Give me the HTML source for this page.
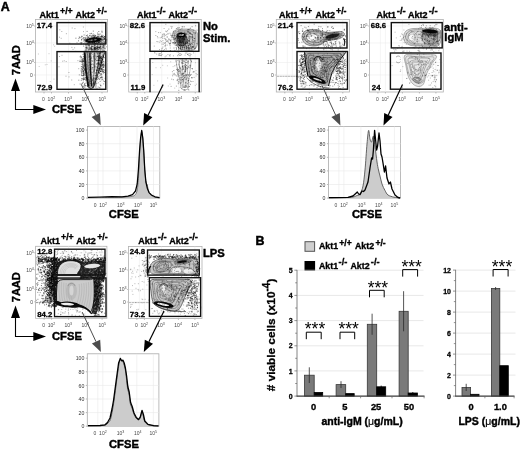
<!DOCTYPE html>
<html><head><meta charset="utf-8"><title>Figure</title>
<style>
html,body{margin:0;padding:0;background:#fff;}
svg{display:block;font-family:'Liberation Sans', Arial, sans-serif;}
</style></head>
<body>
<svg width="520" height="450" viewBox="0 0 520 450" font-family='"Liberation Sans", Arial, sans-serif'>
<rect width="520" height="450" fill="#fff"/>
<text x="0.8" y="10.5" font-size="12.4" font-weight="bold" fill="#000" stroke="#000" stroke-width="0.47" text-anchor="start" >A</text>
<text x="255.4" y="244.6" font-size="12.4" font-weight="bold" fill="#000" stroke="#000" stroke-width="0.47" text-anchor="start" >B</text>
<path d="M15.5 90V109.5H34" fill="none" stroke="#000" stroke-width="1.1"/>
<path d="M15.5 78.6L20 91H11Z" fill="#000"/>
<path d="M46 109.5L33.3 105V114Z" fill="#000"/>
<text x="52" y="112.6" font-size="11.2" font-weight="bold" fill="#000" stroke="#000" stroke-width="0.43" text-anchor="start" >CFSE</text>
<text transform="translate(19.8 75.2) rotate(-90)" font-size="11" font-weight="bold" stroke="#000" stroke-width="0.35">7AAD</text>
<path d="M15.5 317V336.5H34" fill="none" stroke="#000" stroke-width="1.1"/>
<path d="M15.5 305.6L20 318H11Z" fill="#000"/>
<path d="M46 336.5L33.3 332V341Z" fill="#000"/>
<text x="52" y="339.6" font-size="11.2" font-weight="bold" fill="#000" stroke="#000" stroke-width="0.43" text-anchor="start" >CFSE</text>
<text transform="translate(19.8 302.2) rotate(-90)" font-size="11" font-weight="bold" stroke="#000" stroke-width="0.35">7AAD</text>
<rect x="35.5" y="19.5" width="72.1" height="72.5" fill="#fff" stroke="#b0b0b0" stroke-width="0.8"/>
<line x1="46.5" y1="19.5" x2="46.5" y2="92" stroke="#ececec" stroke-width="0.6"/>
<line x1="51.5" y1="19.5" x2="51.5" y2="92" stroke="#ececec" stroke-width="0.6"/>
<line x1="68.5" y1="19.5" x2="68.5" y2="92" stroke="#ececec" stroke-width="0.6"/>
<line x1="85.5" y1="19.5" x2="85.5" y2="92" stroke="#ececec" stroke-width="0.6"/>
<line x1="102.0" y1="19.5" x2="102.0" y2="92" stroke="#ececec" stroke-width="0.6"/>
<line x1="35.5" y1="26.0" x2="107.6" y2="26.0" stroke="#ececec" stroke-width="0.6"/>
<line x1="35.5" y1="43.0" x2="107.6" y2="43.0" stroke="#ececec" stroke-width="0.6"/>
<line x1="35.5" y1="62.5" x2="107.6" y2="62.5" stroke="#ececec" stroke-width="0.6"/>
<line x1="35.5" y1="75.0" x2="107.6" y2="75.0" stroke="#ececec" stroke-width="0.6"/>
<text x="43.5" y="100.5" font-size="5" font-weight="normal" fill="#484848" text-anchor="middle">0</text>
<text x="51.4" y="100.5" font-size="5" font-weight="normal" fill="#484848" text-anchor="middle">10<tspan dy="-1.9" font-size="3.6">2</tspan></text>
<text x="68.1" y="100.5" font-size="5" font-weight="normal" fill="#484848" text-anchor="middle">10<tspan dy="-1.9" font-size="3.6">3</tspan></text>
<text x="85.2" y="100.5" font-size="5" font-weight="normal" fill="#484848" text-anchor="middle">10<tspan dy="-1.9" font-size="3.6">4</tspan></text>
<text x="102.2" y="100.5" font-size="5" font-weight="normal" fill="#484848" text-anchor="middle">10<tspan dy="-1.9" font-size="3.6">5</tspan></text>
<text x="33.7" y="27.7" font-size="5" font-weight="normal" fill="#484848" text-anchor="end">10<tspan dy="-1.9" font-size="3.6">5</tspan></text>
<text x="33.7" y="44.7" font-size="5" font-weight="normal" fill="#484848" text-anchor="end">10<tspan dy="-1.9" font-size="3.6">4</tspan></text>
<text x="33.7" y="64.3" font-size="5" font-weight="normal" fill="#484848" text-anchor="end">10<tspan dy="-1.9" font-size="3.6">3</tspan></text>
<text x="32.9" y="77.1" font-size="5" font-weight="normal" fill="#484848" text-anchor="end">0</text>
<line x1="34.0" y1="26.0" x2="35.5" y2="26.0" stroke="#888" stroke-width="0.5"/>
<line x1="34.0" y1="43.0" x2="35.5" y2="43.0" stroke="#888" stroke-width="0.5"/>
<line x1="34.0" y1="62.5" x2="35.5" y2="62.5" stroke="#888" stroke-width="0.5"/>
<line x1="34.0" y1="75.0" x2="35.5" y2="75.0" stroke="#888" stroke-width="0.5"/>
<line x1="44.0" y1="92" x2="44.0" y2="93.5" stroke="#888" stroke-width="0.5"/>
<line x1="51.5" y1="92" x2="51.5" y2="93.5" stroke="#888" stroke-width="0.5"/>
<line x1="68.5" y1="92" x2="68.5" y2="93.5" stroke="#888" stroke-width="0.5"/>
<line x1="85.5" y1="92" x2="85.5" y2="93.5" stroke="#888" stroke-width="0.5"/>
<line x1="102.0" y1="92" x2="102.0" y2="93.5" stroke="#888" stroke-width="0.5"/>
<path d="M66.4 33.7h.01M74.9 28.6h.01M71.9 47.4h.01M59.5 56.5h.01M59.0 51.8h.01M59.8 29.8h.01M69.0 76.9h.01M61.2 38.3h.01M74.3 84.7h.01M73.0 49.4h.01M83.4 27.0h.01M80.3 42.5h.01M61.8 31.5h.01M66.0 76.2h.01M62.7 61.2h.01M74.6 47.8h.01M72.2 28.0h.01M59.5 37.2h.01M75.7 51.4h.01M66.2 61.5h.01M69.8 43.2h.01M78.7 68.7h.01M64.3 60.8h.01M71.7 80.0h.01M77.0 42.4h.01M83.5 31.6h.01M68.9 72.5h.01M62.0 55.3h.01M59.0 66.8h.01M77.9 60.7h.01" stroke="#444" stroke-width="0.6" stroke-linecap="square" fill="none" opacity="0.7"/>
<path d="M54.6 46.3h.01M51.2 60.9h.01M49.0 53.7h.01M54.0 79.1h.01M47.0 64.5h.01M39.2 66.5h.01M50.3 81.6h.01M53.6 44.8h.01M45.3 64.8h.01M38.4 54.0h.01" stroke="#666" stroke-width="0.6" stroke-linecap="square" fill="none" opacity="0.6"/>
<ellipse cx="94" cy="40" rx="11" ry="4.2" transform="rotate(-6 94 40)" fill="#888" opacity="0.5"/>
<ellipse cx="93.2" cy="40" rx="8.2" ry="2.5" transform="rotate(-7 93.2 40)" fill="#0a0a0a" opacity="0.95"/>
<ellipse cx="92.4" cy="40.2" rx="4.6" ry="0.65" transform="rotate(-7 92.4 40.2)" fill="#d8d8d8" opacity="0.85"/>
<path d="M100 36.5 C103 36.5 105 38 105.3 41 C105 43 103 44 101 44" fill="none" stroke="#333" stroke-width="0.5"/>
<path d="M96.2 41.2h.01M105.3 41.8h.01M98.0 41.6h.01M83.8 43.9h.01M101.0 41.5h.01M81.1 37.8h.01M100.2 34.0h.01M93.2 43.1h.01M85.6 45.0h.01M98.3 39.3h.01M96.7 41.9h.01M95.3 43.5h.01M90.0 38.5h.01M101.6 39.9h.01M88.5 42.8h.01M104.5 38.4h.01M85.1 39.4h.01M93.5 38.8h.01M104.1 36.5h.01M103.1 35.7h.01M89.1 41.8h.01M102.2 42.5h.01M96.8 40.3h.01M95.5 41.6h.01M93.3 40.7h.01M98.4 39.8h.01M99.7 41.6h.01M91.6 38.6h.01M94.4 42.8h.01M92.2 41.0h.01M86.9 40.6h.01M97.2 40.6h.01M91.6 41.9h.01M96.4 38.1h.01M90.7 39.5h.01M93.0 39.6h.01M75.9 38.2h.01M101.4 36.1h.01M94.0 42.9h.01M100.3 44.6h.01M82.9 38.7h.01M92.2 41.8h.01M101.9 31.2h.01M101.9 35.2h.01M99.1 35.0h.01M95.7 43.6h.01M93.5 40.4h.01M99.9 40.3h.01M93.9 44.7h.01M101.6 38.9h.01M100.7 38.9h.01M95.4 42.1h.01M96.0 41.8h.01M84.1 35.0h.01M98.7 36.7h.01M87.5 35.1h.01M103.1 42.2h.01M104.5 36.8h.01M94.5 36.2h.01M99.7 44.9h.01M88.4 44.8h.01M101.2 39.2h.01M81.1 44.3h.01M93.8 37.9h.01M97.2 41.1h.01M104.7 36.5h.01M102.2 44.6h.01M104.4 39.2h.01M89.4 43.1h.01M95.3 40.2h.01M104.2 39.0h.01M78.9 38.6h.01M81.9 42.4h.01M96.7 37.8h.01M94.4 42.5h.01M95.0 44.0h.01M94.1 43.1h.01M104.6 45.0h.01M89.9 42.6h.01M81.7 36.3h.01M81.2 43.2h.01M86.1 39.8h.01M93.2 39.7h.01M90.5 40.5h.01M106.7 39.9h.01M98.1 43.0h.01M93.2 35.8h.01M90.7 43.2h.01M83.3 37.9h.01M101.4 42.3h.01M94.6 42.4h.01M95.6 36.0h.01M83.9 37.8h.01M100.8 38.0h.01M88.4 37.3h.01M84.1 39.4h.01M86.5 41.0h.01M78.5 40.8h.01M90.1 33.6h.01M99.4 38.9h.01M79.3 37.0h.01M96.5 38.3h.01M99.8 42.2h.01M99.0 40.8h.01M103.6 41.9h.01M97.6 33.1h.01M100.6 44.0h.01M92.5 38.3h.01M97.7 47.6h.01M88.2 42.0h.01M98.3 42.7h.01M88.3 39.5h.01M96.5 42.4h.01M94.3 39.2h.01M87.6 38.7h.01M100.6 40.1h.01M88.7 37.1h.01M98.8 31.5h.01M98.7 41.3h.01M106.0 41.2h.01M94.0 41.5h.01M81.3 43.1h.01M96.7 37.6h.01M103.5 45.6h.01M85.0 37.7h.01M96.5 40.4h.01M91.8 36.7h.01M86.4 35.5h.01M106.1 43.0h.01M88.6 40.6h.01M79.8 37.4h.01M94.1 41.5h.01M89.6 39.4h.01M97.6 41.0h.01M98.8 40.5h.01M92.3 42.3h.01M94.8 37.2h.01M90.2 39.8h.01M93.8 40.3h.01M94.5 40.4h.01M93.6 35.8h.01M97.4 43.2h.01M97.5 39.2h.01M97.5 36.7h.01M81.6 40.0h.01M88.2 42.2h.01M87.1 31.4h.01M87.4 44.8h.01M91.9 35.4h.01M89.3 41.5h.01M97.9 40.4h.01M104.6 42.1h.01M94.4 41.7h.01M105.8 42.9h.01M101.5 36.3h.01M93.5 42.1h.01M92.5 43.2h.01M98.6 42.7h.01M93.1 47.9h.01M102.9 39.1h.01M95.1 48.1h.01M92.2 42.6h.01M101.2 39.8h.01M86.6 40.4h.01M96.9 43.4h.01M99.8 39.9h.01M100.3 41.5h.01M95.9 40.0h.01M92.8 42.0h.01M87.3 37.8h.01M94.5 35.1h.01M91.5 33.4h.01M89.9 41.6h.01M98.4 39.6h.01M92.9 35.3h.01M101.9 37.0h.01M93.2 34.0h.01M99.8 42.8h.01M81.6 39.6h.01M98.8 34.2h.01M82.1 36.4h.01M90.2 35.3h.01M94.7 40.6h.01M98.8 42.0h.01M104.7 43.5h.01M85.6 38.2h.01M87.3 36.4h.01M93.9 39.8h.01M97.8 34.7h.01M86.1 39.7h.01M93.1 38.8h.01M94.1 37.4h.01M99.3 40.9h.01M93.9 37.6h.01M93.3 31.1h.01M87.8 39.9h.01M84.3 40.4h.01M95.5 35.4h.01M92.8 38.8h.01M97.6 41.8h.01M94.3 37.1h.01M93.5 39.6h.01M99.5 40.7h.01M89.6 35.5h.01M92.0 37.4h.01M86.9 39.4h.01M91.2 40.1h.01M98.1 38.5h.01M102.0 40.2h.01M102.1 32.2h.01M89.4 40.6h.01M98.6 47.3h.01M96.7 43.9h.01M99.7 42.8h.01M98.0 39.3h.01M98.0 36.3h.01M102.5 36.5h.01M96.2 46.6h.01M93.0 39.9h.01M102.4 39.9h.01M89.0 40.6h.01M98.5 42.1h.01M89.2 45.4h.01M105.8 39.9h.01M96.3 38.4h.01M104.1 37.5h.01M99.1 38.3h.01M89.8 42.1h.01M103.6 39.8h.01M89.9 42.4h.01" stroke="#000" stroke-width="0.62" stroke-linecap="square" fill="none" opacity="0.8"/>
<path d="M85 44.5 L104.5 44.5 L104.5 51.5 L84.5 51.5Z" fill="#aaa" opacity="0.4"/>
<path d="M87 43.5 C86.6 46 86.4 49 86.2 52" fill="none" stroke="#333" stroke-width="0.45" opacity="0.8"/>
<path d="M89.5 43.5 C89.1 46 88.9 49 88.7 52" fill="none" stroke="#333" stroke-width="0.45" opacity="0.8"/>
<path d="M92 43.5 C91.6 46 91.4 49 91.2 52" fill="none" stroke="#333" stroke-width="0.45" opacity="0.8"/>
<path d="M95 43.5 C94.6 46 94.4 49 94.2 52" fill="none" stroke="#333" stroke-width="0.45" opacity="0.8"/>
<path d="M98 43.5 C97.6 46 97.4 49 97.2 52" fill="none" stroke="#333" stroke-width="0.45" opacity="0.8"/>
<path d="M101 43.5 C100.6 46 100.4 49 100.2 52" fill="none" stroke="#333" stroke-width="0.45" opacity="0.8"/>
<path d="M103.5 43.5 C103.1 46 102.9 49 102.7 52" fill="none" stroke="#333" stroke-width="0.45" opacity="0.8"/>
<path d="M94.7 48.7h.01M104.1 50.5h.01M91.9 53.0h.01M95.0 49.7h.01M91.1 47.9h.01M84.5 51.9h.01M103.2 45.3h.01M86.0 44.4h.01M102.1 47.0h.01M94.6 47.3h.01M94.3 45.6h.01M95.1 44.8h.01M94.6 48.7h.01M97.8 47.5h.01M89.6 48.4h.01M92.1 51.4h.01M99.6 47.7h.01M92.2 46.5h.01M89.4 47.2h.01M96.8 49.1h.01M98.4 52.6h.01M90.8 48.0h.01M91.9 48.4h.01M95.9 48.9h.01M93.6 48.8h.01M95.3 49.7h.01M83.6 46.1h.01M95.0 45.7h.01M88.7 49.4h.01M91.1 49.4h.01M99.5 48.7h.01M98.0 47.8h.01M86.5 47.9h.01M97.7 46.8h.01M94.4 49.6h.01M89.7 49.4h.01M106.2 46.8h.01M95.9 47.7h.01M104.2 48.7h.01M100.4 46.5h.01M94.9 48.0h.01M84.3 51.2h.01M100.4 44.2h.01M99.5 47.7h.01M97.7 48.8h.01M86.0 47.5h.01M104.0 46.7h.01M88.9 45.0h.01M87.7 48.7h.01M105.2 48.9h.01M96.5 52.9h.01M91.9 46.5h.01M98.2 49.2h.01M88.9 45.4h.01M96.7 48.5h.01M87.2 47.6h.01M91.7 49.0h.01M94.3 47.8h.01M92.9 50.3h.01M103.3 47.2h.01M100.1 46.3h.01M95.4 49.6h.01M104.1 47.2h.01M94.6 48.4h.01M86.0 48.0h.01M90.9 48.8h.01M88.2 43.7h.01M95.2 48.6h.01M91.7 50.0h.01M93.4 46.7h.01M97.9 44.5h.01M90.9 48.0h.01M100.1 47.6h.01M96.9 46.6h.01M96.8 51.7h.01M90.9 53.2h.01M91.1 48.0h.01M96.0 50.3h.01M87.6 43.4h.01M98.6 49.7h.01M98.7 53.8h.01M96.2 48.6h.01M100.6 48.8h.01M105.0 45.3h.01M92.7 40.4h.01M99.9 47.2h.01M100.5 52.7h.01M95.0 47.4h.01M92.0 46.2h.01M91.2 49.4h.01M95.2 48.1h.01M94.0 50.0h.01M98.0 47.7h.01M99.0 47.7h.01M88.1 51.2h.01M97.8 45.9h.01M101.5 48.8h.01M85.6 51.5h.01M97.0 50.0h.01M96.2 47.7h.01M85.7 50.1h.01M95.2 47.4h.01M97.1 48.2h.01M99.1 47.2h.01M94.8 43.3h.01M92.5 49.5h.01M103.0 47.2h.01M94.3 51.5h.01M93.0 49.6h.01M105.1 48.1h.01" stroke="#000" stroke-width="0.6" stroke-linecap="square" fill="none" opacity="0.75"/>
<path d="M83.6 52 L105 52 L97.5 76 L93.5 88.4 L88.5 88.4 L85.2 70Z" fill="#8c8c8c" opacity="0.6"/>
<path d="M84.6 52.3 C85 64 86.3 76 88.3 86.5" fill="none" stroke="#0d0d0d" stroke-width="1.9"/>
<path d="M87.3 52.5 C87.6 64 88.6 76 90 87.5" fill="none" stroke="#444" stroke-width="0.6"/>
<path d="M89.9 52.5 C90 64 90.6 76 91.6 86.5" fill="none" stroke="#111" stroke-width="1.3"/>
<path d="M92.4 53 C92.5 62 92.8 72 93 80" fill="none" stroke="#f4f4f4" stroke-width="1.1"/>
<path d="M94.6 52.5 C94.6 62 94.2 74 93.4 85" fill="none" stroke="#333" stroke-width="0.7"/>
<path d="M97.3 53.5 C96.8 60 95.8 70 94.8 78" fill="none" stroke="#f4f4f4" stroke-width="1.3"/>
<path d="M100 52.5 C99 60 97 70 95.4 80" fill="none" stroke="#222" stroke-width="0.7"/>
<path d="M102.4 53 C101 59 99 66 97.4 72" fill="none" stroke="#eee" stroke-width="0.9"/>
<path d="M104.6 52.5 C102.5 60 99 70 96.6 78 C95.5 82 94.4 86 92.6 88 C91 88.8 89.4 88.4 88.4 86.6" fill="none" stroke="#1a1a1a" stroke-width="0.9"/>
<path d="M103.7 56.9h.01M101.0 63.2h.01M100.8 75.3h.01M99.0 69.0h.01M97.8 69.0h.01M102.0 61.2h.01M98.7 58.4h.01M99.5 72.6h.01M100.7 60.0h.01M101.9 79.8h.01M100.5 67.7h.01M103.7 66.7h.01M97.2 88.9h.01M100.4 68.2h.01M103.0 70.7h.01M99.8 53.5h.01M100.8 74.3h.01M97.7 53.7h.01M99.8 59.6h.01M101.7 57.0h.01M98.2 60.1h.01M100.4 57.4h.01M100.5 71.5h.01M103.6 81.0h.01M98.5 59.8h.01M98.6 63.7h.01M101.7 63.7h.01M102.6 66.1h.01M101.7 68.4h.01M103.9 61.8h.01M102.8 59.9h.01M102.4 55.9h.01M100.2 81.3h.01M101.7 62.4h.01M97.5 56.1h.01M101.0 73.4h.01M101.6 69.2h.01M100.4 77.5h.01M99.5 58.5h.01M102.8 64.6h.01M99.8 58.2h.01M99.8 70.2h.01M101.6 65.8h.01M97.9 71.7h.01M99.8 60.6h.01M102.6 77.2h.01M98.7 68.4h.01M98.2 87.1h.01M99.2 75.9h.01M98.8 72.1h.01M99.4 69.0h.01M100.3 57.3h.01M96.2 72.5h.01M96.0 75.5h.01M99.0 65.4h.01M103.8 65.2h.01M103.6 71.4h.01M98.4 72.6h.01M101.8 70.5h.01M102.8 71.3h.01M100.9 68.9h.01M99.6 64.4h.01M102.8 59.6h.01M103.5 56.1h.01M101.2 58.7h.01M100.9 57.1h.01M96.3 74.9h.01M101.3 58.4h.01M101.0 73.9h.01M98.0 62.9h.01M101.9 69.3h.01M103.7 67.3h.01M100.5 61.2h.01M101.2 59.7h.01M97.8 56.6h.01M98.9 57.9h.01M97.5 70.4h.01M97.1 70.6h.01M97.9 67.5h.01M104.1 66.0h.01M98.6 64.5h.01M98.9 65.6h.01M99.3 64.8h.01M102.4 71.7h.01M102.9 69.9h.01M99.8 63.8h.01M99.8 60.9h.01M99.6 63.8h.01M98.0 63.8h.01M101.8 62.4h.01M101.8 61.0h.01M102.7 67.7h.01M100.6 58.1h.01M102.2 59.1h.01M101.1 58.9h.01M101.0 71.5h.01M98.2 63.7h.01M102.1 65.5h.01M103.7 83.9h.01M102.7 79.3h.01M102.9 72.1h.01M98.9 56.9h.01M102.8 54.9h.01M98.7 56.7h.01M101.1 56.5h.01M103.9 63.2h.01M97.7 77.1h.01M99.0 66.2h.01M100.5 60.9h.01M101.3 57.1h.01M97.2 56.4h.01M100.4 64.6h.01M101.9 65.2h.01M98.4 56.9h.01M101.8 69.3h.01M100.2 62.3h.01M102.9 64.2h.01M102.4 69.8h.01M101.1 77.1h.01M99.0 60.4h.01M98.4 56.0h.01M104.5 81.6h.01M100.6 69.7h.01M103.6 72.1h.01M98.8 68.5h.01M104.2 65.0h.01M98.3 60.5h.01M98.8 55.4h.01M104.4 57.7h.01M100.6 85.6h.01M103.6 67.4h.01M98.9 68.1h.01M104.7 70.2h.01M103.8 65.0h.01M101.8 62.0h.01M101.6 77.0h.01M96.8 63.4h.01M101.1 58.3h.01M99.7 71.9h.01M105.7 70.3h.01M105.5 64.8h.01M100.4 52.8h.01M100.4 53.0h.01M100.7 68.7h.01M100.6 66.8h.01M98.3 78.3h.01M100.0 56.4h.01M97.9 60.5h.01M101.3 52.2h.01M100.1 78.3h.01M102.3 62.5h.01M100.8 62.8h.01M100.4 71.3h.01M100.4 55.1h.01M102.2 57.9h.01M100.9 85.8h.01M97.8 52.8h.01M96.6 70.2h.01M98.5 60.3h.01M101.4 77.6h.01M105.5 74.3h.01M100.9 65.8h.01M105.2 78.3h.01M99.7 68.6h.01M101.2 64.5h.01M103.7 69.4h.01M97.4 78.0h.01M105.3 72.1h.01M101.9 68.2h.01M101.0 65.7h.01M99.1 57.9h.01M101.5 66.7h.01M100.6 57.2h.01M99.4 73.5h.01M102.5 65.0h.01M99.7 79.5h.01M99.0 70.5h.01M103.5 61.3h.01M102.6 52.8h.01M103.1 66.0h.01M96.4 70.7h.01M98.2 76.8h.01M98.7 62.4h.01M101.2 60.7h.01M101.2 58.5h.01M102.2 64.1h.01M103.5 64.3h.01M101.7 74.7h.01M97.7 79.5h.01M100.1 87.9h.01M100.1 70.8h.01M99.5 52.8h.01M103.4 73.1h.01M104.5 72.6h.01M98.8 57.2h.01M98.4 69.8h.01M101.4 61.3h.01M100.9 62.5h.01M101.1 71.5h.01M103.0 57.1h.01" stroke="#000" stroke-width="0.6" stroke-linecap="square" fill="none" opacity="0.78"/>
<path d="M86.0 83.1h.01M92.5 79.3h.01M85.4 62.0h.01M89.9 74.7h.01M96.3 85.1h.01M94.1 77.3h.01M95.1 75.5h.01M94.2 60.2h.01M93.2 75.5h.01M93.3 71.8h.01M92.1 76.7h.01M89.7 65.0h.01M90.8 72.9h.01M98.4 63.0h.01M100.2 84.3h.01M95.2 73.0h.01M99.1 63.8h.01M91.6 53.2h.01M93.9 82.1h.01M94.1 71.1h.01M91.2 68.0h.01M86.3 78.6h.01M90.4 52.7h.01M89.0 56.1h.01M95.4 78.7h.01M86.6 77.1h.01M95.6 59.0h.01M86.1 57.1h.01M89.5 70.1h.01M89.2 55.7h.01M89.8 81.6h.01M95.4 73.2h.01M89.9 59.4h.01M88.1 72.1h.01M89.0 57.5h.01M94.4 82.0h.01M92.7 54.3h.01M96.9 69.6h.01M95.7 83.7h.01M96.5 60.7h.01M96.2 75.3h.01M85.9 61.1h.01M86.3 64.7h.01M94.3 53.2h.01M93.5 83.7h.01M86.7 78.7h.01M91.2 69.2h.01M91.4 78.0h.01M96.2 67.0h.01M86.6 74.9h.01M90.1 73.5h.01M93.1 85.5h.01M96.6 60.6h.01M93.4 87.2h.01M89.9 71.2h.01M96.8 81.1h.01M87.0 69.0h.01M88.6 79.7h.01M88.7 68.0h.01M90.0 64.1h.01M93.9 56.3h.01M93.9 58.4h.01M89.8 72.4h.01M89.7 69.4h.01M98.4 66.3h.01M91.4 74.8h.01M90.5 79.0h.01M86.9 73.4h.01M90.0 56.4h.01M99.1 55.8h.01M99.0 73.9h.01M97.8 54.3h.01M96.8 83.5h.01M91.5 64.5h.01M101.8 68.1h.01M90.3 58.4h.01M93.8 70.0h.01M92.7 86.7h.01M90.7 71.7h.01M97.8 54.0h.01M96.2 88.0h.01M86.6 52.8h.01M94.0 83.4h.01M85.5 62.2h.01M89.1 62.8h.01M92.2 72.5h.01M90.6 66.2h.01M89.8 67.4h.01M87.3 66.8h.01M99.7 67.0h.01M87.0 69.1h.01M89.1 74.8h.01M93.5 64.8h.01M88.3 53.1h.01M97.4 68.9h.01M87.4 65.1h.01M92.8 64.1h.01M87.8 86.3h.01M89.0 76.1h.01M85.2 62.7h.01M93.0 78.4h.01M87.5 73.1h.01M93.5 57.1h.01M93.9 55.2h.01M88.8 65.8h.01M90.3 75.2h.01M90.4 81.2h.01M98.2 70.8h.01M95.8 56.1h.01M95.2 69.1h.01M94.6 66.3h.01M96.8 58.2h.01M96.6 57.1h.01M87.8 54.7h.01M90.8 58.5h.01M89.8 54.5h.01M92.1 60.5h.01M92.5 69.0h.01M89.9 56.4h.01M89.1 62.5h.01M90.7 77.9h.01M90.2 77.6h.01M96.9 71.2h.01M94.0 67.5h.01M95.8 59.6h.01M95.9 67.1h.01M96.5 64.4h.01M90.4 68.9h.01M90.3 59.5h.01M92.4 67.7h.01M98.1 66.5h.01M99.5 87.6h.01M98.9 78.7h.01M92.5 67.6h.01M91.4 57.2h.01M91.7 58.3h.01M98.6 72.4h.01M91.8 61.0h.01M87.7 52.4h.01M91.9 64.2h.01M97.8 67.6h.01M92.7 61.5h.01M89.6 84.0h.01M96.0 86.6h.01M90.6 66.4h.01M88.5 77.6h.01M86.4 72.8h.01M96.4 82.9h.01M88.2 79.1h.01M89.1 56.9h.01M86.7 79.9h.01M98.6 58.9h.01M89.0 61.9h.01M102.0 78.1h.01M89.3 80.2h.01M99.5 62.8h.01M89.2 59.9h.01M87.7 78.8h.01M93.2 56.8h.01M95.1 66.1h.01" stroke="#000" stroke-width="0.55" stroke-linecap="square" fill="none" opacity="0.6"/>
<path d="M81.4 74.8h.01M82.2 64.2h.01M83.1 71.8h.01M80.5 61.5h.01M84.4 85.4h.01M84.7 64.7h.01M81.4 57.7h.01M82.3 69.6h.01M83.4 86.3h.01M84.0 56.2h.01M83.7 60.1h.01M80.1 56.8h.01M85.1 59.2h.01M81.1 70.2h.01M83.9 74.7h.01M84.7 83.5h.01M82.0 78.8h.01M81.7 75.6h.01M83.8 70.7h.01M85.2 67.8h.01M85.5 77.6h.01M83.7 61.8h.01M82.1 62.2h.01M83.1 67.7h.01M84.9 58.5h.01M82.2 64.5h.01M83.8 56.6h.01M83.5 71.1h.01M83.8 74.6h.01M84.0 69.8h.01M80.1 60.2h.01M79.3 74.9h.01M84.1 65.9h.01M82.0 61.6h.01M83.4 82.2h.01M82.6 58.4h.01M82.5 70.1h.01M83.6 71.0h.01M83.4 78.2h.01M83.8 65.1h.01M84.4 70.1h.01M82.8 59.7h.01M81.0 57.9h.01M84.8 74.0h.01M83.5 73.7h.01M82.4 68.8h.01M83.6 74.1h.01M83.4 66.4h.01M83.3 60.9h.01M84.8 77.2h.01M84.9 55.1h.01M81.9 71.0h.01M84.4 56.8h.01M82.8 63.6h.01M83.6 71.7h.01M83.0 54.4h.01M85.7 85.6h.01M83.3 79.3h.01M84.3 75.3h.01M84.4 59.6h.01M84.5 79.1h.01M82.9 61.4h.01M82.0 69.3h.01M83.4 75.4h.01M84.7 73.2h.01M84.0 65.7h.01M83.3 58.9h.01M83.8 67.7h.01M84.1 58.6h.01M83.6 68.5h.01M84.6 56.3h.01M84.3 78.8h.01M84.6 63.9h.01M82.6 65.4h.01M84.8 85.1h.01M83.2 60.9h.01M84.2 70.2h.01M81.9 59.9h.01M83.3 75.4h.01M81.4 56.8h.01M84.4 54.5h.01M83.7 71.9h.01M83.3 56.8h.01M83.4 64.3h.01M84.1 58.8h.01M83.2 68.1h.01M85.2 61.3h.01M84.5 61.8h.01M84.8 87.1h.01M82.8 72.9h.01M81.8 78.7h.01M85.7 68.4h.01M81.5 72.4h.01M85.6 80.0h.01M82.3 83.6h.01M81.3 80.4h.01M85.5 64.3h.01M81.3 66.9h.01M83.1 67.5h.01M84.8 66.4h.01M83.8 72.7h.01M83.5 88.3h.01M84.3 68.9h.01M83.1 61.1h.01M85.9 69.7h.01M81.6 61.8h.01M83.3 63.1h.01M85.5 55.2h.01M84.4 69.6h.01M81.4 68.5h.01M83.3 73.5h.01M82.7 71.3h.01M80.5 56.1h.01M84.9 79.5h.01M83.5 61.4h.01M82.1 75.4h.01M84.7 56.6h.01M80.1 84.0h.01M83.8 58.1h.01M83.6 77.9h.01M78.8 80.2h.01M85.6 72.4h.01M83.5 79.5h.01M82.3 60.2h.01M82.8 67.2h.01M81.6 73.3h.01M84.5 68.8h.01M85.9 62.0h.01M83.9 66.1h.01M82.6 61.3h.01M82.9 60.1h.01M79.6 61.4h.01M82.5 62.2h.01M81.6 66.5h.01M84.9 65.2h.01M82.6 82.9h.01M85.3 78.1h.01M85.6 64.4h.01M83.3 80.2h.01M82.5 66.7h.01M84.2 72.1h.01M83.0 78.8h.01M83.2 76.0h.01M85.4 75.3h.01M84.8 55.2h.01M81.1 61.2h.01M84.4 84.5h.01M81.3 71.4h.01M82.0 59.9h.01M83.0 75.6h.01" stroke="#111" stroke-width="0.6" stroke-linecap="square" fill="none" opacity="0.75"/>
<path d="M92.9 87.5h.01M88.1 86.7h.01M95.7 84.2h.01M93.9 82.3h.01M87.6 82.8h.01M90.1 89.0h.01M92.8 84.9h.01M95.0 81.7h.01M95.7 85.1h.01M85.9 85.8h.01M94.2 85.4h.01M98.3 82.8h.01M94.0 86.2h.01M88.4 87.6h.01M86.2 80.1h.01M94.1 80.7h.01M91.5 79.1h.01M92.3 80.6h.01M93.4 79.4h.01M93.8 83.2h.01M92.3 83.8h.01M92.5 80.0h.01M81.7 84.1h.01M88.3 82.6h.01M93.7 78.0h.01M88.9 82.2h.01M87.8 85.0h.01M91.4 81.5h.01M88.1 86.4h.01M89.4 85.8h.01M93.8 78.3h.01M87.7 84.0h.01M93.4 86.3h.01M95.2 87.1h.01M90.5 83.4h.01M95.1 82.7h.01M96.2 79.2h.01M94.6 83.5h.01M84.1 86.9h.01M93.2 84.1h.01" stroke="#111" stroke-width="0.6" stroke-linecap="square" fill="none" opacity="0.7"/>
<rect x="57" y="22.6" width="48.8" height="21.4" fill="none" stroke="#111" stroke-width="1.4"/>
<rect x="57" y="51.6" width="48.8" height="37.699999999999996" fill="none" stroke="#111" stroke-width="1.4"/>
<text x="36.8" y="28.2" font-size="7.8" font-weight="bold" fill="#000" stroke="#000" stroke-width="0.3" text-anchor="start" >17.4</text>
<rect x="36.2" y="83.6" width="16.8" height="7" fill="#fff"/>
<text x="37.1" y="89.8" font-size="7.8" font-weight="bold" fill="#000" stroke="#000" stroke-width="0.3" text-anchor="start" >72.9</text>
<text x="39.5" y="17.6" font-size="9" font-weight="bold" fill="#000" stroke="#000" stroke-width="0.34" text-anchor="start" >Akt1</text>
<text x="60" y="14.000000000000002" font-size="8.8" font-weight="bold" fill="#000" stroke="#000" stroke-width="0.33" text-anchor="start" >+/+</text>
<text x="96.3" y="14.000000000000002" font-size="8.8" font-weight="bold" fill="#000" stroke="#000" stroke-width="0.33" text-anchor="start" >+/-</text>
<text x="75.5" y="17.6" font-size="9" font-weight="bold" fill="#000" stroke="#000" stroke-width="0.34" text-anchor="start" >Akt2</text>
<rect x="128.75" y="19.5" width="72.5" height="72.5" fill="#fff" stroke="#b0b0b0" stroke-width="0.8"/>
<line x1="139.75" y1="19.5" x2="139.75" y2="92" stroke="#ececec" stroke-width="0.6"/>
<line x1="144.75" y1="19.5" x2="144.75" y2="92" stroke="#ececec" stroke-width="0.6"/>
<line x1="161.75" y1="19.5" x2="161.75" y2="92" stroke="#ececec" stroke-width="0.6"/>
<line x1="178.75" y1="19.5" x2="178.75" y2="92" stroke="#ececec" stroke-width="0.6"/>
<line x1="195.25" y1="19.5" x2="195.25" y2="92" stroke="#ececec" stroke-width="0.6"/>
<line x1="128.75" y1="26.0" x2="201.25" y2="26.0" stroke="#ececec" stroke-width="0.6"/>
<line x1="128.75" y1="43.0" x2="201.25" y2="43.0" stroke="#ececec" stroke-width="0.6"/>
<line x1="128.75" y1="62.5" x2="201.25" y2="62.5" stroke="#ececec" stroke-width="0.6"/>
<line x1="128.75" y1="75.0" x2="201.25" y2="75.0" stroke="#ececec" stroke-width="0.6"/>
<text x="136.75" y="100.5" font-size="5" font-weight="normal" fill="#484848" text-anchor="middle">0</text>
<text x="144.65" y="100.5" font-size="5" font-weight="normal" fill="#484848" text-anchor="middle">10<tspan dy="-1.9" font-size="3.6">2</tspan></text>
<text x="161.35" y="100.5" font-size="5" font-weight="normal" fill="#484848" text-anchor="middle">10<tspan dy="-1.9" font-size="3.6">3</tspan></text>
<text x="178.45" y="100.5" font-size="5" font-weight="normal" fill="#484848" text-anchor="middle">10<tspan dy="-1.9" font-size="3.6">4</tspan></text>
<text x="195.45" y="100.5" font-size="5" font-weight="normal" fill="#484848" text-anchor="middle">10<tspan dy="-1.9" font-size="3.6">5</tspan></text>
<text x="126.95" y="27.7" font-size="5" font-weight="normal" fill="#484848" text-anchor="end">10<tspan dy="-1.9" font-size="3.6">5</tspan></text>
<text x="126.95" y="44.7" font-size="5" font-weight="normal" fill="#484848" text-anchor="end">10<tspan dy="-1.9" font-size="3.6">4</tspan></text>
<text x="126.95" y="64.3" font-size="5" font-weight="normal" fill="#484848" text-anchor="end">10<tspan dy="-1.9" font-size="3.6">3</tspan></text>
<text x="126.15" y="77.1" font-size="5" font-weight="normal" fill="#484848" text-anchor="end">0</text>
<line x1="127.25" y1="26.0" x2="128.75" y2="26.0" stroke="#888" stroke-width="0.5"/>
<line x1="127.25" y1="43.0" x2="128.75" y2="43.0" stroke="#888" stroke-width="0.5"/>
<line x1="127.25" y1="62.5" x2="128.75" y2="62.5" stroke="#888" stroke-width="0.5"/>
<line x1="127.25" y1="75.0" x2="128.75" y2="75.0" stroke="#888" stroke-width="0.5"/>
<line x1="137.25" y1="92" x2="137.25" y2="93.5" stroke="#888" stroke-width="0.5"/>
<line x1="144.75" y1="92" x2="144.75" y2="93.5" stroke="#888" stroke-width="0.5"/>
<line x1="161.75" y1="92" x2="161.75" y2="93.5" stroke="#888" stroke-width="0.5"/>
<line x1="178.75" y1="92" x2="178.75" y2="93.5" stroke="#888" stroke-width="0.5"/>
<line x1="195.25" y1="92" x2="195.25" y2="93.5" stroke="#888" stroke-width="0.5"/>
<path d="M172.5 34.0C172.8 31.9 174.2 30.6 176.5 29.8C178.8 29.0 183.1 29.0 186.0 29.0C188.9 29.0 192.1 29.2 194.0 30.0C195.9 30.8 197.0 31.8 197.6 34.0C198.2 36.2 198.3 40.4 197.8 43.0C197.3 45.6 196.3 48.2 194.5 49.5C192.7 50.8 189.5 50.8 187.0 50.6C184.5 50.4 181.5 49.9 179.5 48.5C177.5 47.1 176.2 44.9 175.0 42.5C173.8 40.1 172.2 36.1 172.5 34.0Z" fill="#8a8a8a" opacity="0.4"/>
<path d="M172.5 34.0C172.8 31.9 174.2 30.6 176.5 29.8C178.8 29.0 183.1 29.0 186.0 29.0C188.9 29.0 192.1 29.2 194.0 30.0C195.9 30.8 197.0 31.8 197.6 34.0C198.2 36.2 198.3 40.4 197.8 43.0C197.3 45.6 196.3 48.2 194.5 49.5C192.7 50.8 189.5 50.8 187.0 50.6C184.5 50.4 181.5 49.9 179.5 48.5C177.5 47.1 176.2 44.9 175.0 42.5C173.8 40.1 172.2 36.1 172.5 34.0Z" fill="none" stroke="#444" stroke-width="0.4"/>
<path d="M174.5 35.0C174.7 33.2 176.3 31.9 178.1 31.2C180.0 30.4 183.0 30.7 185.4 30.7C187.8 30.7 190.9 30.5 192.5 31.2C194.1 31.9 194.6 33.2 195.0 34.9C195.4 36.7 195.2 39.7 194.8 41.8C194.5 43.9 194.3 46.7 192.9 47.7C191.5 48.7 188.4 48.0 186.3 47.9C184.2 47.7 182.1 47.7 180.5 46.7C178.9 45.7 177.8 44.0 176.8 42.1C175.8 40.1 174.2 36.8 174.5 35.0Z" fill="none" stroke="#444" stroke-width="0.4"/>
<path d="M176.7 35.2C176.9 33.8 177.1 32.9 178.5 32.4C179.9 31.8 183.1 32.1 184.9 32.1C186.8 32.1 188.5 31.8 189.7 32.4C191.0 32.9 192.0 33.8 192.5 35.4C192.9 36.9 192.7 40.0 192.3 41.5C192.0 43.1 191.6 43.9 190.5 44.7C189.4 45.5 187.1 46.2 185.5 46.2C183.8 46.2 181.9 45.7 180.6 44.7C179.2 43.8 178.0 42.1 177.4 40.5C176.7 38.9 176.5 36.5 176.7 35.2Z" fill="none" stroke="#333" stroke-width="0.4"/>
<path d="M178.5 36.0C178.7 34.9 179.2 34.0 180.2 33.7C181.2 33.3 183.1 33.6 184.4 33.6C185.7 33.7 186.9 33.7 187.8 34.2C188.7 34.7 189.4 35.4 189.7 36.4C190.1 37.3 190.2 38.9 189.9 39.9C189.6 41.0 188.7 42.1 187.9 42.7C187.1 43.2 186.3 43.2 185.1 43.1C183.9 43.1 181.9 42.7 181.0 42.2C180.0 41.7 179.8 41.2 179.3 40.1C178.9 39.1 178.4 37.1 178.5 36.0Z" fill="none" stroke="#333" stroke-width="0.4"/>
<ellipse cx="182" cy="39.5" rx="5.6" ry="7" fill="#222" opacity="0.5"/>
<ellipse cx="181.6" cy="36.5" rx="4.6" ry="3.6" fill="#111" opacity="0.55"/>
<path d="M177.5 37.5 C177.7 41 178.3 45 178.7 50" fill="none" stroke="#1a1a1a" stroke-width="0.5" opacity="0.85"/>
<path d="M179.3 37.5 C179.5 41 180.25000000000003 45 180.8 50" fill="none" stroke="#1a1a1a" stroke-width="0.5" opacity="0.85"/>
<path d="M181 37.5 C181.2 41 182.10000000000002 45 182.79999999999998 50" fill="none" stroke="#1a1a1a" stroke-width="0.5" opacity="0.85"/>
<path d="M182.8 37.5 C183.0 41 184.05 45 184.9 50" fill="none" stroke="#1a1a1a" stroke-width="0.5" opacity="0.85"/>
<path d="M184.6 37.5 C184.79999999999998 41 186.0 45 186.99999999999997 50" fill="none" stroke="#1a1a1a" stroke-width="0.5" opacity="0.85"/>
<path d="M186.6 37.5 C186.79999999999998 41 188.15 45 189.29999999999998 50" fill="none" stroke="#1a1a1a" stroke-width="0.5" opacity="0.85"/>
<path d="M189 37.5 C189.2 41 190.70000000000002 45 192.0 50" fill="none" stroke="#1a1a1a" stroke-width="0.5" opacity="0.85"/>
<ellipse cx="181.3" cy="34.9" rx="3.5" ry="1.55" fill="#fff" stroke="#000" stroke-width="1.3"/>
<path d="M173.4 31.3h.01M184.0 39.4h.01M183.8 33.3h.01M181.6 33.1h.01M185.7 43.5h.01M195.3 47.2h.01M177.4 36.0h.01M176.4 41.0h.01M196.9 43.6h.01M167.6 30.8h.01M174.0 42.3h.01M183.0 40.9h.01M195.5 33.6h.01M177.1 51.8h.01M185.4 33.9h.01M168.8 29.1h.01M165.9 39.4h.01M183.3 45.5h.01M182.0 34.5h.01M177.8 51.4h.01M170.6 40.1h.01M183.2 43.0h.01M180.2 42.2h.01M188.7 38.0h.01M179.8 37.8h.01M176.2 37.6h.01M180.9 40.4h.01M192.4 47.5h.01M179.9 42.9h.01M185.1 44.0h.01M183.2 40.7h.01M179.7 33.9h.01M189.1 47.4h.01M187.6 41.8h.01M184.9 36.1h.01M170.5 43.3h.01M184.4 35.4h.01M176.2 47.3h.01M170.4 50.5h.01M187.5 54.4h.01M178.0 38.9h.01M179.5 40.0h.01M181.5 34.1h.01M190.5 33.9h.01M179.4 42.6h.01M179.2 36.2h.01M185.5 36.6h.01M174.3 38.3h.01M181.5 50.1h.01M175.3 45.3h.01M177.5 36.7h.01M180.7 40.8h.01M189.0 50.4h.01M178.5 47.6h.01M190.0 44.3h.01M177.7 44.9h.01M182.2 41.3h.01M181.1 43.3h.01M190.8 46.4h.01M181.6 45.5h.01M193.2 32.9h.01M193.3 30.3h.01M186.8 42.9h.01M193.4 40.8h.01M179.6 33.8h.01M174.2 44.0h.01M181.3 34.3h.01M186.7 34.0h.01M179.9 36.0h.01M194.6 48.5h.01M181.9 28.8h.01M184.9 39.5h.01M185.4 42.7h.01M180.8 45.0h.01M188.9 40.4h.01M180.2 35.9h.01M187.8 31.9h.01M181.9 34.1h.01M173.2 42.9h.01M182.8 39.2h.01M189.1 29.3h.01M182.5 40.9h.01M188.8 31.9h.01M188.0 40.4h.01M192.5 46.4h.01M186.8 53.0h.01M183.0 36.2h.01M180.6 32.9h.01M182.8 26.8h.01M182.4 41.8h.01M189.9 36.7h.01M192.7 34.8h.01M182.1 26.8h.01M177.7 33.9h.01M193.2 42.4h.01M175.5 42.4h.01M186.3 37.5h.01M183.2 37.1h.01M179.3 27.7h.01M182.4 47.2h.01M192.8 37.2h.01M177.9 37.7h.01M189.1 41.2h.01M179.0 41.3h.01M181.6 42.3h.01M180.2 29.7h.01M183.4 43.8h.01M175.4 38.3h.01M189.0 36.6h.01M178.6 51.9h.01M188.7 45.5h.01M176.5 49.3h.01M171.7 35.7h.01M188.0 47.4h.01M176.7 34.8h.01M184.3 26.8h.01M187.4 42.5h.01M180.0 42.4h.01M188.3 41.0h.01M186.6 48.6h.01M179.8 40.0h.01M179.4 45.5h.01M180.2 42.0h.01M183.9 39.4h.01M194.6 38.5h.01M192.6 44.2h.01M191.9 38.0h.01M189.3 43.8h.01M178.8 40.7h.01M182.1 38.8h.01M191.8 34.5h.01M171.6 28.1h.01M179.9 35.0h.01M183.1 42.6h.01M194.9 40.9h.01M186.1 34.4h.01M186.9 47.5h.01M192.1 26.7h.01M189.0 48.9h.01M188.6 29.6h.01M180.9 42.7h.01M185.8 33.9h.01M177.0 45.0h.01M174.0 48.0h.01M183.1 40.9h.01M174.0 35.3h.01M187.6 29.8h.01M197.0 30.2h.01M174.8 39.3h.01M186.2 43.6h.01M180.5 37.7h.01M181.4 35.4h.01M165.6 45.0h.01M184.7 40.0h.01M178.8 40.6h.01M182.9 38.5h.01M190.4 28.2h.01M184.7 32.3h.01M180.9 48.4h.01M175.7 38.4h.01M179.0 44.9h.01M176.4 28.5h.01M186.5 36.8h.01M180.9 45.7h.01M177.0 36.7h.01M184.0 41.6h.01M179.5 45.5h.01M195.6 25.8h.01M192.5 36.9h.01M183.9 36.9h.01M178.7 31.0h.01M180.3 47.1h.01M190.7 36.8h.01M179.5 34.6h.01M174.9 50.3h.01M187.5 39.7h.01M179.7 32.6h.01M191.8 43.9h.01M176.6 45.2h.01M175.6 43.0h.01M176.5 36.4h.01M186.3 41.7h.01M189.8 33.8h.01M193.6 47.4h.01M182.9 41.9h.01M177.8 38.0h.01M174.1 39.6h.01M184.3 47.4h.01M189.4 44.1h.01M180.6 37.6h.01M180.7 40.4h.01M170.0 43.8h.01M172.5 35.8h.01M183.1 35.8h.01M194.2 38.4h.01M193.6 46.3h.01M179.7 41.5h.01M191.7 36.9h.01M183.6 35.5h.01M183.4 36.8h.01M183.6 45.3h.01M192.4 39.8h.01M184.4 44.3h.01M181.1 32.4h.01M190.5 33.2h.01M189.3 33.0h.01M195.3 32.5h.01M188.7 48.4h.01M176.5 48.3h.01M177.5 28.0h.01M187.9 43.4h.01M182.6 37.1h.01M180.5 37.2h.01M171.0 35.5h.01M195.1 48.7h.01M180.6 34.6h.01M185.7 45.6h.01M187.9 31.7h.01M184.1 39.9h.01M192.7 46.5h.01M186.5 46.6h.01M180.3 48.6h.01M180.1 41.5h.01M189.2 33.3h.01M178.3 28.0h.01M184.1 38.7h.01M180.8 42.1h.01M168.8 38.9h.01M183.6 37.3h.01M188.3 49.9h.01" stroke="#000" stroke-width="0.6" stroke-linecap="square" fill="none" opacity="0.72"/>
<path d="M164.0 33.7h.01M162.9 40.6h.01M170.9 34.2h.01M173.7 33.1h.01M172.6 42.9h.01M170.1 54.5h.01M165.2 38.9h.01M170.2 45.8h.01M158.0 41.8h.01M162.0 44.2h.01M176.2 40.3h.01M166.3 41.2h.01M170.8 41.1h.01M164.3 35.1h.01M165.8 48.2h.01M166.3 49.1h.01M168.8 39.9h.01M155.8 35.5h.01M175.4 31.3h.01M160.3 32.6h.01M163.3 44.3h.01M171.0 26.4h.01M176.8 36.0h.01M163.0 51.2h.01M166.5 31.7h.01M162.7 35.1h.01M160.2 37.8h.01M172.9 42.4h.01M160.3 40.8h.01M167.2 45.1h.01M164.8 43.1h.01M181.2 40.6h.01M159.7 42.2h.01M161.6 37.5h.01M168.3 42.3h.01M165.1 45.7h.01M165.7 31.2h.01M172.9 37.6h.01M175.2 35.6h.01M170.8 42.1h.01M159.5 49.5h.01M154.3 46.1h.01M174.3 43.3h.01M171.5 36.7h.01M166.9 41.5h.01M169.8 44.8h.01M165.6 35.3h.01M163.2 42.8h.01M155.8 31.6h.01M164.2 36.3h.01M164.7 38.3h.01M172.2 26.7h.01M164.9 43.2h.01M170.3 48.0h.01M174.1 32.9h.01M171.3 37.7h.01M161.6 50.3h.01M162.8 34.3h.01M164.3 34.3h.01M173.8 42.6h.01M176.4 42.8h.01M162.9 47.0h.01M162.6 36.9h.01M165.9 40.3h.01M175.0 35.9h.01M169.4 39.8h.01M158.5 32.6h.01M165.5 42.7h.01M169.2 43.2h.01M167.3 37.0h.01M169.9 33.2h.01M157.9 37.8h.01M157.4 36.5h.01M162.0 36.3h.01M166.7 34.6h.01M164.1 28.5h.01M168.0 34.1h.01M161.6 41.6h.01M167.6 40.7h.01M156.9 41.5h.01M168.0 33.4h.01M172.0 39.7h.01M167.1 37.0h.01M170.7 40.7h.01M174.7 43.1h.01M162.8 38.5h.01M173.2 37.5h.01M169.6 43.5h.01M165.8 24.3h.01M167.9 41.4h.01" stroke="#222" stroke-width="0.6" stroke-linecap="square" fill="none" opacity="0.6"/>
<path d="M186.2 48.7h.01M195.2 51.5h.01M180.0 49.8h.01M187.2 51.1h.01M166.2 55.9h.01M156.7 54.1h.01M154.9 53.1h.01M169.7 55.5h.01M154.6 52.2h.01M170.0 56.1h.01M193.6 52.9h.01M161.9 48.8h.01M163.5 50.8h.01M162.2 48.2h.01M185.4 53.1h.01M165.1 56.9h.01M161.5 52.3h.01M158.9 55.5h.01M190.2 48.9h.01M185.1 55.1h.01M164.4 49.6h.01M173.4 55.8h.01M159.1 53.5h.01M178.3 51.0h.01M177.5 55.7h.01M161.2 55.7h.01M167.9 54.6h.01M190.0 48.0h.01M190.0 56.9h.01M165.1 46.3h.01" stroke="#333" stroke-width="0.6" stroke-linecap="square" fill="none" opacity="0.65"/>
<ellipse cx="160.5" cy="54.6" rx="1.6" ry="0.9" fill="none" stroke="#444" stroke-width="0.4"/>
<ellipse cx="180" cy="54.6" rx="1.6" ry="0.9" fill="none" stroke="#444" stroke-width="0.4"/>
<ellipse cx="189.5" cy="54.6" rx="1.6" ry="0.9" fill="none" stroke="#444" stroke-width="0.4"/>
<path d="M176 59.5 C176.5 68 180.0 78 181.0 88" fill="none" stroke="#3a3a3a" stroke-width="0.45" opacity="0.8"/>
<path d="M179 59.5 C179.5 68 181.5 78 182.5 88" fill="none" stroke="#3a3a3a" stroke-width="0.45" opacity="0.8"/>
<path d="M182 59.5 C182.5 68 183.0 78 184.0 88" fill="none" stroke="#3a3a3a" stroke-width="0.45" opacity="0.8"/>
<path d="M185 59.5 C185.5 68 184.5 78 185.5 88" fill="none" stroke="#3a3a3a" stroke-width="0.45" opacity="0.8"/>
<path d="M188 59.5 C188.5 68 186.0 78 187.0 88" fill="none" stroke="#3a3a3a" stroke-width="0.45" opacity="0.8"/>
<path d="M191 59.5 C191.5 68 187.5 78 188.5 88" fill="none" stroke="#3a3a3a" stroke-width="0.45" opacity="0.8"/>
<path d="M181 88 C182.5 90.4 187 90.4 188.5 88" fill="none" stroke="#3a3a3a" stroke-width="0.45" opacity="0.8"/>
<path d="M196.1 73.4h.01M189.2 86.6h.01M186.7 75.8h.01M183.0 67.6h.01M185.4 71.6h.01M183.4 69.2h.01M180.0 71.8h.01M181.7 74.2h.01M188.6 80.7h.01M187.8 80.8h.01M187.6 87.1h.01M189.4 86.4h.01M181.3 72.0h.01M180.1 82.2h.01M188.4 67.0h.01M190.6 60.1h.01M183.5 78.8h.01M183.8 76.1h.01M190.3 75.5h.01M178.1 79.7h.01M183.5 73.2h.01M177.3 68.2h.01M190.1 59.6h.01M180.1 77.7h.01M171.1 86.4h.01M179.9 79.1h.01M181.4 75.3h.01M184.6 72.0h.01M183.8 87.1h.01M181.1 77.7h.01M184.9 77.2h.01M185.5 70.1h.01M182.3 62.9h.01M179.8 61.0h.01M193.1 72.1h.01M188.0 61.5h.01M184.8 87.4h.01M183.8 61.3h.01M182.7 61.3h.01M176.5 69.5h.01M181.9 63.3h.01M179.3 62.0h.01M185.3 86.9h.01M175.3 74.9h.01M177.8 70.3h.01M184.5 78.0h.01M190.1 66.1h.01M177.3 70.0h.01M185.6 64.5h.01M188.8 90.0h.01M176.4 75.9h.01M185.1 69.6h.01M176.4 86.1h.01M185.2 66.9h.01M186.4 78.9h.01M188.1 78.2h.01M186.2 59.4h.01M181.7 73.4h.01M182.0 60.7h.01M174.2 74.7h.01M184.2 65.7h.01M181.8 62.5h.01M180.0 70.9h.01M180.5 79.3h.01M183.2 73.4h.01M186.2 85.6h.01M187.2 74.4h.01M183.1 63.4h.01M182.2 79.3h.01M185.2 67.8h.01M185.7 83.0h.01M182.9 74.4h.01M179.1 75.7h.01M182.9 63.1h.01M177.3 80.7h.01M185.9 62.5h.01M178.6 81.5h.01M187.2 68.7h.01M192.5 68.9h.01M178.3 83.7h.01M183.0 75.7h.01M184.2 61.3h.01M177.6 69.9h.01M191.5 61.2h.01M191.3 74.4h.01M178.0 74.9h.01M187.0 62.4h.01M172.6 75.8h.01M178.1 76.7h.01M173.8 70.5h.01M182.7 73.8h.01M181.0 59.4h.01M186.9 77.3h.01M193.0 81.5h.01M185.9 74.8h.01M191.8 77.6h.01M182.5 59.7h.01M191.9 77.7h.01M177.7 79.2h.01M194.1 71.8h.01M186.1 67.6h.01M180.6 83.5h.01M183.3 80.5h.01M182.4 79.8h.01M188.4 61.1h.01M178.3 71.2h.01M188.4 75.0h.01M186.6 65.4h.01M184.5 75.4h.01M178.8 69.6h.01M177.8 74.8h.01M179.5 66.7h.01M185.2 65.0h.01M190.1 65.2h.01M188.5 75.0h.01M178.5 69.7h.01M179.5 68.1h.01M181.8 88.7h.01M171.7 79.2h.01M173.4 79.7h.01M189.5 76.2h.01M182.9 69.3h.01M185.4 68.8h.01M181.1 68.1h.01M190.2 65.4h.01M186.0 59.7h.01M182.9 79.3h.01M185.6 66.8h.01M187.3 68.3h.01M186.0 74.9h.01M177.1 80.2h.01M182.7 66.1h.01M192.0 77.9h.01M194.1 77.4h.01M182.9 79.7h.01M179.8 67.2h.01M181.0 69.6h.01M188.1 66.9h.01M185.7 66.7h.01M182.9 73.8h.01M178.3 82.8h.01M185.2 85.6h.01M189.1 78.8h.01M183.2 60.4h.01M182.8 67.1h.01M185.3 67.1h.01M190.2 67.0h.01M182.7 81.8h.01M184.0 59.1h.01M186.2 69.9h.01M173.1 74.1h.01M178.4 64.1h.01M186.6 75.2h.01M186.2 65.5h.01M185.3 70.7h.01M183.0 69.1h.01M181.0 82.4h.01M184.1 90.1h.01M188.2 89.5h.01M183.4 76.0h.01M181.7 70.2h.01M174.8 65.8h.01M179.0 65.1h.01M190.5 74.8h.01M190.5 81.1h.01M188.9 82.7h.01M180.8 80.5h.01M182.3 66.4h.01M178.8 90.4h.01M188.4 63.0h.01M185.4 75.9h.01M186.0 68.2h.01M177.2 72.3h.01M188.6 80.3h.01M187.5 83.7h.01M178.7 71.6h.01M185.8 82.6h.01M184.8 77.5h.01M172.4 71.7h.01M197.1 74.5h.01M174.3 73.4h.01M176.4 64.8h.01M185.2 90.2h.01M186.5 79.1h.01M189.4 74.1h.01M179.5 71.0h.01M185.8 69.1h.01M180.5 68.2h.01M176.0 61.1h.01M183.5 68.2h.01M184.2 86.9h.01M185.6 71.7h.01M177.8 60.6h.01M186.0 62.8h.01M186.3 60.6h.01M184.7 71.2h.01M189.3 67.8h.01M182.0 74.6h.01M184.3 89.9h.01M182.6 66.3h.01M182.3 77.0h.01M185.2 79.3h.01M193.7 71.7h.01M177.6 73.6h.01M186.4 86.6h.01M191.3 81.6h.01M182.1 77.3h.01M192.0 68.5h.01M183.9 66.1h.01M191.5 61.8h.01" stroke="#111" stroke-width="0.58" stroke-linecap="square" fill="none" opacity="0.65"/>
<path d="M190.3 84.7h.01M179.2 72.9h.01M190.0 84.1h.01M192.1 68.6h.01M196.2 76.0h.01M195.5 62.7h.01M196.5 84.2h.01M163.6 85.8h.01M162.7 65.3h.01M173.1 66.6h.01M174.7 88.1h.01M183.5 81.7h.01M170.0 84.1h.01M188.5 80.9h.01M195.3 85.4h.01M170.7 61.8h.01M182.0 85.8h.01M167.6 78.0h.01M190.5 84.4h.01M152.2 74.6h.01M152.8 62.5h.01M189.4 72.4h.01M179.8 73.6h.01M167.4 65.8h.01M168.3 86.0h.01M180.5 68.3h.01M156.0 67.7h.01M184.3 73.1h.01M182.4 84.8h.01M157.6 80.9h.01M153.9 85.3h.01M160.5 67.7h.01M196.1 70.6h.01M162.3 87.5h.01M180.1 87.6h.01" stroke="#555" stroke-width="0.55" stroke-linecap="square" fill="none" opacity="0.6"/>
<rect x="150" y="22.6" width="48.900000000000006" height="28.699999999999996" fill="none" stroke="#111" stroke-width="1.4"/>
<path d="M150 92.3V58.6H199.2V92.3" fill="none" stroke="#111" stroke-width="1.4"/>
<text x="129.8" y="28.2" font-size="7.8" font-weight="bold" fill="#000" stroke="#000" stroke-width="0.3" text-anchor="start" >82.6</text>
<rect x="129.6" y="83.6" width="16.6" height="7.8" fill="#fff"/>
<text x="130.5" y="90" font-size="7.8" font-weight="bold" fill="#000" stroke="#000" stroke-width="0.3" text-anchor="start" >11.9</text>
<text x="137" y="17.6" font-size="9" font-weight="bold" fill="#000" stroke="#000" stroke-width="0.34" text-anchor="start" >Akt1</text>
<text x="156.6" y="13.500000000000002" font-size="9.5" font-weight="bold" fill="#000" stroke="#000" stroke-width="0.36" text-anchor="start" >-/-</text>
<text x="188.2" y="13.500000000000002" font-size="9.5" font-weight="bold" fill="#000" stroke="#000" stroke-width="0.36" text-anchor="start" >-/-</text>
<text x="168.5" y="17.6" font-size="9" font-weight="bold" fill="#000" stroke="#000" stroke-width="0.34" text-anchor="start" >Akt2</text>
<text x="203" y="30.2" font-size="11.2" font-weight="bold" fill="#000" stroke="#000" stroke-width="0.43" text-anchor="start" >No</text>
<text x="203" y="41.6" font-size="11.2" font-weight="bold" fill="#000" stroke="#000" stroke-width="0.43" text-anchor="start" >Stim.</text>
<line x1="81.3" y1="84.4" x2="95.8" y2="114.9" stroke="#4d4d4d" stroke-width="1.0"/>
<path d="M100.7 125.3L91.6 116.9L99.9 112.9Z" fill="#4d4d4d"/>
<line x1="163.1" y1="84.4" x2="148.2" y2="115.1" stroke="#000" stroke-width="1.2"/>
<path d="M143.2 125.5L144.1 113.1L152.4 117.2Z" fill="#000"/>
<rect x="87.5" y="126.4" width="72.30000000000001" height="71.69999999999999" fill="#fff" stroke="#aaa" stroke-width="0.8"/>
<line x1="98.0" y1="126.4" x2="98.0" y2="198.1" stroke="#e8e8e8" stroke-width="0.6"/>
<line x1="103.0" y1="126.4" x2="103.0" y2="198.1" stroke="#e8e8e8" stroke-width="0.6"/>
<line x1="120.0" y1="126.4" x2="120.0" y2="198.1" stroke="#e8e8e8" stroke-width="0.6"/>
<line x1="137.0" y1="126.4" x2="137.0" y2="198.1" stroke="#e8e8e8" stroke-width="0.6"/>
<line x1="153.5" y1="126.4" x2="153.5" y2="198.1" stroke="#e8e8e8" stroke-width="0.6"/>
<line x1="87.5" y1="184.5" x2="159.8" y2="184.5" stroke="#e8e8e8" stroke-width="0.6"/>
<line x1="87.5" y1="170.9" x2="159.8" y2="170.9" stroke="#e8e8e8" stroke-width="0.6"/>
<line x1="87.5" y1="157.3" x2="159.8" y2="157.3" stroke="#e8e8e8" stroke-width="0.6"/>
<line x1="87.5" y1="143.7" x2="159.8" y2="143.7" stroke="#e8e8e8" stroke-width="0.6"/>
<text x="84.5" y="200.2" font-size="5.2" font-weight="normal" fill="#333" text-anchor="end">0</text>
<line x1="86.0" y1="198.1" x2="87.5" y2="198.1" stroke="#777" stroke-width="0.5"/>
<text x="84.5" y="186.6" font-size="5.2" font-weight="normal" fill="#333" text-anchor="end">20</text>
<line x1="86.0" y1="184.5" x2="87.5" y2="184.5" stroke="#777" stroke-width="0.5"/>
<text x="84.5" y="173.0" font-size="5.2" font-weight="normal" fill="#333" text-anchor="end">40</text>
<line x1="86.0" y1="170.9" x2="87.5" y2="170.9" stroke="#777" stroke-width="0.5"/>
<text x="84.5" y="159.4" font-size="5.2" font-weight="normal" fill="#333" text-anchor="end">60</text>
<line x1="86.0" y1="157.3" x2="87.5" y2="157.3" stroke="#777" stroke-width="0.5"/>
<text x="84.5" y="145.8" font-size="5.2" font-weight="normal" fill="#333" text-anchor="end">80</text>
<line x1="86.0" y1="143.7" x2="87.5" y2="143.7" stroke="#777" stroke-width="0.5"/>
<text x="84.5" y="132.2" font-size="5.2" font-weight="normal" fill="#333" text-anchor="end">100</text>
<line x1="86.0" y1="130.1" x2="87.5" y2="130.1" stroke="#777" stroke-width="0.5"/>
<text x="95.1" y="207.2" font-size="5" font-weight="normal" fill="#484848" text-anchor="middle">0</text>
<text x="103.1" y="207.2" font-size="5" font-weight="normal" fill="#484848" text-anchor="middle">10<tspan dy="-1.9" font-size="3.6">2</tspan></text>
<text x="120.7" y="207.2" font-size="5" font-weight="normal" fill="#484848" text-anchor="middle">10<tspan dy="-1.9" font-size="3.6">3</tspan></text>
<text x="137.9" y="207.2" font-size="5" font-weight="normal" fill="#484848" text-anchor="middle">10<tspan dy="-1.9" font-size="3.6">4</tspan></text>
<text x="153.5" y="207.2" font-size="5" font-weight="normal" fill="#484848" text-anchor="middle">10<tspan dy="-1.9" font-size="3.6">5</tspan></text>
<path d="M88.0 197.6C91.7 197.6 103.8 197.5 110.0 197.4C116.2 197.3 121.5 197.2 125.0 197.0C128.5 196.8 129.3 196.8 131.0 196.5C132.7 196.2 134.0 196.1 135.0 195.0C136.0 193.9 136.6 193.2 137.2 190.0C137.8 186.8 138.2 182.7 138.6 176.0C139.0 169.3 139.3 157.4 139.8 150.0C140.3 142.6 141.2 131.5 141.8 131.5C142.4 131.5 143.1 143.2 143.6 150.0C144.1 156.8 144.5 166.7 144.9 172.0C145.3 177.3 145.6 179.8 146.0 182.0C146.4 184.2 146.9 183.5 147.3 185.0C147.7 186.5 148.0 189.3 148.6 191.0C149.2 192.7 149.9 194.2 151.0 195.2C152.1 196.2 153.6 196.8 155.0 197.2C156.4 197.6 158.8 197.7 159.5 197.8L159.5 198.1L88.0 198.1Z" fill="#c8c8c8" stroke="none"/>
<path d="M88.0 197.6C91.7 197.6 103.8 197.5 110.0 197.4C116.2 197.3 121.5 197.2 125.0 197.0C128.5 196.8 129.3 196.8 131.0 196.5C132.7 196.2 134.0 196.1 135.0 195.0C136.0 193.9 136.6 193.2 137.2 190.0C137.8 186.8 138.2 182.7 138.6 176.0C139.0 169.3 139.3 157.4 139.8 150.0C140.3 142.6 141.2 131.5 141.8 131.5C142.4 131.5 143.1 143.2 143.6 150.0C144.1 156.8 144.5 166.7 144.9 172.0C145.3 177.3 145.6 179.8 146.0 182.0C146.4 184.2 146.9 183.5 147.3 185.0C147.7 186.5 148.0 189.3 148.6 191.0C149.2 192.7 149.9 194.2 151.0 195.2C152.1 196.2 153.6 196.8 155.0 197.2C156.4 197.6 158.8 197.7 159.5 197.8" fill="none" stroke="#666" stroke-width="0.8" stroke-linejoin="round"/>
<path d="M88.0 197.4L100.0 197.0L112.0 196.6L122.0 196.8L128.0 196.2L132.5 194.6L135.5 191.0L137.2 184.0L138.4 170.0L139.6 150.0L140.6 138.0L141.7 130.4L142.8 138.0L143.7 150.0L144.8 170.0L145.9 182.0L147.4 188.5L149.0 192.6L151.5 195.0L155.0 196.8L159.5 197.6" fill="none" stroke="#000" stroke-width="1.25" stroke-linejoin="round"/>
<text x="108.8" y="218" font-size="11.2" font-weight="bold" fill="#000" stroke="#000" stroke-width="0.43" text-anchor="start" >CFSE</text>
<rect x="276.3" y="19.5" width="73.09999999999997" height="72.5" fill="#fff" stroke="#b0b0b0" stroke-width="0.8"/>
<line x1="287.3" y1="19.5" x2="287.3" y2="92" stroke="#ececec" stroke-width="0.6"/>
<line x1="292.3" y1="19.5" x2="292.3" y2="92" stroke="#ececec" stroke-width="0.6"/>
<line x1="309.3" y1="19.5" x2="309.3" y2="92" stroke="#ececec" stroke-width="0.6"/>
<line x1="326.3" y1="19.5" x2="326.3" y2="92" stroke="#ececec" stroke-width="0.6"/>
<line x1="342.8" y1="19.5" x2="342.8" y2="92" stroke="#ececec" stroke-width="0.6"/>
<line x1="276.3" y1="26.0" x2="349.4" y2="26.0" stroke="#ececec" stroke-width="0.6"/>
<line x1="276.3" y1="43.0" x2="349.4" y2="43.0" stroke="#ececec" stroke-width="0.6"/>
<line x1="276.3" y1="62.5" x2="349.4" y2="62.5" stroke="#ececec" stroke-width="0.6"/>
<line x1="276.3" y1="75.0" x2="349.4" y2="75.0" stroke="#ececec" stroke-width="0.6"/>
<text x="284.3" y="100.5" font-size="5" font-weight="normal" fill="#484848" text-anchor="middle">0</text>
<text x="292.2" y="100.5" font-size="5" font-weight="normal" fill="#484848" text-anchor="middle">10<tspan dy="-1.9" font-size="3.6">2</tspan></text>
<text x="308.90000000000003" y="100.5" font-size="5" font-weight="normal" fill="#484848" text-anchor="middle">10<tspan dy="-1.9" font-size="3.6">3</tspan></text>
<text x="326.0" y="100.5" font-size="5" font-weight="normal" fill="#484848" text-anchor="middle">10<tspan dy="-1.9" font-size="3.6">4</tspan></text>
<text x="343.0" y="100.5" font-size="5" font-weight="normal" fill="#484848" text-anchor="middle">10<tspan dy="-1.9" font-size="3.6">5</tspan></text>
<text x="274.5" y="27.7" font-size="5" font-weight="normal" fill="#484848" text-anchor="end">10<tspan dy="-1.9" font-size="3.6">5</tspan></text>
<text x="274.5" y="44.7" font-size="5" font-weight="normal" fill="#484848" text-anchor="end">10<tspan dy="-1.9" font-size="3.6">4</tspan></text>
<text x="274.5" y="64.3" font-size="5" font-weight="normal" fill="#484848" text-anchor="end">10<tspan dy="-1.9" font-size="3.6">3</tspan></text>
<text x="273.7" y="77.1" font-size="5" font-weight="normal" fill="#484848" text-anchor="end">0</text>
<line x1="274.8" y1="26.0" x2="276.3" y2="26.0" stroke="#888" stroke-width="0.5"/>
<line x1="274.8" y1="43.0" x2="276.3" y2="43.0" stroke="#888" stroke-width="0.5"/>
<line x1="274.8" y1="62.5" x2="276.3" y2="62.5" stroke="#888" stroke-width="0.5"/>
<line x1="274.8" y1="75.0" x2="276.3" y2="75.0" stroke="#888" stroke-width="0.5"/>
<line x1="284.8" y1="92" x2="284.8" y2="93.5" stroke="#888" stroke-width="0.5"/>
<line x1="292.3" y1="92" x2="292.3" y2="93.5" stroke="#888" stroke-width="0.5"/>
<line x1="309.3" y1="92" x2="309.3" y2="93.5" stroke="#888" stroke-width="0.5"/>
<line x1="326.3" y1="92" x2="326.3" y2="93.5" stroke="#888" stroke-width="0.5"/>
<line x1="342.8" y1="92" x2="342.8" y2="93.5" stroke="#888" stroke-width="0.5"/>
<path d="M302.0 37.5C301.8 35.6 302.7 33.3 304.0 32.0C305.3 30.7 307.7 29.8 310.0 29.5C312.3 29.2 315.5 29.5 318.0 30.0C320.5 30.5 322.5 32.2 325.0 32.5C327.5 32.8 330.3 32.2 333.0 32.0C335.7 31.8 339.1 31.2 341.0 31.5C342.9 31.8 344.5 32.9 344.5 34.0C344.5 35.1 342.9 37.0 341.0 38.0C339.1 39.0 335.5 39.5 333.0 40.0C330.5 40.5 328.0 40.2 326.0 41.0C324.0 41.8 323.2 43.7 321.0 44.5C318.8 45.3 315.7 46.2 313.0 46.0C310.3 45.8 306.8 44.9 305.0 43.5C303.2 42.1 302.2 39.4 302.0 37.5Z" fill="#808080" opacity="0.45"/>
<path d="M302.0 37.5C301.8 35.6 302.7 33.3 304.0 32.0C305.3 30.7 307.7 29.8 310.0 29.5C312.3 29.2 315.5 29.5 318.0 30.0C320.5 30.5 322.5 32.2 325.0 32.5C327.5 32.8 330.3 32.2 333.0 32.0C335.7 31.8 339.1 31.2 341.0 31.5C342.9 31.8 344.5 32.9 344.5 34.0C344.5 35.1 342.9 37.0 341.0 38.0C339.1 39.0 335.5 39.5 333.0 40.0C330.5 40.5 328.0 40.2 326.0 41.0C324.0 41.8 323.2 43.7 321.0 44.5C318.8 45.3 315.7 46.2 313.0 46.0C310.3 45.8 306.8 44.9 305.0 43.5C303.2 42.1 302.2 39.4 302.0 37.5Z" fill="none" stroke="#222" stroke-width="0.45"/>
<path d="M304.0 37.7C303.9 36.2 304.9 33.8 306.1 32.7C307.3 31.6 309.0 31.3 311.0 31.0C313.0 30.8 316.2 30.7 318.3 31.2C320.3 31.7 321.5 33.6 323.4 34.0C325.3 34.3 327.3 33.6 329.7 33.3C332.0 33.1 335.6 32.3 337.3 32.5C339.0 32.8 339.8 34.0 339.9 34.9C339.9 35.9 339.1 37.6 337.5 38.2C336.0 38.9 332.9 38.7 330.6 38.9C328.4 39.2 325.8 39.1 324.2 39.9C322.5 40.8 322.7 43.1 320.8 43.9C319.0 44.7 315.3 45.1 313.0 44.8C310.7 44.4 308.4 43.1 306.9 41.9C305.4 40.7 304.2 39.3 304.0 37.7Z" fill="none" stroke="#333" stroke-width="0.45"/>
<path d="M306.3 37.8C306.2 36.6 307.0 34.5 308.0 33.5C309.0 32.4 310.7 32.0 312.3 31.8C313.9 31.6 315.7 31.9 317.4 32.3C319.2 32.7 321.0 34.0 322.8 34.3C324.6 34.6 326.3 34.0 328.0 34.0C329.7 34.0 331.6 33.8 332.8 34.1C334.1 34.3 335.7 34.8 335.7 35.4C335.6 35.9 334.0 36.7 332.7 37.4C331.4 38.1 329.2 39.3 327.7 39.7C326.1 40.0 324.7 39.2 323.2 39.7C321.7 40.1 320.3 41.8 318.9 42.3C317.4 42.8 316.2 43.0 314.5 42.8C312.8 42.6 310.2 41.9 308.9 41.1C307.5 40.3 306.5 39.1 306.3 37.8Z" fill="none" stroke="#444" stroke-width="0.45"/>
<ellipse cx="312.3" cy="37.6" rx="5.6" ry="3.8" fill="#fff" stroke="#444" stroke-width="0.4"/>
<ellipse cx="312.3" cy="37.6" rx="3.2" ry="2" fill="none" stroke="#999" stroke-width="0.35"/>
<ellipse cx="332.5" cy="36" rx="6.8" ry="2" transform="rotate(-12 332.5 36)" fill="#0a0a0a" opacity="0.95"/>
<ellipse cx="333" cy="36.2" rx="9.5" ry="3.4" transform="rotate(-12 333 36.2)" fill="#333" opacity="0.4"/>
<path d="M323 41 C323.5 43 324 45 324.5 47.5" fill="none" stroke="#333" stroke-width="0.45" opacity="0.8"/>
<path d="M327 41 C327.5 43 328 45 328.5 47.5" fill="none" stroke="#333" stroke-width="0.45" opacity="0.8"/>
<path d="M331 41 C331.5 43 332 45 332.5 47.5" fill="none" stroke="#333" stroke-width="0.45" opacity="0.8"/>
<path d="M335 41 C335.5 43 336 45 336.5 47.5" fill="none" stroke="#333" stroke-width="0.45" opacity="0.8"/>
<path d="M339 41 C339.5 43 340 45 340.5 47.5" fill="none" stroke="#333" stroke-width="0.45" opacity="0.8"/>
<path d="M343.5 38.5 C345 40 345 43 344 46" fill="none" stroke="#111" stroke-width="1.1"/>
<path d="M320.4 38.7h.01M318.2 42.2h.01M326.3 41.4h.01M330.1 35.7h.01M316.0 42.3h.01M329.8 39.7h.01M311.9 40.4h.01M332.0 36.0h.01M330.1 48.5h.01M298.4 40.2h.01M307.3 29.8h.01M319.0 39.9h.01M322.7 30.8h.01M303.9 34.0h.01M322.2 32.6h.01M303.1 46.3h.01M311.5 36.2h.01M315.1 33.9h.01M322.5 35.4h.01M329.8 30.7h.01M303.3 47.4h.01M321.1 41.1h.01M336.8 39.9h.01M322.5 28.7h.01M301.9 42.2h.01M330.5 40.0h.01M301.1 25.6h.01M308.7 30.7h.01M324.0 31.6h.01M341.9 33.7h.01M314.9 41.6h.01M326.1 32.2h.01M332.3 47.2h.01M306.5 35.7h.01M308.4 26.6h.01M329.9 40.7h.01M334.3 39.3h.01M313.6 30.7h.01M308.0 41.1h.01M318.3 47.5h.01M327.9 26.8h.01M333.3 43.7h.01M322.4 30.5h.01M344.3 30.0h.01M320.9 26.8h.01M306.1 27.9h.01M335.8 43.3h.01M316.9 29.7h.01M321.2 39.0h.01M302.7 30.8h.01M320.7 40.8h.01M322.9 39.4h.01M325.9 32.1h.01M320.4 35.0h.01M328.1 32.9h.01M340.3 37.2h.01M328.7 40.4h.01M335.2 39.2h.01M299.8 33.6h.01M345.6 39.5h.01M329.1 39.5h.01M313.9 33.4h.01M313.8 43.2h.01M326.6 46.6h.01M328.3 47.2h.01M327.8 30.6h.01M344.1 38.8h.01M337.2 38.2h.01M317.8 37.9h.01M307.7 30.6h.01M310.7 34.2h.01M304.7 36.4h.01M325.9 47.9h.01M345.5 36.7h.01M333.3 35.8h.01M327.0 36.8h.01M315.1 37.4h.01M303.1 39.4h.01M318.3 31.1h.01M317.4 40.0h.01M313.3 39.6h.01M329.3 45.4h.01M308.1 36.4h.01M328.5 45.1h.01M325.4 41.1h.01M303.2 33.8h.01M343.3 35.5h.01M318.4 28.4h.01M330.1 38.4h.01M318.8 29.4h.01M320.9 42.1h.01M331.5 43.7h.01M333.1 36.7h.01M329.8 37.9h.01M304.9 46.3h.01M326.8 31.3h.01M326.9 38.6h.01M334.8 44.8h.01M341.7 31.8h.01M298.1 38.5h.01M326.3 38.9h.01M307.7 34.5h.01M324.5 41.1h.01M314.2 24.2h.01M335.8 36.3h.01M320.6 31.6h.01M331.5 27.2h.01M323.4 37.7h.01M325.9 44.1h.01M320.7 37.5h.01M333.0 28.5h.01M318.2 37.4h.01M334.3 32.6h.01M332.4 39.1h.01M302.8 28.9h.01M303.5 37.8h.01M324.7 41.0h.01M332.6 34.0h.01M335.8 41.5h.01M328.1 39.6h.01M305.4 39.0h.01M308.7 30.5h.01M317.5 37.8h.01M321.3 35.2h.01M309.1 38.0h.01M312.4 29.3h.01M323.2 44.9h.01M316.8 31.2h.01M339.9 46.4h.01M318.2 35.8h.01M323.7 42.4h.01M327.7 27.0h.01M307.7 30.3h.01M327.6 37.6h.01M345.2 35.5h.01M326.0 37.4h.01M323.8 49.7h.01M325.7 45.1h.01M338.8 33.7h.01M330.9 34.9h.01M323.4 37.9h.01M322.3 34.4h.01M342.2 35.5h.01M331.1 46.2h.01M330.1 42.6h.01M340.0 43.0h.01M344.3 29.2h.01M299.3 33.5h.01M303.9 36.9h.01M302.7 31.5h.01M325.8 37.9h.01M311.7 35.7h.01M320.7 37.4h.01M321.9 35.8h.01M333.4 28.2h.01M315.6 37.7h.01M316.8 34.0h.01M316.3 38.1h.01M338.2 36.0h.01M318.5 39.0h.01M318.9 26.4h.01M325.5 34.9h.01M314.6 40.5h.01M322.6 33.9h.01M322.2 36.4h.01M327.7 38.2h.01M315.8 30.0h.01M307.8 36.2h.01M307.1 41.2h.01M304.8 27.2h.01" stroke="#000" stroke-width="0.6" stroke-linecap="square" fill="none" opacity="0.75"/>
<path d="M333.2 45.1h.01M341.8 46.1h.01M332.4 26.7h.01M330.7 46.4h.01M318.7 47.1h.01M306.6 48.6h.01M319.2 43.0h.01M310.1 33.2h.01M314.7 33.8h.01M302.5 36.6h.01M345.1 41.7h.01M342.7 44.3h.01M338.2 49.9h.01M334.1 32.6h.01M310.0 35.9h.01M299.0 31.5h.01M340.5 48.1h.01M313.8 44.5h.01M335.2 47.4h.01M336.1 38.8h.01M303.0 45.8h.01M313.1 41.0h.01M315.6 38.9h.01M344.4 29.9h.01M323.5 41.6h.01M323.8 48.5h.01M317.6 47.9h.01M331.1 49.2h.01M302.3 31.1h.01M311.8 47.8h.01M298.7 32.2h.01M332.4 49.8h.01M306.5 36.5h.01M331.0 42.6h.01M333.8 44.1h.01M309.9 32.2h.01M299.3 42.6h.01M308.0 32.2h.01M344.3 41.4h.01M326.4 41.7h.01" stroke="#222" stroke-width="0.6" stroke-linecap="square" fill="none" opacity="0.7"/>
<path d="M304.5 52.3 L345.8 52.3 C340 60 334 66 331 76 L328.5 86 C322 87 313 83 308 76.5 C306 68 305 60 304.5 52.3Z" fill="#787878" opacity="0.6"/>
<path d="M304.5 52.3 C305 60 306 68 308 76.5" fill="none" stroke="#111" stroke-width="1.1"/>
<path d="M345.8 52.3 C340 60 334 66 331 76 L328.5 86" fill="none" stroke="#111" stroke-width="1"/>
<path d="M306.6 54.7C307.6 52.7 311.5 53.6 314.4 53.3C317.2 53.1 320.3 53.3 323.5 53.3C326.7 53.3 330.4 53.3 333.4 53.5C336.3 53.6 340.5 52.8 341.2 54.1C341.9 55.4 339.4 58.8 337.6 61.1C335.9 63.4 332.2 65.5 330.7 67.7C329.1 69.8 329.0 71.5 328.4 74.0C327.7 76.5 327.9 81.1 326.8 82.6C325.7 84.2 323.8 83.6 321.8 83.1C319.8 82.7 316.9 81.4 314.9 80.1C313.0 78.7 311.2 77.3 310.1 74.8C309.0 72.4 308.8 68.7 308.2 65.3C307.6 62.0 305.6 56.7 306.6 54.7Z" fill="none" stroke="#222" stroke-width="0.5" opacity="0.9"/>
<path d="M308.9 55.9C310.0 54.2 313.3 56.4 315.8 56.3C318.2 56.3 321.0 55.8 323.4 55.6C325.9 55.5 327.9 55.5 330.4 55.5C332.9 55.5 337.9 54.5 338.5 55.6C339.1 56.6 335.8 60.0 334.2 61.8C332.6 63.6 330.4 64.8 329.2 66.6C327.9 68.4 327.1 70.4 326.6 72.6C326.2 74.8 327.3 78.6 326.4 79.9C325.5 81.2 323.2 80.9 321.2 80.5C319.3 80.1 316.7 78.7 314.9 77.6C313.0 76.6 311.2 75.9 310.3 74.1C309.3 72.2 309.2 69.7 309.0 66.6C308.8 63.6 307.8 57.6 308.9 55.9Z" fill="none" stroke="#333" stroke-width="0.5" opacity="0.9"/>
<path d="M310.2 58.5C310.9 57.3 313.4 58.4 315.4 58.3C317.3 58.2 319.7 57.9 321.9 57.7C324.1 57.5 326.7 57.2 328.7 57.3C330.7 57.5 333.5 57.6 333.8 58.4C334.1 59.2 331.8 61.0 330.7 62.4C329.6 63.7 328.2 65.0 327.3 66.5C326.3 68.0 325.6 69.6 325.0 71.4C324.5 73.2 324.9 76.1 324.1 77.1C323.4 78.1 322.0 77.9 320.7 77.6C319.4 77.2 317.8 76.1 316.4 75.2C315.1 74.4 313.6 74.2 312.6 72.6C311.7 70.9 311.3 67.7 310.9 65.3C310.5 63.0 309.4 59.7 310.2 58.5Z" fill="none" stroke="#222" stroke-width="0.6" opacity="0.9"/>
<path d="M312.1 59.4C312.6 58.4 315.0 60.0 316.4 60.0C317.9 60.0 319.2 59.3 320.9 59.2C322.5 59.0 324.8 59.2 326.3 59.2C327.9 59.3 330.1 59.1 330.3 59.7C330.5 60.3 328.5 61.5 327.6 62.7C326.7 63.8 325.4 65.3 324.8 66.6C324.3 67.9 324.9 69.3 324.5 70.6C324.1 71.9 323.1 73.6 322.4 74.4C321.7 75.1 321.3 75.1 320.4 75.1C319.5 75.1 318.0 75.1 317.0 74.3C316.0 73.5 314.9 71.6 314.3 70.2C313.7 68.8 313.9 67.8 313.5 66.0C313.1 64.2 311.6 60.4 312.1 59.4Z" fill="none" stroke="#444" stroke-width="0.45" opacity="0.9"/>
<path d="M313.5 61.1C314.0 60.2 316.4 61.0 317.5 61.0C318.6 61.0 318.8 61.0 320.1 61.1C321.3 61.1 323.6 61.4 324.9 61.3C326.1 61.3 327.6 60.4 327.7 60.9C327.8 61.3 326.3 62.8 325.5 63.8C324.7 64.7 323.4 65.9 322.9 66.7C322.3 67.6 322.3 67.8 322.3 68.8C322.2 69.7 323.0 71.9 322.5 72.4C322.0 72.9 320.1 72.0 319.2 71.9C318.3 71.8 318.0 72.0 317.2 71.6C316.4 71.2 314.8 70.4 314.4 69.4C313.9 68.5 314.9 67.4 314.7 66.1C314.6 64.7 313.0 61.9 313.5 61.1Z" fill="none" stroke="#333" stroke-width="0.45" opacity="0.9"/>
<ellipse cx="318.3" cy="64.5" rx="2.6" ry="6.5" fill="#f2f2f2" opacity="0.9"/>
<path d="M314 60 C314.5 55.5 321.5 55.5 322.5 60" fill="none" stroke="#111" stroke-width="1"/>
<ellipse cx="317.3" cy="79.6" rx="9.2" ry="2.6" transform="rotate(21 317.3 79.6)" fill="#000" opacity="0.95"/>
<ellipse cx="317.5" cy="79.6" rx="4.6" ry="0.8" transform="rotate(21 317.5 79.6)" fill="#f0f0f0" opacity="0.95"/>
<path d="M306.5 77.5 C312 84 320 87.5 329 88" fill="none" stroke="#222" stroke-width="0.6"/>
<path d="M322.3 77.7h.01M308.4 57.1h.01M333.2 80.3h.01M338.0 60.5h.01M327.6 58.5h.01M326.7 62.4h.01M323.1 79.4h.01M324.7 63.6h.01M321.6 68.6h.01M315.4 68.1h.01M327.6 81.5h.01M307.5 74.7h.01M322.3 77.3h.01M315.4 61.2h.01M324.7 60.2h.01M333.1 66.0h.01M316.1 75.2h.01M312.0 78.4h.01M331.5 67.4h.01M331.8 82.0h.01M336.0 66.0h.01M320.4 77.0h.01M326.3 71.6h.01M341.3 83.4h.01M324.5 70.4h.01M306.6 64.2h.01M323.8 63.8h.01M321.7 72.0h.01M310.6 60.4h.01M329.4 63.9h.01M331.5 62.4h.01M344.1 73.1h.01M322.6 67.1h.01M318.8 74.0h.01M342.8 61.8h.01M309.2 71.9h.01M313.5 56.1h.01M327.1 71.0h.01M313.0 54.9h.01M328.0 64.5h.01M341.9 75.8h.01M314.7 63.3h.01M318.0 58.8h.01M321.9 75.5h.01M337.2 73.3h.01M312.2 58.0h.01M333.5 66.7h.01M316.8 61.0h.01M339.7 61.5h.01M322.3 76.6h.01M328.2 64.2h.01M327.5 61.7h.01M320.0 56.6h.01M326.4 71.1h.01M322.9 73.7h.01M326.8 67.2h.01M311.4 71.8h.01M333.8 72.2h.01M334.5 61.4h.01M310.4 78.3h.01M314.7 68.4h.01M318.9 66.2h.01M318.1 60.7h.01M311.2 54.9h.01M327.2 82.1h.01M318.3 73.3h.01M327.5 53.8h.01M314.8 62.5h.01M334.5 67.2h.01M319.7 58.1h.01M322.0 66.4h.01M328.9 79.7h.01M328.9 66.2h.01M319.4 81.7h.01M323.2 65.8h.01M340.4 81.4h.01M327.1 64.9h.01M314.2 76.4h.01M316.1 75.4h.01M312.6 67.0h.01M325.3 67.4h.01M323.5 69.7h.01M308.9 55.1h.01M319.4 83.7h.01M319.7 56.9h.01M313.9 66.3h.01M333.7 60.5h.01M327.0 67.8h.01M317.2 56.8h.01M319.4 58.9h.01M333.1 73.4h.01M327.2 80.6h.01M321.6 70.4h.01M313.7 55.0h.01M325.7 71.0h.01M316.4 63.6h.01M315.6 60.5h.01M320.4 76.5h.01M338.3 69.1h.01M322.7 74.2h.01M310.2 54.2h.01M323.7 74.3h.01M316.5 59.4h.01M325.3 72.0h.01M323.6 57.7h.01M314.0 80.6h.01M335.2 70.7h.01M324.0 67.7h.01M314.7 65.5h.01M341.5 57.5h.01M313.9 67.6h.01M330.6 74.1h.01M310.6 64.7h.01M318.2 54.0h.01M321.8 61.3h.01M330.8 70.2h.01M312.7 66.8h.01M317.2 59.8h.01M315.8 76.4h.01M312.7 73.9h.01M344.0 55.8h.01M317.2 62.8h.01M305.9 69.9h.01M320.5 68.7h.01M345.0 63.4h.01M329.5 74.1h.01M314.2 60.2h.01M337.7 73.0h.01M322.5 55.4h.01M330.4 71.1h.01M344.5 80.3h.01M329.6 68.6h.01M321.7 60.6h.01M324.3 68.4h.01M328.0 76.6h.01M324.3 60.7h.01M329.6 81.1h.01M312.1 70.1h.01M326.9 71.2h.01M326.4 65.1h.01M319.9 82.4h.01M313.8 61.0h.01M320.4 60.8h.01M336.8 77.4h.01M316.6 72.4h.01M320.6 77.2h.01M327.2 65.7h.01M326.9 59.0h.01M329.5 80.6h.01M317.1 71.4h.01M330.4 56.1h.01M339.6 67.1h.01M330.3 63.4h.01M319.9 75.5h.01M313.8 72.6h.01M317.2 69.3h.01M307.8 73.6h.01M335.0 55.1h.01M324.2 58.9h.01M315.0 57.9h.01M324.1 61.5h.01M311.3 63.8h.01M325.3 57.7h.01M325.4 62.2h.01M337.8 59.8h.01M342.2 72.0h.01M309.4 62.7h.01M310.8 80.8h.01M323.2 74.9h.01M321.0 70.6h.01M319.8 68.0h.01M323.3 59.1h.01M324.7 67.6h.01M320.6 59.4h.01M310.2 68.4h.01M315.3 79.2h.01M330.8 59.1h.01M335.5 56.4h.01M312.6 84.9h.01M316.3 63.9h.01M308.4 64.7h.01M317.2 60.1h.01M314.2 73.2h.01M337.4 62.0h.01M338.3 81.7h.01M335.4 68.9h.01M305.1 72.6h.01M316.6 67.9h.01M323.5 56.9h.01M324.1 82.3h.01M323.5 59.3h.01M311.2 70.0h.01M323.8 74.1h.01M312.5 80.3h.01M326.4 77.6h.01M338.1 85.6h.01M335.1 66.0h.01M323.0 59.9h.01M332.8 59.2h.01M321.6 68.1h.01M315.3 64.0h.01M307.7 72.3h.01M320.5 74.0h.01M309.4 71.8h.01M316.3 66.9h.01M331.0 66.3h.01M321.7 73.7h.01M314.2 65.4h.01M325.3 78.7h.01M318.0 84.9h.01M324.2 64.5h.01M332.2 62.3h.01M324.6 68.0h.01M328.7 74.6h.01M311.3 80.6h.01M321.2 72.7h.01M327.0 74.7h.01M314.1 60.3h.01M325.1 72.0h.01M327.2 69.3h.01M315.8 76.9h.01M326.1 76.5h.01M313.8 67.2h.01M315.8 62.9h.01M323.1 69.4h.01M312.6 71.3h.01M311.9 70.2h.01M317.0 56.7h.01M333.7 82.3h.01M319.9 65.5h.01M311.5 77.2h.01M330.8 61.1h.01M312.6 69.5h.01M305.7 61.1h.01M327.4 73.6h.01M307.0 57.9h.01M310.4 62.9h.01M323.2 70.5h.01M336.8 55.2h.01M330.6 67.5h.01M308.2 67.5h.01M305.7 82.1h.01M313.0 76.0h.01M335.2 59.9h.01M311.2 67.3h.01M309.6 74.9h.01M322.9 58.4h.01M313.5 73.2h.01M305.2 82.8h.01M312.4 64.1h.01M310.9 82.1h.01M330.0 78.9h.01M328.1 66.9h.01M339.5 72.6h.01M325.8 71.7h.01M329.1 68.8h.01M343.5 53.1h.01M342.2 78.1h.01M314.4 68.6h.01M317.3 68.9h.01M333.8 54.0h.01M324.6 66.8h.01M322.6 67.5h.01M326.0 69.9h.01M327.3 78.4h.01M311.0 70.0h.01M320.8 73.3h.01M319.1 60.0h.01M323.7 71.2h.01M310.3 79.2h.01M333.6 70.4h.01M319.8 63.6h.01M310.3 61.0h.01M332.0 56.8h.01M315.3 74.6h.01M341.4 59.1h.01M333.1 59.5h.01M325.3 70.8h.01M308.5 76.3h.01M340.8 66.5h.01M324.0 54.3h.01M340.7 66.6h.01M307.0 73.6h.01M313.8 60.2h.01M314.8 71.5h.01M337.0 55.9h.01M337.8 65.1h.01M313.3 81.3h.01M319.8 79.7h.01M332.8 82.6h.01M312.2 66.6h.01M325.1 64.1h.01M337.8 58.9h.01M332.0 79.6h.01M311.1 60.5h.01M325.3 64.3h.01M321.9 61.4h.01M320.1 70.8h.01M329.2 58.2h.01M319.7 58.4h.01M331.5 72.7h.01M319.7 59.2h.01M316.0 59.3h.01M308.2 71.8h.01M315.6 66.9h.01M321.0 60.4h.01M319.4 63.0h.01M334.7 65.1h.01M320.6 60.7h.01M314.0 58.6h.01M321.1 84.4h.01M333.3 68.4h.01M339.4 76.1h.01M323.3 64.4h.01M308.9 68.5h.01M306.9 85.4h.01M323.4 71.0h.01M323.2 61.4h.01M326.1 76.8h.01M317.6 71.1h.01" stroke="#000" stroke-width="0.55" stroke-linecap="square" fill="none" opacity="0.55"/>
<path d="M343.6 63.7h.01M340.6 61.3h.01M342.1 64.7h.01M344.0 61.1h.01M345.9 65.2h.01M337.1 59.9h.01M342.3 60.3h.01M346.3 79.5h.01M341.8 55.2h.01M339.9 61.5h.01M333.7 71.8h.01M342.8 79.6h.01M336.6 64.9h.01M340.9 72.2h.01M336.0 69.9h.01M339.6 76.6h.01M334.4 62.9h.01M338.2 65.1h.01M342.5 62.3h.01M342.9 77.2h.01M343.4 66.2h.01M337.1 65.7h.01M342.3 69.1h.01M342.0 73.2h.01M336.9 59.6h.01M345.0 63.6h.01M334.5 84.7h.01M337.1 59.6h.01M343.4 57.8h.01M337.0 77.4h.01M340.5 68.5h.01M337.8 66.0h.01M338.2 67.8h.01M342.7 56.6h.01M345.3 67.3h.01M340.0 67.5h.01M343.5 70.9h.01M343.0 66.5h.01M339.6 67.5h.01M333.5 77.8h.01M334.5 59.0h.01M342.3 68.5h.01M342.8 83.4h.01M346.5 80.4h.01M339.2 86.4h.01M336.9 67.2h.01M343.5 66.1h.01M339.6 64.8h.01M344.5 77.5h.01M339.7 73.1h.01M336.6 78.0h.01M344.9 67.5h.01M338.8 63.6h.01M339.3 56.7h.01M335.2 83.0h.01M339.9 73.0h.01M341.1 72.3h.01M334.7 59.5h.01M342.2 77.0h.01M336.0 62.8h.01M336.3 73.9h.01M341.2 68.3h.01M337.7 71.1h.01M340.1 61.3h.01M341.2 62.0h.01M343.3 73.6h.01M337.6 73.3h.01M340.2 61.6h.01M336.0 71.1h.01M344.2 62.3h.01M340.6 71.1h.01M342.7 72.0h.01M344.3 74.9h.01M337.3 71.6h.01M331.8 66.4h.01M340.1 73.2h.01M338.9 75.5h.01M344.6 60.4h.01M338.1 70.3h.01M341.7 69.3h.01M342.9 57.4h.01M342.7 78.5h.01M343.9 71.8h.01M339.2 71.6h.01M337.9 67.6h.01M338.2 59.6h.01M339.2 64.7h.01M340.2 67.6h.01M340.6 76.9h.01M340.5 71.7h.01M338.6 74.1h.01M338.8 62.4h.01M335.7 76.0h.01M338.2 70.2h.01M344.0 72.8h.01M343.3 74.2h.01M337.7 68.4h.01M338.0 58.8h.01M341.0 61.0h.01M345.9 61.3h.01M338.1 68.8h.01M338.2 68.5h.01M337.9 55.2h.01M331.6 56.4h.01M345.3 72.0h.01M340.5 63.8h.01M339.5 70.7h.01M335.1 60.8h.01M336.9 79.3h.01M336.3 78.6h.01M339.7 68.3h.01M344.7 75.9h.01M343.3 58.4h.01M344.0 83.1h.01M339.6 63.6h.01M336.2 77.2h.01M341.0 68.1h.01M335.7 82.6h.01M343.1 67.8h.01M345.2 59.4h.01M343.1 59.0h.01M344.9 65.5h.01M344.3 64.3h.01M341.4 78.3h.01M336.8 68.9h.01M337.1 75.7h.01M337.9 64.6h.01M339.3 78.5h.01M336.4 67.8h.01M338.8 63.1h.01M337.2 66.6h.01M340.7 54.1h.01M340.8 57.3h.01M340.1 88.5h.01M336.6 67.4h.01M339.1 76.8h.01M334.4 69.6h.01M340.9 77.6h.01M338.1 74.0h.01M336.3 79.7h.01M339.8 61.9h.01M340.6 83.7h.01M337.0 56.8h.01M336.4 57.6h.01M339.8 71.2h.01M339.4 69.8h.01M344.1 65.4h.01M340.8 61.9h.01M339.1 71.7h.01M336.6 68.7h.01M339.5 78.3h.01M336.6 71.5h.01M340.8 72.8h.01M338.5 88.0h.01M341.9 61.5h.01M337.9 70.6h.01M340.5 59.4h.01M345.5 81.2h.01M336.7 71.4h.01M337.8 64.1h.01M343.5 69.1h.01M339.6 68.9h.01M335.9 79.0h.01M337.4 79.8h.01M338.4 63.9h.01M345.2 69.7h.01M337.8 63.2h.01M342.1 84.8h.01M342.1 64.5h.01M336.1 61.9h.01" stroke="#000" stroke-width="0.6" stroke-linecap="square" fill="none" opacity="0.78"/>
<path d="M302.7 68.2h.01M301.6 77.5h.01M300.9 59.6h.01M304.1 70.3h.01M302.1 74.7h.01M299.9 80.7h.01M303.3 83.7h.01M303.1 78.0h.01M302.6 67.7h.01M302.5 81.5h.01M296.6 69.5h.01M305.0 69.0h.01M303.4 78.5h.01M300.9 63.3h.01M303.3 62.0h.01M302.8 81.0h.01M296.6 76.4h.01M305.1 71.4h.01M303.0 66.6h.01M303.8 68.2h.01M301.4 73.0h.01M301.2 65.6h.01M302.2 55.6h.01M304.3 65.4h.01M300.4 65.3h.01M300.0 78.9h.01M304.1 83.9h.01M301.8 72.3h.01M300.9 58.3h.01M302.8 69.7h.01M305.0 63.6h.01M305.4 74.7h.01M301.1 64.4h.01M301.0 81.3h.01M301.8 73.9h.01M305.0 63.7h.01M301.9 69.1h.01M301.3 54.7h.01M300.9 69.0h.01M303.4 81.8h.01M299.0 70.5h.01M300.5 76.4h.01M304.5 67.1h.01M306.2 62.7h.01M301.8 56.6h.01M301.6 67.0h.01M304.5 77.5h.01M302.4 59.5h.01M302.3 62.2h.01M302.0 62.4h.01M301.1 65.5h.01M301.9 64.5h.01M300.0 67.3h.01M304.3 71.8h.01M301.8 55.8h.01M300.2 55.5h.01M301.6 63.2h.01M299.1 72.0h.01M299.6 59.9h.01M301.4 73.4h.01M302.4 62.5h.01M302.6 64.5h.01M302.8 59.0h.01M303.8 61.4h.01M304.3 56.4h.01M299.1 72.2h.01M302.0 55.7h.01M304.0 61.4h.01M304.6 61.1h.01M305.0 67.3h.01M303.8 67.4h.01M302.2 62.8h.01M304.0 72.3h.01M302.1 85.9h.01M306.7 55.8h.01M305.4 65.4h.01M303.5 59.0h.01M306.6 58.7h.01M302.8 59.6h.01M300.1 62.0h.01M303.8 62.2h.01M302.2 56.5h.01M303.5 56.3h.01M304.8 87.3h.01M302.3 80.6h.01M303.8 60.1h.01M302.3 57.5h.01M303.2 72.2h.01M305.0 63.5h.01M300.4 65.3h.01M306.6 68.5h.01M302.1 70.8h.01M300.9 78.0h.01M301.8 58.3h.01M301.7 65.2h.01M305.2 61.0h.01M299.1 65.3h.01M304.1 79.6h.01M300.6 79.1h.01M304.5 70.0h.01M301.3 58.2h.01M300.9 74.3h.01M303.5 75.5h.01M306.9 66.2h.01M302.9 83.0h.01M300.2 62.1h.01M302.2 62.7h.01M303.3 58.6h.01M305.5 54.0h.01M300.0 71.2h.01M304.4 64.3h.01M304.8 71.5h.01M301.8 65.7h.01M303.8 83.8h.01M302.0 69.3h.01M304.2 76.8h.01M303.9 75.5h.01M300.7 63.7h.01M298.8 65.6h.01M303.2 68.4h.01M303.3 54.4h.01M301.5 64.5h.01M303.4 58.4h.01M302.8 59.6h.01M300.1 60.3h.01M301.3 73.4h.01M305.9 71.2h.01M302.5 61.2h.01M299.6 61.4h.01M306.4 76.2h.01M303.5 63.9h.01M303.0 69.8h.01M303.0 69.8h.01M301.3 66.5h.01M302.2 75.5h.01M300.3 77.5h.01M302.8 61.6h.01M303.0 67.1h.01M302.5 69.8h.01M304.5 65.8h.01M306.6 69.5h.01M298.7 77.0h.01M301.5 70.9h.01M300.6 65.3h.01M299.5 71.9h.01M304.2 57.1h.01M304.0 74.3h.01M304.7 60.2h.01M301.5 56.2h.01M300.2 68.8h.01" stroke="#000" stroke-width="0.6" stroke-linecap="square" fill="none" opacity="0.78"/>
<path d="M311.3 84.7h.01M339.8 80.7h.01M317.0 87.5h.01M345.0 80.1h.01M328.8 85.4h.01M338.8 84.0h.01M306.0 82.6h.01M332.8 86.2h.01M309.4 85.5h.01M330.2 85.6h.01M301.0 83.8h.01M314.9 85.1h.01M315.5 81.1h.01M330.8 82.4h.01M336.4 82.6h.01M325.1 86.9h.01M305.3 86.2h.01M303.1 88.0h.01M301.2 86.2h.01M317.0 81.5h.01M318.2 84.3h.01M319.1 81.0h.01M324.0 82.6h.01M344.5 83.3h.01M320.0 81.9h.01M344.6 82.7h.01M329.7 87.1h.01M318.1 86.4h.01M312.8 80.9h.01M301.9 83.8h.01M340.2 81.7h.01M320.3 86.5h.01M312.7 81.3h.01M323.9 83.6h.01M343.2 87.6h.01M311.0 84.8h.01M319.1 80.3h.01M320.4 87.8h.01M313.9 85.0h.01M332.7 80.5h.01M342.5 80.9h.01M313.9 86.1h.01M300.9 83.2h.01M305.8 84.0h.01M300.7 81.3h.01M310.2 80.7h.01M304.2 81.7h.01M323.8 81.2h.01M337.8 83.5h.01M311.6 82.0h.01" stroke="#111" stroke-width="0.6" stroke-linecap="square" fill="none" opacity="0.7"/>
<path d="M277 76.3 H307" stroke="#555" stroke-width="0.45" stroke-dasharray="2.2 0.5"/>
<rect x="297" y="22.6" width="50" height="25.4" fill="none" stroke="#111" stroke-width="1.4"/>
<rect x="297" y="51.5" width="50.5" height="37.7" fill="none" stroke="#111" stroke-width="1.4"/>
<text x="277.8" y="28.2" font-size="7.8" font-weight="bold" fill="#000" stroke="#000" stroke-width="0.3" text-anchor="start" >21.4</text>
<rect x="277" y="83.6" width="16.8" height="7" fill="#fff"/>
<text x="277.8" y="89.8" font-size="7.8" font-weight="bold" fill="#000" stroke="#000" stroke-width="0.3" text-anchor="start" >76.2</text>
<text x="279" y="17.6" font-size="9" font-weight="bold" fill="#000" stroke="#000" stroke-width="0.34" text-anchor="start" >Akt1</text>
<text x="299.5" y="14.000000000000002" font-size="8.8" font-weight="bold" fill="#000" stroke="#000" stroke-width="0.33" text-anchor="start" >+/+</text>
<text x="336" y="14.000000000000002" font-size="8.8" font-weight="bold" fill="#000" stroke="#000" stroke-width="0.33" text-anchor="start" >+/-</text>
<text x="315.5" y="17.6" font-size="9" font-weight="bold" fill="#000" stroke="#000" stroke-width="0.34" text-anchor="start" >Akt2</text>
<rect x="369.4" y="19.5" width="73.90000000000003" height="72.5" fill="#fff" stroke="#b0b0b0" stroke-width="0.8"/>
<line x1="380.4" y1="19.5" x2="380.4" y2="92" stroke="#ececec" stroke-width="0.6"/>
<line x1="385.4" y1="19.5" x2="385.4" y2="92" stroke="#ececec" stroke-width="0.6"/>
<line x1="402.4" y1="19.5" x2="402.4" y2="92" stroke="#ececec" stroke-width="0.6"/>
<line x1="419.4" y1="19.5" x2="419.4" y2="92" stroke="#ececec" stroke-width="0.6"/>
<line x1="435.9" y1="19.5" x2="435.9" y2="92" stroke="#ececec" stroke-width="0.6"/>
<line x1="369.4" y1="26.0" x2="443.3" y2="26.0" stroke="#ececec" stroke-width="0.6"/>
<line x1="369.4" y1="43.0" x2="443.3" y2="43.0" stroke="#ececec" stroke-width="0.6"/>
<line x1="369.4" y1="62.5" x2="443.3" y2="62.5" stroke="#ececec" stroke-width="0.6"/>
<line x1="369.4" y1="75.0" x2="443.3" y2="75.0" stroke="#ececec" stroke-width="0.6"/>
<text x="377.4" y="100.5" font-size="5" font-weight="normal" fill="#484848" text-anchor="middle">0</text>
<text x="385.29999999999995" y="100.5" font-size="5" font-weight="normal" fill="#484848" text-anchor="middle">10<tspan dy="-1.9" font-size="3.6">2</tspan></text>
<text x="402.0" y="100.5" font-size="5" font-weight="normal" fill="#484848" text-anchor="middle">10<tspan dy="-1.9" font-size="3.6">3</tspan></text>
<text x="419.09999999999997" y="100.5" font-size="5" font-weight="normal" fill="#484848" text-anchor="middle">10<tspan dy="-1.9" font-size="3.6">4</tspan></text>
<text x="436.09999999999997" y="100.5" font-size="5" font-weight="normal" fill="#484848" text-anchor="middle">10<tspan dy="-1.9" font-size="3.6">5</tspan></text>
<text x="367.59999999999997" y="27.7" font-size="5" font-weight="normal" fill="#484848" text-anchor="end">10<tspan dy="-1.9" font-size="3.6">5</tspan></text>
<text x="367.59999999999997" y="44.7" font-size="5" font-weight="normal" fill="#484848" text-anchor="end">10<tspan dy="-1.9" font-size="3.6">4</tspan></text>
<text x="367.59999999999997" y="64.3" font-size="5" font-weight="normal" fill="#484848" text-anchor="end">10<tspan dy="-1.9" font-size="3.6">3</tspan></text>
<text x="366.79999999999995" y="77.1" font-size="5" font-weight="normal" fill="#484848" text-anchor="end">0</text>
<line x1="367.9" y1="26.0" x2="369.4" y2="26.0" stroke="#888" stroke-width="0.5"/>
<line x1="367.9" y1="43.0" x2="369.4" y2="43.0" stroke="#888" stroke-width="0.5"/>
<line x1="367.9" y1="62.5" x2="369.4" y2="62.5" stroke="#888" stroke-width="0.5"/>
<line x1="367.9" y1="75.0" x2="369.4" y2="75.0" stroke="#888" stroke-width="0.5"/>
<line x1="377.9" y1="92" x2="377.9" y2="93.5" stroke="#888" stroke-width="0.5"/>
<line x1="385.4" y1="92" x2="385.4" y2="93.5" stroke="#888" stroke-width="0.5"/>
<line x1="402.4" y1="92" x2="402.4" y2="93.5" stroke="#888" stroke-width="0.5"/>
<line x1="419.4" y1="92" x2="419.4" y2="93.5" stroke="#888" stroke-width="0.5"/>
<line x1="435.9" y1="92" x2="435.9" y2="93.5" stroke="#888" stroke-width="0.5"/>
<path d="M403.5 37.0C403.6 35.1 404.4 32.4 406.0 31.0C407.6 29.6 410.3 28.9 413.0 28.5C415.7 28.1 418.8 28.6 422.0 28.5C425.2 28.4 429.1 27.8 432.0 28.0C434.9 28.2 438.0 28.3 439.5 29.5C441.0 30.7 440.8 32.9 441.0 35.0C441.2 37.1 441.2 40.1 440.5 42.0C439.8 43.9 439.1 45.7 437.0 46.5C434.9 47.3 431.0 46.9 428.0 46.8C425.0 46.7 421.8 46.2 419.0 46.0C416.2 45.8 413.2 46.1 411.0 45.5C408.8 44.9 406.8 43.9 405.5 42.5C404.2 41.1 403.4 38.9 403.5 37.0Z" fill="#9c9c9c" opacity="0.3"/>
<path d="M403.5 37.0C403.6 35.1 404.4 32.4 406.0 31.0C407.6 29.6 410.3 28.9 413.0 28.5C415.7 28.1 418.8 28.6 422.0 28.5C425.2 28.4 429.1 27.8 432.0 28.0C434.9 28.2 438.0 28.3 439.5 29.5C441.0 30.7 440.8 32.9 441.0 35.0C441.2 37.1 441.2 40.1 440.5 42.0C439.8 43.9 439.1 45.7 437.0 46.5C434.9 47.3 431.0 46.9 428.0 46.8C425.0 46.7 421.8 46.2 419.0 46.0C416.2 45.8 413.2 46.1 411.0 45.5C408.8 44.9 406.8 43.9 405.5 42.5C404.2 41.1 403.4 38.9 403.5 37.0Z" fill="none" stroke="#444" stroke-width="0.4"/>
<path d="M405.4 37.0C405.5 35.5 406.7 33.4 408.1 32.2C409.5 31.0 411.5 30.1 413.9 29.7C416.2 29.2 419.4 29.4 422.2 29.5C425.1 29.5 428.4 29.6 430.9 29.9C433.4 30.2 436.2 30.3 437.3 31.2C438.4 32.2 437.5 34.1 437.5 35.7C437.6 37.3 438.0 39.2 437.6 40.8C437.2 42.4 436.9 44.5 435.1 45.3C433.4 46.0 430.0 45.4 427.2 45.4C424.5 45.4 421.1 45.4 418.6 45.2C416.0 44.9 413.7 44.5 411.9 43.9C410.1 43.2 408.9 42.4 407.8 41.2C406.8 40.1 405.4 38.5 405.4 37.0Z" fill="none" stroke="#555" stroke-width="0.4"/>
<path d="M408.4 37.3C408.2 36.0 408.6 34.1 409.6 33.0C410.7 32.0 412.6 31.3 414.5 31.0C416.5 30.7 419.4 31.4 421.6 31.3C423.8 31.2 425.6 30.2 427.8 30.3C429.9 30.3 433.2 30.7 434.3 31.6C435.4 32.5 434.5 33.9 434.6 35.4C434.6 37.0 435.0 39.5 434.6 40.8C434.2 42.2 433.6 43.0 432.1 43.5C430.6 44.0 427.9 43.8 425.7 43.9C423.5 44.0 420.8 44.0 418.9 43.9C417.0 43.8 415.7 43.9 414.4 43.3C413.0 42.8 411.5 41.8 410.5 40.8C409.5 39.8 408.5 38.6 408.4 37.3Z" fill="none" stroke="#555" stroke-width="0.4"/>
<path d="M417.3 37.5C417.3 38.4 417.3 39.5 417.0 40.4C416.7 41.2 416.0 42.1 415.3 42.7C414.6 43.3 413.7 43.6 412.9 43.9C412.0 44.2 410.9 44.5 410.1 44.3C409.2 44.1 408.3 43.3 407.7 42.6C407.1 41.9 406.8 41.0 406.5 40.1C406.2 39.2 405.9 38.4 405.9 37.5C405.8 36.6 406.0 35.7 406.3 34.8C406.5 33.9 406.9 32.8 407.5 32.1C408.1 31.4 409.1 30.6 410.0 30.5C410.9 30.4 412.0 30.9 412.8 31.2C413.7 31.6 414.4 32.1 415.1 32.7C415.7 33.3 416.3 34.0 416.7 34.8C417.1 35.6 417.2 36.6 417.3 37.5Z" fill="none" stroke="#777" stroke-width="0.35" opacity="1"/>
<path d="M415.4 37.5C415.5 38.2 415.6 38.9 415.4 39.5C415.2 40.2 414.7 40.8 414.3 41.2C413.8 41.7 413.1 42.0 412.5 42.1C411.9 42.3 411.1 42.5 410.5 42.3C409.9 42.1 409.3 41.7 408.8 41.2C408.3 40.8 407.8 40.2 407.6 39.5C407.3 38.9 407.2 38.1 407.3 37.5C407.3 36.9 407.7 36.3 408.0 35.7C408.2 35.1 408.4 34.4 408.9 33.9C409.3 33.4 409.8 32.8 410.5 32.6C411.1 32.4 411.9 32.4 412.5 32.6C413.2 32.8 413.9 33.2 414.3 33.7C414.8 34.2 415.0 34.9 415.2 35.6C415.4 36.2 415.4 36.8 415.4 37.5Z" fill="none" stroke="#777" stroke-width="0.35" opacity="1"/>
<path d="M414.1 37.5C414.1 37.9 414.1 38.4 414.0 38.8C413.8 39.2 413.5 39.5 413.2 39.8C412.9 40.1 412.5 40.2 412.1 40.4C411.7 40.5 411.2 40.6 410.9 40.5C410.5 40.4 410.1 40.0 409.9 39.7C409.6 39.4 409.4 39.0 409.3 38.7C409.1 38.3 409.0 37.9 409.0 37.5C409.0 37.1 409.0 36.7 409.1 36.3C409.3 35.9 409.4 35.4 409.7 35.0C410.0 34.7 410.5 34.5 410.9 34.4C411.2 34.4 411.7 34.6 412.1 34.8C412.4 34.9 412.8 35.1 413.1 35.4C413.4 35.6 413.6 35.9 413.8 36.3C414.0 36.7 414.1 37.1 414.1 37.5Z" fill="none" stroke="#777" stroke-width="0.35" opacity="1"/>
<ellipse cx="411.5" cy="37.5" rx="2.6" ry="3" fill="#fff" opacity="0.8"/>
<path d="M420 31 C425 28.5 436 28.5 440 31 C441 37 440 42 437 46 C430 46.5 424 44 421 39Z" fill="#555" opacity="0.26"/>
<path d="M440.3 38.4C439.9 39.6 438.7 40.6 437.8 41.4C436.9 42.3 436.0 43.0 434.9 43.6C433.8 44.2 432.6 44.6 431.3 44.8C430.0 44.9 428.6 44.8 427.3 44.4C426.0 44.0 424.5 43.3 423.6 42.3C422.7 41.4 422.3 39.8 422.1 38.6C421.9 37.3 422.2 36.0 422.5 34.8C422.8 33.6 423.1 32.3 423.9 31.3C424.6 30.4 425.8 29.6 426.9 29.1C428.1 28.6 429.4 28.3 430.7 28.2C432.0 28.2 433.4 28.2 434.6 28.7C435.8 29.2 437.0 30.1 437.9 31.0C438.8 32.0 439.8 33.2 440.2 34.4C440.6 35.6 440.7 37.2 440.3 38.4Z" fill="none" stroke="#3a3a3a" stroke-width="0.38" opacity="1"/>
<path d="M437.6 37.8C437.5 38.8 437.5 40.0 437.0 40.8C436.5 41.7 435.6 42.6 434.6 43.1C433.6 43.6 432.4 43.8 431.3 43.8C430.2 43.8 428.9 43.5 428.0 43.0C427.0 42.5 426.2 41.6 425.6 40.8C424.9 40.0 424.3 39.1 424.0 38.1C423.7 37.2 423.6 36.0 423.8 35.0C424.0 34.1 424.7 33.2 425.4 32.4C426.0 31.6 426.7 30.8 427.6 30.2C428.5 29.7 429.6 29.2 430.7 29.1C431.8 29.0 433.1 29.4 434.1 29.9C435.1 30.3 436.1 31.1 436.7 32.0C437.3 32.8 437.5 34.0 437.7 35.0C437.8 35.9 437.7 36.9 437.6 37.8Z" fill="none" stroke="#3a3a3a" stroke-width="0.38" opacity="1"/>
<path d="M436.7 37.6C436.5 38.4 436.0 39.2 435.5 39.8C435.0 40.4 434.3 40.8 433.6 41.2C432.8 41.6 432.0 42.0 431.2 42.1C430.4 42.2 429.4 42.0 428.6 41.7C427.8 41.4 426.9 40.8 426.4 40.2C425.8 39.5 425.4 38.6 425.3 37.8C425.2 37.0 425.6 36.2 425.8 35.5C426.0 34.7 426.3 34.0 426.7 33.4C427.1 32.7 427.6 31.9 428.3 31.5C429.0 31.1 429.9 30.9 430.8 30.8C431.7 30.8 432.7 30.9 433.4 31.3C434.2 31.6 434.9 32.3 435.4 33.0C435.9 33.7 436.2 34.5 436.4 35.3C436.6 36.0 436.8 36.9 436.7 37.6Z" fill="none" stroke="#3a3a3a" stroke-width="0.38" opacity="1"/>
<path d="M435.2 37.4C435.0 37.9 434.6 38.4 434.2 38.8C433.8 39.2 433.3 39.6 432.8 39.8C432.3 40.1 431.7 40.3 431.1 40.4C430.6 40.5 429.9 40.4 429.3 40.2C428.7 40.0 427.9 39.7 427.5 39.2C427.1 38.8 426.9 38.0 426.9 37.5C426.8 36.9 427.0 36.3 427.2 35.7C427.3 35.2 427.5 34.6 427.8 34.2C428.1 33.7 428.6 33.3 429.1 33.0C429.6 32.8 430.2 32.5 430.9 32.5C431.5 32.5 432.2 32.5 432.8 32.8C433.3 33.0 433.8 33.5 434.2 34.0C434.6 34.4 434.9 35.0 435.1 35.6C435.3 36.1 435.4 36.8 435.2 37.4Z" fill="none" stroke="#3a3a3a" stroke-width="0.38" opacity="1"/>
<path d="M433.6 37.0C433.6 37.4 433.5 37.8 433.2 38.1C433.0 38.4 432.6 38.6 432.2 38.7C431.9 38.8 431.5 38.8 431.1 38.8C430.7 38.8 430.3 38.8 430.0 38.6C429.7 38.5 429.3 38.3 429.1 38.0C428.8 37.8 428.7 37.4 428.6 37.1C428.5 36.7 428.4 36.3 428.4 36.0C428.5 35.6 428.7 35.3 428.9 35.0C429.1 34.7 429.4 34.4 429.8 34.2C430.1 34.1 430.5 33.9 430.9 34.0C431.3 34.0 431.7 34.2 432.0 34.4C432.3 34.6 432.6 34.8 432.8 35.1C433.1 35.3 433.3 35.6 433.5 35.9C433.6 36.3 433.6 36.7 433.6 37.0Z" fill="none" stroke="#3a3a3a" stroke-width="0.38" opacity="1"/>
<ellipse cx="430.3" cy="33" rx="8.6" ry="3.4" transform="rotate(5 430.3 33)" fill="#222" opacity="0.5"/>
<ellipse cx="430" cy="31.3" rx="7.8" ry="1.9" transform="rotate(4 430 31.3)" fill="#000" opacity="0.92"/>
<path d="M431.2 47.5h.01M422.5 46.3h.01M427.2 40.5h.01M428.1 36.6h.01M422.7 38.3h.01M428.9 36.1h.01M433.9 34.9h.01M429.0 37.3h.01M437.9 41.5h.01M421.8 32.5h.01M429.1 40.9h.01M435.6 34.9h.01M438.6 44.2h.01M439.9 37.2h.01M432.9 27.4h.01M416.8 32.6h.01M433.9 42.2h.01M428.3 42.0h.01M433.0 44.8h.01M418.1 31.4h.01M422.4 30.1h.01M440.3 30.8h.01M423.3 33.8h.01M435.1 33.5h.01M434.0 39.2h.01M422.7 29.0h.01M440.2 32.0h.01M421.7 38.2h.01M429.4 30.8h.01M436.5 41.3h.01M430.9 31.8h.01M423.0 24.4h.01M431.6 38.3h.01M422.7 36.2h.01M417.3 39.6h.01M426.1 33.3h.01M433.3 35.3h.01M435.8 39.0h.01M437.0 36.8h.01M414.2 43.8h.01M417.3 42.0h.01M430.7 28.2h.01M429.5 41.1h.01M422.0 36.3h.01M423.9 30.4h.01M424.8 43.4h.01M433.7 35.9h.01M428.4 36.8h.01M431.0 37.1h.01M417.2 41.3h.01M433.8 29.2h.01M428.0 35.5h.01M424.9 39.1h.01M427.1 34.5h.01M422.4 34.5h.01M421.9 36.3h.01M438.1 41.8h.01M431.9 28.3h.01M436.1 41.4h.01M429.1 34.2h.01M436.5 29.9h.01M426.4 49.3h.01M435.8 24.7h.01M429.1 43.9h.01M424.8 39.5h.01M429.7 27.7h.01M424.7 42.5h.01M437.2 32.6h.01M436.7 32.0h.01M430.7 35.9h.01M420.4 37.9h.01M423.3 31.2h.01M423.3 30.5h.01M435.1 36.5h.01M430.8 34.5h.01M429.4 34.5h.01M421.5 27.4h.01M429.5 41.9h.01M430.6 45.3h.01M419.6 34.5h.01M424.7 43.1h.01M440.7 33.1h.01M434.0 34.7h.01M422.1 35.4h.01M421.8 44.9h.01M433.1 42.8h.01M434.5 36.6h.01M412.6 36.6h.01M436.0 45.8h.01M422.0 40.6h.01M431.3 35.0h.01M427.0 39.1h.01M433.0 39.8h.01M426.2 28.5h.01M438.1 43.5h.01M425.1 35.8h.01M434.6 25.9h.01M432.4 49.9h.01M430.9 32.0h.01M430.5 33.6h.01M430.2 25.7h.01M420.2 27.6h.01M435.2 35.5h.01M436.9 24.3h.01M424.9 44.4h.01M423.5 25.3h.01M423.9 34.0h.01M428.9 43.5h.01M438.1 44.9h.01M433.0 33.1h.01M425.6 27.5h.01M437.8 43.2h.01M429.6 30.9h.01M433.6 38.8h.01M430.1 29.3h.01M430.6 32.8h.01M434.1 39.4h.01M432.0 33.6h.01M439.5 40.5h.01M437.7 40.8h.01M433.6 38.3h.01M421.6 25.6h.01M422.6 39.5h.01M435.3 37.1h.01M429.6 46.6h.01M426.3 25.8h.01M418.4 34.2h.01M433.8 40.2h.01M427.5 40.7h.01M428.7 31.8h.01" stroke="#000" stroke-width="0.58" stroke-linecap="square" fill="none" opacity="0.65"/>
<path d="M407.0 42.4h.01M417.5 31.5h.01M402.2 38.7h.01M426.7 31.3h.01M400.2 40.4h.01M414.0 34.5h.01M409.8 40.8h.01M396.3 37.9h.01M414.7 43.3h.01M419.1 37.6h.01M398.7 45.7h.01M416.1 34.3h.01M418.1 44.0h.01M408.9 24.4h.01M406.3 33.7h.01M403.4 37.5h.01M401.5 40.2h.01M424.8 31.2h.01M418.2 34.9h.01M414.3 37.3h.01M420.1 33.9h.01M415.7 33.5h.01M411.8 37.9h.01M418.5 28.9h.01M399.4 46.0h.01M413.0 47.8h.01M401.9 39.2h.01M414.7 48.2h.01M409.6 35.4h.01M415.6 37.4h.01M404.1 42.4h.01M395.1 32.2h.01M420.7 35.1h.01M407.5 40.1h.01M418.8 41.0h.01M402.5 34.7h.01M418.2 37.3h.01M405.1 43.0h.01M418.9 50.5h.01M401.6 33.9h.01M404.6 40.0h.01M406.3 44.4h.01M405.0 36.4h.01M414.4 39.2h.01M402.1 46.6h.01M414.5 35.2h.01M411.6 31.6h.01M400.4 36.3h.01M412.9 38.6h.01M403.9 30.0h.01" stroke="#333" stroke-width="0.55" stroke-linecap="square" fill="none" opacity="0.6"/>
<path d="M410.9 52.4h.01M431.5 48.1h.01M396.1 49.9h.01M423.8 47.6h.01M395.1 49.4h.01M394.6 51.2h.01M422.4 48.0h.01M413.9 47.6h.01M401.7 47.3h.01M431.3 49.2h.01M426.6 48.4h.01M430.9 50.2h.01M423.7 48.7h.01M419.4 47.3h.01M438.8 50.7h.01M418.0 50.5h.01M397.7 48.3h.01M403.8 51.9h.01M393.6 49.1h.01M433.8 51.5h.01M426.8 48.1h.01M403.9 50.9h.01M407.0 51.1h.01M409.4 51.3h.01M419.9 51.7h.01M439.3 48.7h.01M439.4 46.1h.01M434.2 46.2h.01M418.6 48.7h.01M429.2 48.2h.01M402.8 51.5h.01M418.9 51.3h.01M416.0 46.3h.01M429.2 47.5h.01M415.2 46.0h.01" stroke="#333" stroke-width="0.55" stroke-linecap="square" fill="none" opacity="0.65"/>
<path d="M404.6 55.5C406.1 53.6 411.4 54.7 415.0 54.5C418.6 54.3 422.4 54.2 426.0 54.5C429.6 54.8 435.7 54.2 436.5 56.0C437.3 57.8 432.7 62.0 431.0 65.0C429.3 68.0 427.8 70.8 426.5 74.0C425.2 77.2 424.8 81.9 423.5 84.0C422.2 86.1 420.2 86.5 418.5 86.5C416.8 86.5 414.7 85.6 413.0 84.0C411.3 82.4 409.7 80.0 408.5 77.0C407.3 74.0 406.6 69.6 406.0 66.0C405.4 62.4 403.1 57.4 404.6 55.5Z" fill="#aaa" opacity="0.28"/>
<path d="M404.6 55.5C406.1 53.6 411.4 54.7 415.0 54.5C418.6 54.3 422.4 54.2 426.0 54.5C429.6 54.8 435.7 54.2 436.5 56.0C437.3 57.8 432.7 62.0 431.0 65.0C429.3 68.0 427.8 70.8 426.5 74.0C425.2 77.2 424.8 81.9 423.5 84.0C422.2 86.1 420.2 86.5 418.5 86.5C416.8 86.5 414.7 85.6 413.0 84.0C411.3 82.4 409.7 80.0 408.5 77.0C407.3 74.0 406.6 69.6 406.0 66.0C405.4 62.4 403.1 57.4 404.6 55.5Z" fill="none" stroke="#444" stroke-width="0.42" opacity="0.9"/>
<path d="M406.1 56.8C407.4 55.1 411.9 56.5 415.0 56.5C418.0 56.6 421.1 56.9 424.2 57.0C427.4 57.2 433.2 56.0 434.0 57.5C434.8 58.9 430.6 63.1 429.1 65.6C427.6 68.1 426.1 69.8 425.1 72.5C424.1 75.3 424.3 80.2 423.1 81.9C421.8 83.7 419.2 83.3 417.6 83.1C416.0 83.0 414.7 82.1 413.4 80.9C412.1 79.7 410.8 78.3 409.8 76.0C408.7 73.6 407.7 69.8 407.1 66.6C406.5 63.4 404.8 58.5 406.1 56.8Z" fill="none" stroke="#555" stroke-width="0.42" opacity="0.9"/>
<path d="M408.3 58.5C409.4 57.2 413.8 58.3 416.2 58.2C418.6 58.1 420.4 57.8 422.7 58.0C425.0 58.1 429.5 57.8 430.1 59.0C430.6 60.2 427.2 63.2 426.1 65.3C425.0 67.4 424.4 69.5 423.6 71.7C422.7 73.9 422.0 77.1 421.1 78.6C420.3 80.1 419.6 80.5 418.4 80.6C417.2 80.7 415.2 80.3 414.1 79.1C412.9 78.0 412.4 76.1 411.6 73.9C410.9 71.7 410.0 68.6 409.5 66.1C408.9 63.5 407.2 59.8 408.3 58.5Z" fill="none" stroke="#444" stroke-width="0.42" opacity="0.9"/>
<path d="M410.0 61.6C411.0 60.5 414.1 60.0 416.1 59.9C418.2 59.9 420.5 60.8 422.3 61.0C424.0 61.3 426.2 60.7 426.5 61.6C426.8 62.4 424.6 64.5 423.9 66.0C423.2 67.5 423.0 68.8 422.4 70.4C421.8 72.1 421.2 74.9 420.4 76.1C419.5 77.2 418.3 77.2 417.3 77.3C416.4 77.4 415.7 77.3 414.8 76.5C413.9 75.7 412.8 74.2 412.1 72.5C411.4 70.8 411.0 68.0 410.6 66.2C410.3 64.3 409.1 62.6 410.0 61.6Z" fill="none" stroke="#555" stroke-width="0.42" opacity="0.9"/>
<path d="M412.0 62.4C412.5 61.5 414.9 62.1 416.3 62.0C417.8 62.0 419.3 61.7 420.7 61.9C422.0 62.2 424.0 62.9 424.2 63.5C424.3 64.2 422.1 64.9 421.5 65.9C421.0 66.9 421.1 68.3 420.8 69.5C420.5 70.6 420.5 72.0 419.9 72.9C419.4 73.8 418.2 74.5 417.4 74.7C416.6 74.8 415.8 74.5 415.3 73.8C414.9 73.0 414.9 71.3 414.5 70.2C414.1 69.1 413.5 68.6 413.1 67.3C412.7 66.0 411.5 63.2 412.0 62.4Z" fill="none" stroke="#444" stroke-width="0.42" opacity="0.9"/>
<path d="M414.0 65.2C414.4 64.9 416.2 65.1 417.0 64.8C417.8 64.6 418.2 64.0 418.9 63.9C419.7 63.8 421.3 63.7 421.5 64.2C421.8 64.7 420.7 66.2 420.2 66.9C419.7 67.6 419.0 68.0 418.6 68.7C418.3 69.3 418.5 70.3 418.2 70.8C417.8 71.2 417.0 71.5 416.7 71.5C416.3 71.5 416.3 71.2 416.0 70.8C415.8 70.5 415.5 70.1 415.3 69.4C415.0 68.8 414.7 67.6 414.5 66.9C414.3 66.2 413.6 65.5 414.0 65.2Z" fill="none" stroke="#555" stroke-width="0.42" opacity="0.9"/>
<path d="M422.1 80.7C422.1 81.1 421.8 81.5 421.5 81.9C421.1 82.2 420.6 82.4 420.0 82.6C419.5 82.8 418.8 83.0 418.1 83.0C417.5 83.0 416.7 82.8 416.1 82.5C415.5 82.3 415.0 82.0 414.5 81.6C414.1 81.3 413.6 80.9 413.4 80.6C413.1 80.2 413.0 79.7 413.0 79.3C413.0 78.9 413.1 78.4 413.4 78.1C413.7 77.7 414.2 77.4 414.8 77.2C415.4 77.1 416.2 77.1 416.9 77.2C417.6 77.3 418.2 77.4 418.9 77.6C419.5 77.7 420.1 78.0 420.6 78.3C421.1 78.6 421.4 79.0 421.7 79.4C422.0 79.8 422.2 80.3 422.1 80.7Z" fill="none" stroke="#333" stroke-width="0.45" opacity="1"/>
<path d="M420.6 80.5C420.6 80.8 420.4 81.0 420.2 81.3C420.0 81.5 419.8 81.8 419.4 82.0C419.0 82.1 418.5 82.2 418.0 82.2C417.5 82.2 416.9 82.0 416.5 81.8C416.0 81.7 415.6 81.5 415.3 81.2C415.0 81.0 414.7 80.7 414.6 80.4C414.4 80.1 414.3 79.8 414.3 79.5C414.3 79.2 414.3 78.9 414.6 78.6C414.8 78.4 415.3 78.2 415.7 78.1C416.1 78.0 416.6 77.9 417.1 77.9C417.5 77.9 418.1 78.0 418.6 78.1C419.0 78.2 419.4 78.5 419.8 78.8C420.1 79.0 420.4 79.3 420.5 79.6C420.7 79.9 420.7 80.2 420.6 80.5Z" fill="none" stroke="#333" stroke-width="0.45" opacity="1"/>
<path d="M419.5 80.3C419.5 80.5 419.5 80.7 419.3 80.9C419.2 81.0 418.9 81.1 418.7 81.2C418.4 81.3 418.1 81.3 417.8 81.3C417.5 81.3 417.2 81.2 416.9 81.1C416.6 81.0 416.4 80.9 416.2 80.7C416.0 80.6 415.7 80.4 415.6 80.3C415.5 80.1 415.4 79.9 415.5 79.7C415.5 79.5 415.6 79.3 415.8 79.2C415.9 79.0 416.1 78.9 416.3 78.8C416.6 78.7 416.9 78.7 417.2 78.7C417.5 78.7 417.9 78.8 418.1 78.9C418.4 79.0 418.7 79.1 418.9 79.2C419.1 79.4 419.2 79.6 419.3 79.8C419.4 79.9 419.5 80.1 419.5 80.3Z" fill="none" stroke="#333" stroke-width="0.45" opacity="1"/>
<path d="M431.2 75.7h.01M417.3 54.5h.01M439.3 70.2h.01M407.8 73.1h.01M421.9 60.6h.01M439.1 72.1h.01M418.7 70.9h.01M418.6 61.1h.01M430.6 85.0h.01M412.9 56.6h.01M425.3 75.6h.01M419.7 67.7h.01M416.3 69.7h.01M423.2 67.9h.01M435.5 62.5h.01M418.7 65.1h.01M415.5 57.0h.01M414.0 68.3h.01M402.8 66.6h.01M431.5 83.0h.01M412.8 71.8h.01M419.7 79.1h.01M412.0 57.6h.01M427.3 60.4h.01M392.1 65.6h.01M419.4 69.8h.01M415.3 75.6h.01M425.7 75.3h.01M438.8 72.9h.01M400.6 70.0h.01M419.4 59.5h.01M418.2 61.3h.01M407.6 63.5h.01M419.9 62.0h.01M409.6 83.5h.01M423.6 72.6h.01M430.3 78.0h.01M421.0 56.2h.01M400.3 59.4h.01M411.2 56.3h.01M410.1 61.8h.01M419.5 55.0h.01M425.5 75.6h.01M410.6 73.0h.01M411.1 64.5h.01M411.6 74.7h.01M402.4 87.3h.01M420.4 69.0h.01M417.4 58.1h.01M407.6 72.2h.01M414.5 73.5h.01M437.2 70.0h.01M425.9 64.9h.01M411.2 69.9h.01M436.8 75.6h.01M422.5 61.6h.01M418.6 83.5h.01M421.9 57.2h.01M414.0 72.7h.01M421.8 64.2h.01M416.8 57.2h.01M420.9 70.8h.01M418.6 64.3h.01M423.8 54.2h.01M400.3 71.5h.01M430.4 62.3h.01M428.7 75.8h.01M413.0 71.6h.01M432.1 61.0h.01M423.7 73.0h.01M412.5 78.9h.01M414.6 77.6h.01M421.2 62.2h.01M417.5 59.2h.01M439.8 59.6h.01M413.3 80.1h.01M426.1 74.6h.01M409.8 58.0h.01M417.7 70.2h.01M427.2 77.0h.01M422.7 75.5h.01M412.1 67.3h.01M412.8 63.9h.01M420.1 62.3h.01M418.3 78.7h.01M423.5 64.7h.01M420.7 73.0h.01M420.8 76.8h.01M407.0 78.3h.01M410.6 74.5h.01M406.6 78.5h.01M426.8 62.0h.01M425.0 64.4h.01M429.9 66.3h.01M415.3 59.1h.01M418.3 73.3h.01M425.4 61.8h.01M415.8 57.5h.01M413.0 66.9h.01M422.6 76.1h.01M414.3 56.6h.01M433.2 68.2h.01M415.9 69.5h.01M418.6 74.9h.01M424.0 56.7h.01M415.8 74.7h.01M417.1 75.8h.01M409.9 82.5h.01M428.8 58.4h.01M421.1 70.0h.01" stroke="#222" stroke-width="0.55" stroke-linecap="square" fill="none" opacity="0.6"/>
<path d="M434.2 77.3h.01M427.5 69.4h.01M430.3 67.7h.01M433.1 64.7h.01M432.8 87.5h.01M436.2 79.8h.01M429.1 85.2h.01M432.6 75.5h.01M434.7 85.7h.01M437.3 70.5h.01M432.0 66.1h.01M432.8 75.4h.01M433.9 71.8h.01M430.9 67.2h.01M434.2 79.9h.01M435.1 69.5h.01M435.2 81.7h.01M431.0 64.0h.01M435.6 86.7h.01M434.4 75.2h.01M433.2 81.6h.01M429.2 73.5h.01M432.1 55.2h.01M432.1 72.5h.01M433.3 70.7h.01M432.3 76.0h.01M428.8 63.6h.01M434.7 76.8h.01M435.7 62.2h.01M436.5 79.7h.01M433.8 64.1h.01M435.5 81.7h.01M432.3 75.9h.01M434.6 79.0h.01M435.1 77.6h.01M429.4 68.8h.01M428.6 80.2h.01M435.3 75.8h.01M438.5 65.5h.01M437.5 65.5h.01" stroke="#222" stroke-width="0.55" stroke-linecap="square" fill="none" opacity="0.6"/>
<path d="M396 57.2 c1 -1.6 3.4 -1.6 4.4 0 M396 61.6 c1 1.6 3.4 1.6 4.4 0" fill="none" stroke="#444" stroke-width="0.45"/>
<rect x="391.3" y="22.6" width="50.89999999999998" height="25.299999999999997" fill="none" stroke="#111" stroke-width="1.4"/>
<rect x="390.4" y="53" width="50.60000000000002" height="36.2" fill="none" stroke="#111" stroke-width="1.4"/>
<text x="370.8" y="28.2" font-size="7.8" font-weight="bold" fill="#000" stroke="#000" stroke-width="0.3" text-anchor="start" >68.6</text>
<rect x="370.2" y="83.6" width="11" height="7" fill="#fff"/>
<text x="371.8" y="89.8" font-size="7.8" font-weight="bold" fill="#000" stroke="#000" stroke-width="0.3" text-anchor="start" >24</text>
<text x="376.5" y="17.6" font-size="9" font-weight="bold" fill="#000" stroke="#000" stroke-width="0.34" text-anchor="start" >Akt1</text>
<text x="396.8" y="13.500000000000002" font-size="9.5" font-weight="bold" fill="#000" stroke="#000" stroke-width="0.36" text-anchor="start" >-/-</text>
<text x="428.7" y="13.500000000000002" font-size="9.5" font-weight="bold" fill="#000" stroke="#000" stroke-width="0.36" text-anchor="start" >-/-</text>
<text x="408" y="17.6" font-size="9" font-weight="bold" fill="#000" stroke="#000" stroke-width="0.34" text-anchor="start" >Akt2</text>
<text x="444" y="30.5" font-size="11.2" font-weight="bold" fill="#000" stroke="#000" stroke-width="0.43" text-anchor="start" >anti-</text>
<text x="444.3" y="41.2" font-size="11.2" font-weight="bold" fill="#000" stroke="#000" stroke-width="0.43" text-anchor="start" >IgM</text>
<line x1="322.0" y1="85.5" x2="335.6" y2="115.0" stroke="#4d4d4d" stroke-width="1.0"/>
<path d="M340.4 125.4L331.4 116.9L339.8 113.0Z" fill="#4d4d4d"/>
<line x1="402.5" y1="84.5" x2="388.3" y2="115.1" stroke="#000" stroke-width="1.2"/>
<path d="M383.5 125.5L384.2 113.1L392.5 117.0Z" fill="#000"/>
<rect x="328.4" y="126.4" width="72.20000000000005" height="71.69999999999999" fill="#fff" stroke="#aaa" stroke-width="0.8"/>
<line x1="338.9" y1="126.4" x2="338.9" y2="198.1" stroke="#e8e8e8" stroke-width="0.6"/>
<line x1="343.9" y1="126.4" x2="343.9" y2="198.1" stroke="#e8e8e8" stroke-width="0.6"/>
<line x1="360.9" y1="126.4" x2="360.9" y2="198.1" stroke="#e8e8e8" stroke-width="0.6"/>
<line x1="377.9" y1="126.4" x2="377.9" y2="198.1" stroke="#e8e8e8" stroke-width="0.6"/>
<line x1="394.4" y1="126.4" x2="394.4" y2="198.1" stroke="#e8e8e8" stroke-width="0.6"/>
<line x1="328.4" y1="184.5" x2="400.6" y2="184.5" stroke="#e8e8e8" stroke-width="0.6"/>
<line x1="328.4" y1="170.9" x2="400.6" y2="170.9" stroke="#e8e8e8" stroke-width="0.6"/>
<line x1="328.4" y1="157.3" x2="400.6" y2="157.3" stroke="#e8e8e8" stroke-width="0.6"/>
<line x1="328.4" y1="143.7" x2="400.6" y2="143.7" stroke="#e8e8e8" stroke-width="0.6"/>
<text x="325.4" y="200.2" font-size="5.2" font-weight="normal" fill="#333" text-anchor="end">0</text>
<line x1="326.9" y1="198.1" x2="328.4" y2="198.1" stroke="#777" stroke-width="0.5"/>
<text x="325.4" y="186.6" font-size="5.2" font-weight="normal" fill="#333" text-anchor="end">20</text>
<line x1="326.9" y1="184.5" x2="328.4" y2="184.5" stroke="#777" stroke-width="0.5"/>
<text x="325.4" y="173.0" font-size="5.2" font-weight="normal" fill="#333" text-anchor="end">40</text>
<line x1="326.9" y1="170.9" x2="328.4" y2="170.9" stroke="#777" stroke-width="0.5"/>
<text x="325.4" y="159.4" font-size="5.2" font-weight="normal" fill="#333" text-anchor="end">60</text>
<line x1="326.9" y1="157.3" x2="328.4" y2="157.3" stroke="#777" stroke-width="0.5"/>
<text x="325.4" y="145.8" font-size="5.2" font-weight="normal" fill="#333" text-anchor="end">80</text>
<line x1="326.9" y1="143.7" x2="328.4" y2="143.7" stroke="#777" stroke-width="0.5"/>
<text x="325.4" y="132.2" font-size="5.2" font-weight="normal" fill="#333" text-anchor="end">100</text>
<line x1="326.9" y1="130.1" x2="328.4" y2="130.1" stroke="#777" stroke-width="0.5"/>
<text x="336.0" y="207.2" font-size="5" font-weight="normal" fill="#484848" text-anchor="middle">0</text>
<text x="344.0" y="207.2" font-size="5" font-weight="normal" fill="#484848" text-anchor="middle">10<tspan dy="-1.9" font-size="3.6">2</tspan></text>
<text x="361.59999999999997" y="207.2" font-size="5" font-weight="normal" fill="#484848" text-anchor="middle">10<tspan dy="-1.9" font-size="3.6">3</tspan></text>
<text x="378.79999999999995" y="207.2" font-size="5" font-weight="normal" fill="#484848" text-anchor="middle">10<tspan dy="-1.9" font-size="3.6">4</tspan></text>
<text x="394.4" y="207.2" font-size="5" font-weight="normal" fill="#484848" text-anchor="middle">10<tspan dy="-1.9" font-size="3.6">5</tspan></text>
<path d="M329.0 197.8C331.7 197.8 341.0 197.7 345.0 197.6C349.0 197.5 351.0 197.3 353.0 197.0C355.0 196.7 355.8 196.0 357.0 195.5C358.2 195.0 359.0 195.6 360.0 194.0C361.0 192.4 362.2 190.0 363.0 186.0C363.8 182.0 364.3 177.0 365.0 170.0C365.7 163.0 366.4 150.6 367.0 144.0C367.6 137.4 368.1 131.2 368.6 130.4C369.1 129.6 369.5 137.1 370.0 139.0C370.5 140.9 371.0 142.5 371.6 142.0C372.2 141.5 372.8 135.5 373.4 136.2C374.0 136.9 374.4 141.7 375.0 146.0C375.6 150.3 376.4 158.0 377.0 162.0C377.6 166.0 378.0 167.7 378.5 170.0C379.0 172.3 379.4 173.7 380.0 176.0C380.6 178.3 381.2 181.6 382.0 184.0C382.8 186.4 384.0 188.7 385.0 190.5C386.0 192.3 386.5 193.9 388.0 195.0C389.5 196.1 392.0 196.7 394.0 197.2C396.0 197.7 399.0 197.7 400.0 197.8L400.0 198.1L329.0 198.1Z" fill="#ccc" stroke="none"/>
<path d="M329.0 197.8C331.7 197.8 341.0 197.7 345.0 197.6C349.0 197.5 351.0 197.3 353.0 197.0C355.0 196.7 355.8 196.0 357.0 195.5C358.2 195.0 359.0 195.6 360.0 194.0C361.0 192.4 362.2 190.0 363.0 186.0C363.8 182.0 364.3 177.0 365.0 170.0C365.7 163.0 366.4 150.6 367.0 144.0C367.6 137.4 368.1 131.2 368.6 130.4C369.1 129.6 369.5 137.1 370.0 139.0C370.5 140.9 371.0 142.5 371.6 142.0C372.2 141.5 372.8 135.5 373.4 136.2C374.0 136.9 374.4 141.7 375.0 146.0C375.6 150.3 376.4 158.0 377.0 162.0C377.6 166.0 378.0 167.7 378.5 170.0C379.0 172.3 379.4 173.7 380.0 176.0C380.6 178.3 381.2 181.6 382.0 184.0C382.8 186.4 384.0 188.7 385.0 190.5C386.0 192.3 386.5 193.9 388.0 195.0C389.5 196.1 392.0 196.7 394.0 197.2C396.0 197.7 399.0 197.7 400.0 197.8" fill="none" stroke="#555" stroke-width="0.9" stroke-linejoin="round"/>
<path d="M329.0 197.7L348.0 197.4L353.0 196.0L356.0 193.2L357.3 192.0L358.6 194.0L360.0 194.6L362.0 191.0L363.5 191.5L365.0 190.0L368.0 182.0L370.0 168.0L371.6 158.0L372.6 159.0L373.4 150.0L374.6 130.4L375.6 140.0L376.6 150.0L377.6 146.0L379.0 133.0L380.0 141.0L381.0 154.0L382.0 157.0L383.0 163.0L384.4 172.0L385.6 166.0L387.0 178.0L389.0 184.0L390.4 182.0L392.0 189.0L395.0 195.0L398.0 197.5L400.2 198.0" fill="none" stroke="#000" stroke-width="1.3" stroke-linejoin="round"/>
<text x="352" y="218" font-size="11.2" font-weight="bold" fill="#000" stroke="#000" stroke-width="0.43" text-anchor="start" >CFSE</text>
<rect x="35.6" y="246.3" width="71.30000000000001" height="72.0" fill="#fff" stroke="#b0b0b0" stroke-width="0.8"/>
<line x1="46.6" y1="246.3" x2="46.6" y2="318.3" stroke="#ececec" stroke-width="0.6"/>
<line x1="51.6" y1="246.3" x2="51.6" y2="318.3" stroke="#ececec" stroke-width="0.6"/>
<line x1="68.6" y1="246.3" x2="68.6" y2="318.3" stroke="#ececec" stroke-width="0.6"/>
<line x1="85.6" y1="246.3" x2="85.6" y2="318.3" stroke="#ececec" stroke-width="0.6"/>
<line x1="102.1" y1="246.3" x2="102.1" y2="318.3" stroke="#ececec" stroke-width="0.6"/>
<line x1="35.6" y1="252.8" x2="106.9" y2="252.8" stroke="#ececec" stroke-width="0.6"/>
<line x1="35.6" y1="269.8" x2="106.9" y2="269.8" stroke="#ececec" stroke-width="0.6"/>
<line x1="35.6" y1="289.3" x2="106.9" y2="289.3" stroke="#ececec" stroke-width="0.6"/>
<line x1="35.6" y1="301.8" x2="106.9" y2="301.8" stroke="#ececec" stroke-width="0.6"/>
<text x="43.6" y="326.8" font-size="5" font-weight="normal" fill="#484848" text-anchor="middle">0</text>
<text x="51.5" y="326.8" font-size="5" font-weight="normal" fill="#484848" text-anchor="middle">10<tspan dy="-1.9" font-size="3.6">2</tspan></text>
<text x="68.2" y="326.8" font-size="5" font-weight="normal" fill="#484848" text-anchor="middle">10<tspan dy="-1.9" font-size="3.6">3</tspan></text>
<text x="85.30000000000001" y="326.8" font-size="5" font-weight="normal" fill="#484848" text-anchor="middle">10<tspan dy="-1.9" font-size="3.6">4</tspan></text>
<text x="102.30000000000001" y="326.8" font-size="5" font-weight="normal" fill="#484848" text-anchor="middle">10<tspan dy="-1.9" font-size="3.6">5</tspan></text>
<text x="33.800000000000004" y="254.5" font-size="5" font-weight="normal" fill="#484848" text-anchor="end">10<tspan dy="-1.9" font-size="3.6">5</tspan></text>
<text x="33.800000000000004" y="271.5" font-size="5" font-weight="normal" fill="#484848" text-anchor="end">10<tspan dy="-1.9" font-size="3.6">4</tspan></text>
<text x="33.800000000000004" y="291.1" font-size="5" font-weight="normal" fill="#484848" text-anchor="end">10<tspan dy="-1.9" font-size="3.6">3</tspan></text>
<text x="33.0" y="303.90000000000003" font-size="5" font-weight="normal" fill="#484848" text-anchor="end">0</text>
<line x1="34.1" y1="252.8" x2="35.6" y2="252.8" stroke="#888" stroke-width="0.5"/>
<line x1="34.1" y1="269.8" x2="35.6" y2="269.8" stroke="#888" stroke-width="0.5"/>
<line x1="34.1" y1="289.3" x2="35.6" y2="289.3" stroke="#888" stroke-width="0.5"/>
<line x1="34.1" y1="301.8" x2="35.6" y2="301.8" stroke="#888" stroke-width="0.5"/>
<line x1="44.1" y1="318.3" x2="44.1" y2="319.8" stroke="#888" stroke-width="0.5"/>
<line x1="51.6" y1="318.3" x2="51.6" y2="319.8" stroke="#888" stroke-width="0.5"/>
<line x1="68.6" y1="318.3" x2="68.6" y2="319.8" stroke="#888" stroke-width="0.5"/>
<line x1="85.6" y1="318.3" x2="85.6" y2="319.8" stroke="#888" stroke-width="0.5"/>
<line x1="102.1" y1="318.3" x2="102.1" y2="319.8" stroke="#888" stroke-width="0.5"/>
<clipPath id="c5"><rect x="36.0" y="246.70000000000002" width="70.50000000000001" height="71.2"/></clipPath>
<g clip-path="url(#c5)">
<path d="M47.1 276.1h.01M53.7 278.7h.01M55.9 288.8h.01M50.6 292.2h.01M54.2 268.5h.01M54.3 289.2h.01M53.3 298.2h.01M51.2 300.4h.01M47.5 299.0h.01M56.4 262.9h.01M53.3 291.1h.01M55.3 287.9h.01M49.5 278.6h.01M50.8 278.2h.01M53.9 279.7h.01M50.0 261.0h.01M56.7 282.7h.01M56.4 273.3h.01M45.0 276.5h.01M55.9 266.9h.01M51.8 283.6h.01M54.1 270.4h.01M55.3 264.8h.01M57.5 268.4h.01M49.6 287.9h.01M56.6 281.6h.01M45.9 283.9h.01M55.1 278.3h.01M57.5 286.2h.01M51.9 276.4h.01M55.6 298.3h.01M51.8 286.4h.01M52.2 273.7h.01M54.5 288.4h.01M42.6 302.5h.01M56.7 292.5h.01M53.6 303.3h.01M49.5 274.4h.01M53.4 305.3h.01M52.9 260.0h.01M50.3 285.0h.01M55.7 286.2h.01M49.0 286.4h.01M56.4 283.1h.01M53.1 293.1h.01M53.9 277.8h.01M54.9 290.8h.01M56.9 277.2h.01M47.9 275.5h.01M55.4 301.2h.01M51.6 297.1h.01M56.4 279.4h.01M45.2 300.1h.01M55.9 296.3h.01M52.7 276.6h.01M54.0 260.9h.01M54.3 288.8h.01M55.0 299.9h.01M50.4 292.4h.01M56.7 279.4h.01M49.4 277.5h.01M52.9 285.6h.01M50.1 292.6h.01M55.6 282.5h.01M52.0 273.7h.01M56.6 301.9h.01M41.9 298.4h.01M54.0 293.7h.01M52.9 283.4h.01M49.4 295.4h.01M51.8 305.9h.01M57.0 288.4h.01M52.0 270.2h.01M55.8 259.7h.01M54.1 287.7h.01M49.3 265.7h.01M50.2 284.9h.01M53.2 263.1h.01M53.0 286.5h.01M49.6 286.3h.01M51.7 277.3h.01M57.3 302.9h.01M55.7 270.7h.01M46.5 304.3h.01M49.0 290.5h.01M47.5 285.6h.01M55.9 281.3h.01M57.3 283.8h.01M54.9 283.5h.01M48.7 278.6h.01M44.7 301.7h.01M51.5 298.3h.01M52.1 279.0h.01M56.1 280.7h.01M56.0 295.2h.01M48.7 264.7h.01M51.1 293.6h.01M51.1 289.7h.01M55.1 274.1h.01M52.6 263.3h.01M54.4 292.9h.01M54.9 286.6h.01M56.2 280.7h.01M53.8 285.6h.01M56.6 283.7h.01M48.3 295.1h.01M56.7 295.1h.01M47.9 282.6h.01M47.2 278.8h.01M53.2 295.3h.01M55.7 258.7h.01M51.2 275.2h.01M54.1 279.5h.01M57.2 285.3h.01M54.3 258.2h.01M53.4 275.2h.01M53.3 274.7h.01M51.2 276.1h.01M55.6 290.4h.01M55.4 299.8h.01M50.2 277.7h.01M51.5 266.9h.01M57.1 268.0h.01M56.7 274.5h.01M54.5 275.3h.01M53.4 288.9h.01M56.2 295.3h.01M51.8 289.3h.01M55.5 284.6h.01M55.6 282.1h.01M52.6 284.7h.01M53.6 279.2h.01M53.0 300.9h.01M52.6 263.3h.01M52.3 272.0h.01M56.9 283.1h.01M56.4 272.9h.01M54.0 290.3h.01M49.1 271.9h.01M56.5 296.6h.01M57.1 289.4h.01M54.7 303.1h.01M51.9 268.1h.01M57.3 286.8h.01M54.8 276.7h.01M57.3 301.7h.01M54.8 281.4h.01M54.3 278.4h.01M56.6 271.0h.01M50.6 272.2h.01M51.7 291.6h.01M46.4 274.8h.01M48.0 276.3h.01M57.4 301.0h.01M52.5 286.0h.01M56.7 271.6h.01M54.5 265.2h.01M48.7 292.4h.01M55.3 304.2h.01M43.7 283.0h.01M51.4 286.6h.01M51.6 279.4h.01M51.5 286.8h.01M49.6 282.0h.01M53.9 287.2h.01M53.3 292.6h.01M55.7 264.5h.01M56.2 280.5h.01M52.4 293.1h.01M49.7 289.3h.01M47.9 266.2h.01M55.3 285.5h.01M54.3 279.3h.01M55.8 267.5h.01M53.4 272.4h.01M56.7 293.7h.01M41.4 285.5h.01M56.6 276.3h.01M48.2 295.4h.01M50.1 303.5h.01M45.2 287.6h.01M52.0 283.6h.01M50.2 284.1h.01M48.9 280.8h.01M54.6 279.3h.01M56.2 290.1h.01M49.1 280.5h.01M50.3 286.2h.01M51.7 279.0h.01M52.2 285.6h.01M53.7 284.1h.01M50.0 286.9h.01M56.7 272.6h.01M45.5 297.8h.01M56.2 286.6h.01M50.9 300.8h.01M53.7 280.3h.01M51.0 274.2h.01M51.4 307.0h.01M55.1 274.9h.01M57.3 285.0h.01M55.4 303.3h.01M39.1 290.4h.01M53.9 277.6h.01M56.6 289.7h.01M50.4 268.6h.01M56.5 280.3h.01M55.7 293.7h.01M49.4 274.2h.01M49.3 265.1h.01M53.5 281.2h.01M57.3 303.5h.01M51.3 277.9h.01M56.5 301.3h.01M49.7 289.9h.01M53.4 297.3h.01M55.8 279.0h.01M51.5 281.4h.01M48.2 265.8h.01M48.8 286.3h.01M55.0 293.2h.01M49.6 280.8h.01M51.1 282.0h.01M56.0 287.8h.01M55.2 279.5h.01M53.1 295.8h.01M54.7 273.9h.01M50.0 301.8h.01M53.1 264.0h.01M55.9 285.8h.01M51.7 266.9h.01M51.8 280.7h.01M44.1 289.8h.01M55.7 282.1h.01M53.9 289.9h.01M51.6 269.5h.01M44.2 287.2h.01M56.2 275.6h.01M49.8 269.5h.01M54.6 282.0h.01M46.6 290.5h.01M54.7 279.3h.01M53.0 279.5h.01M56.8 276.0h.01M46.8 288.2h.01M54.4 289.0h.01M43.9 268.9h.01M48.1 261.3h.01M56.2 276.1h.01M45.1 274.1h.01M51.4 282.6h.01M51.7 261.9h.01M52.0 285.0h.01M48.8 293.4h.01M56.4 290.7h.01M48.4 284.2h.01M56.6 269.3h.01M51.7 270.1h.01M52.8 266.3h.01M47.8 280.4h.01M50.9 282.7h.01M55.0 281.0h.01M55.1 285.4h.01M54.3 274.8h.01M49.2 266.9h.01M47.6 275.3h.01M51.8 289.6h.01M53.6 266.0h.01M45.7 273.3h.01M53.5 264.9h.01M52.0 282.2h.01M57.3 304.0h.01M55.0 299.8h.01M53.3 291.1h.01M52.9 270.2h.01M49.6 291.3h.01M45.7 276.9h.01M51.5 264.5h.01M42.2 288.9h.01M55.8 273.2h.01M46.7 273.8h.01M54.4 273.8h.01M53.6 293.3h.01M55.0 287.3h.01M48.2 301.0h.01M48.8 277.7h.01M50.6 288.1h.01M50.1 279.3h.01M46.7 280.9h.01M54.3 284.2h.01M57.2 279.0h.01M54.3 275.2h.01M55.6 297.7h.01M56.2 266.0h.01M51.4 289.5h.01M51.8 280.4h.01M51.1 301.3h.01M54.3 297.2h.01M53.4 298.9h.01M54.5 303.9h.01M49.1 294.4h.01M54.5 298.0h.01M48.2 273.6h.01M52.8 269.0h.01M56.4 293.2h.01M57.2 289.6h.01M53.2 264.1h.01M53.5 267.8h.01M50.1 268.3h.01M53.9 284.4h.01M50.8 297.3h.01M51.7 295.0h.01M55.9 292.3h.01M43.0 279.8h.01M50.6 268.1h.01M51.0 288.1h.01M55.6 289.6h.01M52.3 276.4h.01M52.0 266.7h.01M55.0 287.4h.01M49.7 283.5h.01M57.5 272.8h.01M57.2 271.7h.01M55.1 279.1h.01M53.5 282.1h.01M43.8 288.0h.01M50.9 294.1h.01M50.6 290.5h.01M51.8 275.4h.01M55.3 291.4h.01M50.9 296.1h.01M52.7 278.8h.01M57.1 282.3h.01M52.6 266.6h.01M45.8 284.1h.01M52.4 283.6h.01M54.3 285.3h.01M52.8 276.9h.01M55.0 273.2h.01M53.3 262.7h.01M53.8 303.8h.01M47.2 301.1h.01M52.7 275.1h.01M51.0 286.2h.01M45.7 274.5h.01M56.8 282.5h.01M53.7 283.5h.01M57.2 276.6h.01M53.7 268.1h.01M50.6 271.2h.01M50.4 277.9h.01M49.2 294.1h.01M51.3 278.3h.01M45.6 274.5h.01M45.8 285.7h.01M47.7 279.8h.01M51.8 286.0h.01M52.8 287.2h.01M47.9 284.5h.01M51.1 298.9h.01M55.2 282.1h.01M43.4 271.3h.01M56.5 287.3h.01M56.8 290.3h.01M52.8 281.4h.01M52.4 285.7h.01M53.9 277.8h.01M48.5 279.3h.01M52.9 305.1h.01M47.5 260.1h.01M53.4 276.0h.01M56.7 277.0h.01M52.3 288.1h.01M45.7 288.2h.01M48.0 272.9h.01M56.4 270.0h.01M52.3 272.1h.01M49.7 285.0h.01M54.4 274.1h.01M57.4 280.8h.01M54.6 286.9h.01M51.3 284.5h.01M55.6 264.6h.01M52.9 280.5h.01M54.4 291.5h.01M52.0 304.9h.01M47.3 269.5h.01M48.7 281.0h.01M56.6 305.1h.01M49.1 295.3h.01M53.5 277.8h.01M53.3 305.8h.01M48.1 275.3h.01M53.2 297.0h.01M47.4 285.6h.01M55.6 302.0h.01M55.8 292.2h.01M49.0 305.4h.01M55.6 270.2h.01M55.4 281.3h.01M48.3 282.7h.01M54.6 277.9h.01M53.3 304.3h.01M53.7 266.5h.01M48.4 271.1h.01M53.5 268.7h.01M49.8 282.1h.01M56.9 293.4h.01M53.4 260.3h.01M49.2 280.8h.01M55.7 280.4h.01M43.1 295.7h.01M56.6 278.5h.01M43.9 293.3h.01M48.4 275.7h.01M56.4 282.9h.01M55.8 289.1h.01M53.4 298.7h.01M54.3 269.3h.01M55.6 262.7h.01M55.1 282.4h.01M57.3 269.5h.01M40.4 269.8h.01M52.2 272.0h.01M52.0 288.2h.01M54.8 273.2h.01M45.9 280.9h.01M55.1 277.2h.01M51.9 283.6h.01M51.9 272.5h.01M49.8 287.1h.01M46.7 265.4h.01M55.2 293.8h.01M57.0 288.7h.01M55.4 287.3h.01M56.0 299.7h.01M48.2 285.8h.01M54.9 287.7h.01M57.4 284.3h.01M54.2 275.3h.01M52.1 262.6h.01M56.7 299.0h.01M50.6 265.2h.01M54.7 278.3h.01M49.1 280.1h.01M47.3 283.2h.01M51.9 279.5h.01M52.4 280.9h.01M50.1 272.1h.01M50.0 286.4h.01M46.9 279.4h.01M54.9 275.1h.01M55.7 295.0h.01M52.3 295.8h.01M55.5 267.6h.01M54.8 289.6h.01M52.6 295.5h.01M54.3 289.9h.01M53.3 283.2h.01M52.9 269.3h.01M56.2 304.8h.01M55.5 284.9h.01M55.3 305.1h.01M52.3 266.5h.01M43.1 301.5h.01M56.0 272.6h.01M56.1 286.2h.01M54.0 280.0h.01M57.2 290.6h.01M49.1 300.4h.01M47.0 274.7h.01M55.2 285.8h.01M47.2 280.9h.01M57.3 293.5h.01M55.1 273.7h.01M55.8 277.8h.01M52.1 284.4h.01M56.8 258.2h.01M54.6 272.9h.01M55.8 280.1h.01M51.9 295.9h.01M52.3 267.4h.01M56.7 264.7h.01M52.0 289.0h.01M53.1 288.5h.01M52.7 305.0h.01M47.5 279.5h.01M57.0 267.4h.01M50.1 268.2h.01M54.6 288.1h.01M51.2 275.5h.01M56.2 262.5h.01M56.1 274.0h.01M53.2 276.4h.01M54.9 260.0h.01M55.8 299.3h.01M56.8 260.7h.01M56.1 279.6h.01M51.5 268.9h.01M56.7 274.8h.01M54.0 290.6h.01M48.9 293.5h.01M56.0 281.8h.01M55.0 283.6h.01M49.7 279.0h.01M53.6 268.3h.01M54.1 262.3h.01M55.8 298.1h.01M51.0 279.6h.01M53.9 279.4h.01M42.6 303.1h.01M51.0 292.5h.01M55.6 267.4h.01M55.2 272.3h.01M55.3 280.2h.01M57.1 290.7h.01M50.9 301.7h.01M46.3 291.5h.01M50.6 261.2h.01M57.3 287.0h.01M49.0 279.0h.01M54.7 273.3h.01M43.5 265.7h.01M51.0 287.7h.01M53.4 283.6h.01M49.1 305.3h.01M45.8 269.6h.01M52.3 285.6h.01M51.9 276.9h.01M56.7 278.1h.01M52.9 271.7h.01M50.3 291.0h.01M52.8 278.1h.01M57.5 265.2h.01M50.3 265.8h.01M53.4 279.6h.01M54.2 283.4h.01M54.0 287.5h.01M54.3 284.1h.01M53.1 275.3h.01M56.8 280.9h.01M54.5 262.7h.01M50.6 283.3h.01M51.3 280.0h.01M46.0 282.1h.01M43.6 292.8h.01M53.6 282.2h.01M56.1 263.9h.01M38.5 289.3h.01M57.2 268.9h.01M56.9 280.7h.01M56.3 294.9h.01M57.4 276.3h.01M56.5 289.5h.01M56.4 306.4h.01M53.6 278.4h.01M55.6 287.4h.01M42.9 288.6h.01M55.9 291.8h.01M51.2 267.5h.01M47.1 279.0h.01M51.6 279.6h.01M47.0 294.0h.01M49.9 272.3h.01M54.7 288.0h.01M49.3 266.5h.01M53.0 276.0h.01M53.4 284.3h.01M52.2 277.7h.01M49.6 265.1h.01M50.7 286.8h.01M50.4 302.3h.01M55.1 271.9h.01M56.8 268.8h.01M52.2 304.9h.01M55.2 296.4h.01M49.7 278.7h.01M55.5 287.1h.01M50.4 264.5h.01M54.2 267.8h.01M56.6 279.8h.01M56.7 284.1h.01M50.0 275.9h.01M56.9 300.1h.01M57.4 282.1h.01M49.5 281.0h.01M51.1 293.6h.01M56.4 276.9h.01M49.5 277.3h.01M55.0 268.6h.01M49.3 266.9h.01M50.2 297.4h.01M50.1 279.2h.01M54.8 296.6h.01M54.3 274.9h.01M55.3 266.6h.01M54.0 279.2h.01M54.8 282.9h.01M56.1 295.6h.01M54.1 274.5h.01M51.9 283.1h.01M48.7 272.9h.01M47.4 279.2h.01M54.4 277.6h.01M52.7 267.6h.01M50.0 305.5h.01M56.9 303.6h.01M50.6 287.5h.01M51.0 282.2h.01M57.0 304.8h.01M54.8 278.4h.01M55.1 294.2h.01M51.6 275.2h.01M54.4 304.0h.01M55.0 289.5h.01M51.5 287.9h.01M54.3 275.7h.01M47.7 262.1h.01M53.1 257.9h.01M57.3 269.3h.01M52.9 292.0h.01M53.6 290.0h.01M51.8 286.6h.01M46.0 287.7h.01M51.6 291.2h.01M56.3 258.6h.01M55.5 283.2h.01M51.2 279.6h.01M53.2 266.6h.01M56.4 264.9h.01M47.3 271.7h.01M50.1 282.6h.01M47.6 284.4h.01M55.6 268.5h.01M56.8 267.6h.01M53.7 269.0h.01M56.9 267.5h.01M52.7 294.9h.01M54.9 279.6h.01M44.5 272.3h.01M39.7 259.1h.01M54.6 258.4h.01M56.1 266.3h.01M57.2 299.3h.01M51.1 280.7h.01M50.3 283.1h.01M50.9 295.7h.01M48.1 272.5h.01M53.5 303.4h.01M49.8 301.1h.01M48.5 282.9h.01M48.6 278.6h.01M49.5 297.3h.01M51.6 288.9h.01M53.1 294.9h.01M57.1 277.7h.01M49.1 274.2h.01M53.3 306.3h.01M52.3 282.1h.01M52.5 269.3h.01M53.9 274.6h.01M53.0 277.6h.01M51.5 278.5h.01M55.3 306.5h.01M50.5 301.0h.01M56.0 267.4h.01M49.5 275.7h.01M53.4 264.6h.01M56.6 280.9h.01M46.5 300.0h.01M50.2 292.3h.01M57.3 275.0h.01M56.0 286.1h.01M43.9 275.6h.01M50.8 297.3h.01M51.3 299.7h.01M56.9 285.6h.01M48.7 270.4h.01M57.1 285.5h.01M55.1 277.2h.01M49.6 306.7h.01M51.5 266.9h.01M48.4 280.5h.01M50.8 282.3h.01M49.5 294.6h.01M51.2 288.2h.01M57.2 295.6h.01M56.8 272.6h.01M51.8 283.7h.01M48.1 269.8h.01M54.4 272.5h.01M56.5 294.7h.01M51.5 292.3h.01M53.3 288.1h.01M54.3 282.4h.01M53.7 265.2h.01M55.9 270.3h.01M56.0 302.2h.01M54.9 264.8h.01M54.7 286.6h.01M47.6 273.3h.01M53.7 266.5h.01M57.4 267.1h.01M53.2 298.8h.01M51.1 273.5h.01M49.5 281.4h.01M55.2 280.6h.01M48.0 273.4h.01M55.5 261.1h.01M54.4 289.8h.01M53.6 274.0h.01M50.4 286.6h.01M55.9 288.6h.01M53.4 287.3h.01M53.0 284.0h.01M55.1 287.2h.01M50.9 261.6h.01M45.1 285.4h.01M45.9 279.8h.01M53.1 289.9h.01M54.2 295.0h.01M53.8 284.9h.01M53.1 291.3h.01M52.5 275.1h.01M50.3 298.1h.01M55.0 260.3h.01M56.3 272.2h.01M53.6 280.1h.01M53.0 286.1h.01M49.6 291.1h.01M55.5 284.9h.01M52.0 262.3h.01M50.4 260.4h.01M57.2 275.0h.01M53.2 272.1h.01M49.9 283.6h.01M44.6 266.7h.01M54.5 280.7h.01M57.4 303.4h.01M53.1 294.2h.01M55.9 265.7h.01M41.2 272.2h.01M54.1 273.7h.01M56.2 259.2h.01M46.4 286.7h.01M54.6 268.3h.01M53.9 274.2h.01M51.4 268.4h.01M53.5 275.6h.01M46.2 286.1h.01M53.1 274.4h.01M50.5 280.7h.01M54.5 297.9h.01M57.5 294.4h.01M47.4 278.7h.01M45.9 280.9h.01M54.7 275.0h.01M57.4 279.0h.01M50.5 292.6h.01M53.9 277.7h.01M53.4 294.4h.01M54.9 273.1h.01M44.8 290.0h.01M49.8 286.4h.01M57.3 276.3h.01M52.3 274.4h.01M56.3 258.3h.01M53.4 286.3h.01M56.7 258.8h.01M48.1 272.3h.01M43.9 262.1h.01M52.0 294.1h.01M48.0 267.9h.01M46.4 298.1h.01M57.3 299.8h.01M55.6 286.5h.01M49.4 273.1h.01M48.6 298.3h.01M48.4 275.5h.01M51.8 273.7h.01M55.2 295.2h.01M46.1 277.7h.01M52.7 264.3h.01M51.7 290.1h.01M49.2 295.3h.01M48.3 290.4h.01M52.9 288.0h.01M54.6 279.1h.01M55.8 297.2h.01M48.9 293.8h.01M54.9 295.7h.01M52.2 281.7h.01M48.2 292.7h.01M54.2 281.9h.01M52.1 297.8h.01M56.6 296.8h.01M51.4 276.8h.01M50.9 277.7h.01M48.4 259.9h.01M55.2 286.8h.01M48.9 267.4h.01M52.5 290.5h.01M53.5 263.9h.01M51.6 301.2h.01M56.6 275.0h.01M53.0 271.7h.01M54.5 270.2h.01M54.6 258.6h.01M55.7 305.8h.01M50.4 283.1h.01M55.9 265.4h.01M41.5 273.0h.01M54.3 281.0h.01M52.4 276.2h.01M51.7 293.4h.01M55.2 290.9h.01M52.4 263.7h.01M55.0 296.0h.01M44.8 284.0h.01M53.1 273.9h.01M52.5 294.8h.01M54.0 282.7h.01M50.0 303.5h.01M51.3 288.0h.01M55.0 278.7h.01M51.3 263.7h.01M51.3 279.4h.01M51.1 277.1h.01M53.0 296.5h.01M49.1 304.5h.01M50.7 298.8h.01M51.7 276.4h.01M44.6 271.1h.01M49.4 273.6h.01M51.2 265.3h.01M53.1 306.0h.01M51.5 279.8h.01M54.3 268.1h.01M53.4 267.9h.01M54.4 282.0h.01M51.2 272.6h.01M56.4 279.1h.01M52.8 288.7h.01M52.2 273.2h.01M47.3 262.1h.01M53.8 285.9h.01M50.5 285.2h.01M49.3 285.3h.01M57.3 303.3h.01M56.3 285.6h.01M57.5 270.7h.01M56.3 278.8h.01M47.3 266.8h.01M51.2 266.9h.01M47.4 294.6h.01M51.3 279.1h.01M50.1 282.4h.01M56.3 274.1h.01M48.1 281.2h.01M51.4 279.1h.01M47.8 278.3h.01M50.2 298.1h.01M54.3 267.4h.01M47.9 286.9h.01M52.7 276.0h.01M52.8 285.7h.01M54.6 257.8h.01M54.9 274.6h.01M44.5 271.8h.01M55.5 287.2h.01M53.8 260.7h.01M51.8 268.7h.01M44.8 291.4h.01M54.0 287.8h.01M53.2 285.4h.01M50.0 282.8h.01M49.1 299.1h.01M57.0 293.9h.01M55.3 270.1h.01M51.1 291.1h.01M56.6 284.9h.01M48.1 291.0h.01M43.3 270.9h.01M55.6 297.2h.01M56.0 268.9h.01M51.1 290.0h.01M42.2 295.3h.01M53.7 299.5h.01M53.2 271.1h.01M52.3 270.6h.01M55.0 262.6h.01M54.3 267.9h.01M55.6 284.3h.01M56.8 263.8h.01M47.9 284.9h.01M55.7 277.8h.01M52.0 289.5h.01M47.8 292.4h.01M47.9 287.7h.01M47.5 279.9h.01M49.1 282.7h.01M45.3 298.8h.01M53.7 279.5h.01M45.0 268.2h.01M55.8 305.7h.01M54.6 301.8h.01M56.2 278.2h.01M56.2 294.8h.01M47.9 273.7h.01M56.9 287.1h.01M56.9 303.1h.01M48.8 296.6h.01M55.3 267.8h.01M53.5 277.5h.01M50.2 268.3h.01M56.7 304.1h.01M44.8 272.0h.01M54.2 272.9h.01M55.2 261.4h.01M50.2 297.9h.01M56.5 259.4h.01M54.1 290.1h.01M56.2 299.4h.01M55.9 279.1h.01M51.9 272.1h.01M55.0 270.8h.01M52.4 283.4h.01M53.1 291.3h.01M53.2 279.9h.01M47.0 298.1h.01M52.2 266.7h.01M50.4 299.3h.01M57.3 302.2h.01M53.5 286.1h.01M56.5 272.5h.01M50.7 288.4h.01M56.8 289.9h.01M54.3 268.4h.01M51.4 276.5h.01M55.7 290.9h.01M56.4 266.1h.01M56.2 278.3h.01M53.9 284.6h.01M56.0 285.1h.01M49.6 278.0h.01M57.0 293.3h.01M53.9 275.2h.01M53.6 285.8h.01M52.1 276.6h.01M52.1 277.7h.01M56.1 306.1h.01M52.8 276.6h.01M49.3 286.3h.01M53.6 301.2h.01M54.5 280.8h.01M49.9 270.4h.01M56.3 274.6h.01M47.8 266.7h.01M50.7 277.0h.01M47.3 275.4h.01M56.1 285.4h.01M55.4 272.4h.01M56.5 271.4h.01M52.9 263.8h.01M52.9 294.1h.01M47.5 300.9h.01M54.2 304.5h.01M52.1 277.0h.01M54.9 291.3h.01M53.6 260.0h.01M54.3 287.6h.01M52.1 274.3h.01M48.8 275.2h.01M47.2 294.7h.01M49.1 298.2h.01M45.6 267.0h.01M50.8 288.6h.01M52.0 276.6h.01M48.3 306.2h.01M55.4 289.0h.01M54.6 291.6h.01M56.7 282.0h.01M54.8 280.8h.01M54.9 280.8h.01M48.9 286.0h.01M52.5 279.4h.01M50.8 277.8h.01M56.7 273.1h.01M56.8 298.2h.01M40.7 269.4h.01M55.8 283.1h.01M47.9 301.9h.01M47.9 265.2h.01M52.7 300.1h.01M51.7 276.6h.01M51.1 262.3h.01M52.7 261.6h.01M49.8 297.8h.01M53.7 290.8h.01M54.5 295.8h.01M43.8 302.4h.01M49.5 278.9h.01M50.7 293.1h.01M51.2 280.9h.01M57.4 291.5h.01M53.7 278.7h.01M56.2 265.6h.01M52.1 270.8h.01M55.2 306.8h.01M53.5 289.8h.01M51.3 290.5h.01M52.1 258.3h.01M48.0 260.2h.01M54.4 285.4h.01M54.7 278.5h.01M46.4 281.5h.01M49.9 292.7h.01M55.3 259.5h.01M51.7 287.5h.01M52.0 270.1h.01M49.4 270.6h.01M50.0 283.9h.01M52.4 264.6h.01M41.9 283.4h.01M54.9 290.9h.01M51.3 290.0h.01M52.4 286.8h.01M49.3 284.4h.01M55.1 272.4h.01M56.0 286.2h.01M48.3 286.0h.01M50.1 292.5h.01M54.8 279.2h.01M52.2 285.9h.01M56.5 267.1h.01M53.6 257.2h.01M47.2 300.4h.01M55.1 284.1h.01M55.4 275.9h.01M54.8 296.6h.01M54.8 282.4h.01M55.9 285.8h.01M45.1 266.9h.01M51.3 274.4h.01M56.4 287.5h.01M54.2 298.1h.01M53.4 274.1h.01M51.4 281.4h.01M45.4 296.2h.01M57.2 270.3h.01M50.9 299.7h.01M56.9 288.7h.01M55.8 259.1h.01M50.1 288.6h.01M53.3 293.7h.01M53.9 272.6h.01M56.6 272.3h.01M46.2 284.2h.01M57.3 271.9h.01M49.1 284.2h.01M55.6 259.8h.01M49.6 288.4h.01M51.3 279.6h.01M56.8 266.1h.01M57.5 281.1h.01M57.5 257.9h.01M53.3 294.4h.01M53.2 272.2h.01M55.8 272.4h.01M56.7 261.3h.01M49.2 286.5h.01M52.1 277.0h.01M53.6 265.6h.01M49.6 296.4h.01M55.9 267.2h.01M55.7 286.5h.01M57.0 266.4h.01M54.7 285.0h.01M44.9 283.0h.01M54.5 306.4h.01M56.4 260.0h.01M52.8 275.6h.01M52.9 264.3h.01M52.6 272.3h.01M54.2 275.0h.01M46.9 288.2h.01M57.3 298.5h.01M51.7 273.4h.01M53.3 288.9h.01M55.1 288.5h.01M51.7 292.8h.01M44.6 304.9h.01M55.0 265.7h.01M53.0 288.4h.01M54.4 276.5h.01M52.8 283.4h.01M52.2 273.8h.01M51.4 259.4h.01M51.8 290.3h.01M49.2 263.2h.01M48.5 276.5h.01M53.6 294.6h.01M54.9 265.0h.01M49.8 289.4h.01M55.1 290.7h.01M48.0 278.4h.01M50.0 279.1h.01M53.4 268.3h.01M54.3 268.1h.01M52.2 290.1h.01M50.7 275.4h.01M40.4 272.9h.01M55.8 289.2h.01M56.9 275.3h.01M54.8 273.4h.01M55.5 277.2h.01M50.3 280.4h.01M57.2 305.2h.01M51.6 293.0h.01M54.6 291.9h.01M54.7 293.3h.01M51.2 295.3h.01M51.3 306.8h.01M55.2 279.1h.01M50.2 298.2h.01M43.9 272.0h.01M56.3 281.4h.01M56.7 275.9h.01M50.4 282.0h.01M56.9 271.6h.01M55.0 281.5h.01M55.3 294.2h.01M45.7 291.5h.01M55.4 278.9h.01M54.1 275.8h.01M56.7 286.6h.01M54.5 301.2h.01M53.6 271.8h.01M51.3 280.7h.01M53.8 278.5h.01M55.9 281.8h.01M52.8 278.8h.01M52.2 286.0h.01M50.3 261.8h.01M49.7 287.2h.01M53.4 291.9h.01M42.0 279.9h.01M52.9 300.2h.01M55.2 305.8h.01M51.5 282.3h.01M55.5 282.5h.01M55.3 278.4h.01M49.9 271.5h.01M55.2 259.5h.01M54.5 281.8h.01M56.2 275.1h.01M52.2 277.4h.01M49.9 265.3h.01M50.7 270.0h.01M57.3 278.1h.01M53.4 289.3h.01M51.7 273.4h.01M55.0 266.4h.01M50.1 299.4h.01M56.7 279.5h.01M56.2 304.9h.01M53.5 286.2h.01M56.2 297.8h.01M53.9 268.8h.01M55.7 300.3h.01M55.9 299.2h.01M48.5 305.8h.01M55.2 276.5h.01M52.7 281.1h.01M47.2 283.9h.01M42.3 267.5h.01M45.0 275.0h.01M47.3 263.8h.01M53.0 296.3h.01M49.0 303.0h.01M52.4 268.0h.01M52.7 287.6h.01M53.9 287.4h.01M56.2 282.0h.01M54.4 289.1h.01M54.6 278.2h.01M57.1 288.1h.01M51.2 279.8h.01M53.5 282.0h.01M52.2 296.1h.01M51.9 275.3h.01M51.3 261.8h.01M55.2 286.5h.01M45.0 292.2h.01M49.2 275.3h.01M56.7 260.7h.01M54.3 262.8h.01M54.4 290.0h.01M54.6 275.9h.01M51.8 282.4h.01M49.8 294.7h.01M51.2 266.5h.01M50.3 267.9h.01M55.0 278.8h.01M57.4 297.7h.01M53.1 287.2h.01M53.5 286.2h.01M56.8 279.8h.01M51.6 289.3h.01M46.7 296.6h.01M55.0 262.8h.01M47.8 280.3h.01M44.8 258.0h.01M56.2 265.8h.01M50.7 294.4h.01M52.8 278.8h.01M41.8 277.2h.01M57.4 280.5h.01M54.7 292.5h.01M56.3 272.1h.01M54.6 306.9h.01M52.3 301.6h.01M48.3 257.3h.01M55.9 276.7h.01M55.8 267.3h.01M53.5 270.1h.01M55.9 270.2h.01M51.6 266.0h.01M56.8 287.9h.01M54.3 293.1h.01M54.6 281.4h.01M55.5 285.5h.01M56.3 271.7h.01M54.9 272.9h.01M55.2 279.3h.01M47.3 289.8h.01M57.3 269.0h.01M53.2 273.8h.01M55.3 269.9h.01M48.6 293.3h.01M57.3 274.7h.01M56.8 259.7h.01M56.6 299.5h.01M52.7 275.1h.01M57.0 272.0h.01M48.6 290.1h.01M57.4 303.8h.01M54.7 284.8h.01M50.7 271.6h.01M52.6 289.8h.01M47.0 271.2h.01M53.1 276.7h.01M56.2 283.8h.01M57.0 283.5h.01M51.5 301.3h.01M51.4 279.4h.01M52.0 280.2h.01M49.9 283.2h.01M55.8 289.5h.01M47.7 295.3h.01M54.2 298.4h.01M46.5 290.8h.01M51.2 269.0h.01M45.1 279.1h.01M54.3 288.3h.01M47.3 272.9h.01M49.9 287.2h.01M51.3 289.3h.01M47.4 294.9h.01M52.9 286.6h.01M51.6 283.8h.01M51.7 299.1h.01M55.2 289.0h.01M54.0 262.2h.01M49.8 270.6h.01M56.8 286.4h.01M56.6 279.6h.01M55.9 297.2h.01M53.5 259.9h.01M55.5 293.2h.01M50.6 274.1h.01M57.2 293.4h.01M54.6 301.1h.01M55.2 271.5h.01M51.4 291.6h.01M53.9 288.6h.01M50.7 264.9h.01M52.0 268.2h.01M50.4 278.6h.01M55.6 296.6h.01M56.9 274.7h.01M52.6 275.0h.01M56.4 294.7h.01M50.1 295.1h.01M47.4 298.4h.01M47.5 292.3h.01M52.8 289.1h.01M54.9 264.0h.01M53.4 292.2h.01M45.2 300.8h.01" stroke="#000" stroke-width="0.65" stroke-linecap="square" fill="none" opacity="0.88"/>
<path d="M38.8 264.0h.01M38.4 270.5h.01M41.8 274.4h.01M42.4 257.7h.01M40.8 280.4h.01M36.8 279.1h.01M48.7 287.4h.01M49.2 297.3h.01M42.9 257.0h.01M36.8 283.7h.01M47.8 271.9h.01M37.8 292.4h.01M43.5 278.5h.01M37.8 282.6h.01M44.0 290.1h.01M48.6 259.6h.01M47.6 271.4h.01M41.8 272.5h.01M47.3 277.2h.01M37.0 278.8h.01M38.1 256.8h.01M36.7 274.3h.01M42.3 256.0h.01M37.9 299.3h.01M43.6 303.0h.01M43.6 301.8h.01M45.7 274.6h.01M36.7 263.1h.01M47.1 287.8h.01M40.2 263.8h.01M45.0 300.6h.01M39.5 303.9h.01M43.5 266.0h.01M38.6 290.2h.01M49.0 265.8h.01M39.3 262.9h.01M38.9 266.8h.01M41.8 267.4h.01M45.3 267.5h.01M39.7 276.1h.01M38.4 258.5h.01M37.3 256.2h.01M45.4 258.4h.01M42.7 298.7h.01M44.6 270.7h.01M41.6 276.5h.01M40.5 258.6h.01M38.2 262.9h.01M38.9 271.9h.01M37.4 285.6h.01M38.8 280.5h.01M45.7 279.9h.01M46.4 293.4h.01M42.3 266.2h.01M36.6 289.3h.01M41.1 270.0h.01M37.2 264.6h.01M48.5 278.7h.01M47.9 296.5h.01M39.5 266.8h.01M48.4 267.4h.01M44.4 301.0h.01M42.5 276.4h.01M49.4 297.4h.01M49.0 289.9h.01M39.1 258.3h.01M36.3 300.3h.01M43.6 298.4h.01M49.4 267.4h.01M49.6 269.1h.01M38.5 269.1h.01M49.9 301.1h.01M40.9 279.1h.01M47.5 294.6h.01M48.6 273.4h.01M39.3 280.6h.01M49.1 285.4h.01M48.2 265.4h.01M43.1 300.0h.01M44.0 294.1h.01M47.3 277.2h.01M45.7 289.2h.01M42.2 281.0h.01M47.3 298.3h.01M49.8 273.6h.01M45.5 282.4h.01M47.9 267.5h.01M42.5 268.3h.01M47.2 290.1h.01M36.1 261.2h.01M38.0 284.4h.01M46.9 272.5h.01M37.1 284.1h.01M44.6 276.7h.01M39.8 272.6h.01M39.3 295.0h.01M41.3 290.2h.01M43.7 267.0h.01M39.9 288.2h.01M48.1 300.0h.01M38.2 268.4h.01M37.4 265.1h.01M41.4 290.5h.01M48.8 284.4h.01M38.0 274.1h.01M38.0 269.4h.01M44.0 280.1h.01M38.4 269.3h.01M48.5 286.3h.01M44.4 271.5h.01M40.2 292.6h.01M36.2 287.4h.01M49.4 286.5h.01M36.7 257.6h.01M47.0 264.9h.01M41.9 287.3h.01M45.5 269.8h.01M45.6 299.9h.01M42.6 275.0h.01M45.6 297.9h.01M45.6 300.5h.01M46.9 301.9h.01M39.5 288.3h.01M38.9 261.6h.01M40.8 301.4h.01M40.1 270.8h.01M49.0 303.1h.01M46.6 272.9h.01M47.5 259.1h.01M36.1 259.0h.01M40.7 267.6h.01M48.0 277.4h.01M47.9 279.4h.01M41.2 272.3h.01M36.7 277.8h.01M49.3 302.6h.01M49.0 260.7h.01M42.2 296.0h.01M38.2 259.1h.01M38.9 260.0h.01" stroke="#111" stroke-width="0.6" stroke-linecap="square" fill="none" opacity="0.8"/>
<path d="M88.0 259.1h.01M41.4 255.4h.01M85.4 260.6h.01M43.3 259.3h.01M104.1 260.5h.01M50.6 259.7h.01M82.5 261.2h.01M48.1 261.9h.01M44.2 258.2h.01M95.2 260.5h.01M38.3 259.9h.01M75.3 260.8h.01M49.2 258.1h.01M81.8 264.2h.01M83.1 259.4h.01M84.2 259.6h.01M103.5 263.1h.01M61.2 262.0h.01M51.6 258.4h.01M49.3 257.6h.01M51.3 259.1h.01M72.2 260.3h.01M104.8 262.1h.01M51.6 260.6h.01M49.2 256.8h.01M69.7 258.1h.01M75.7 259.2h.01M103.3 257.1h.01M60.5 262.0h.01M78.8 263.7h.01M97.6 262.1h.01M46.0 262.7h.01M46.9 261.5h.01M66.0 261.4h.01M82.4 262.0h.01M77.1 259.6h.01M65.7 259.3h.01M38.3 261.2h.01M55.3 259.8h.01M84.3 257.3h.01M67.8 259.4h.01M54.4 260.9h.01M105.3 258.8h.01M74.1 259.4h.01M71.2 259.8h.01M67.0 262.0h.01M98.6 261.4h.01M68.7 259.4h.01M53.0 261.2h.01M70.5 260.0h.01M38.8 258.5h.01M39.0 260.8h.01M48.2 258.4h.01M58.5 260.3h.01M41.7 259.6h.01M45.0 261.7h.01M78.5 260.7h.01M85.9 262.4h.01M39.0 257.9h.01M98.4 260.3h.01M84.6 261.6h.01M53.1 258.2h.01M92.9 260.4h.01M100.5 258.3h.01M41.3 261.6h.01M74.6 259.4h.01M91.8 261.3h.01M39.0 262.0h.01M40.4 261.5h.01M66.8 260.0h.01M46.1 262.1h.01M95.7 259.5h.01M56.4 259.1h.01M77.8 260.6h.01M85.7 258.3h.01M58.9 259.3h.01M102.3 261.3h.01M83.0 260.4h.01M103.7 261.0h.01M101.7 259.3h.01M68.8 258.1h.01M79.7 259.2h.01M97.4 261.5h.01M98.2 259.4h.01M59.3 259.9h.01M81.0 259.4h.01M58.3 262.8h.01M64.1 260.2h.01M102.9 262.4h.01M81.8 262.2h.01M39.2 259.5h.01M105.5 260.5h.01M44.7 258.9h.01M46.5 258.7h.01M101.1 258.2h.01M55.8 259.2h.01M48.4 260.1h.01M51.6 260.7h.01M71.5 258.1h.01M47.6 262.1h.01M51.9 257.7h.01M59.2 259.9h.01M52.0 261.4h.01M63.6 261.4h.01M91.8 260.4h.01M88.3 261.8h.01M52.0 264.7h.01M99.7 261.4h.01M59.3 259.9h.01M52.2 262.1h.01M91.1 262.3h.01M65.0 258.5h.01M94.7 261.3h.01M83.1 259.9h.01M49.7 263.3h.01M65.7 260.0h.01M88.0 260.1h.01M72.7 260.9h.01M43.1 257.1h.01M77.0 261.2h.01M55.9 260.8h.01M72.4 262.4h.01M99.0 261.2h.01M68.2 262.0h.01M63.4 261.0h.01M74.6 261.8h.01M51.1 259.4h.01M101.5 262.2h.01M70.6 260.0h.01M73.0 260.7h.01M61.2 261.7h.01M79.6 261.6h.01M61.7 260.1h.01M42.2 257.9h.01M41.3 258.0h.01M75.6 259.9h.01M53.5 258.8h.01M64.8 262.5h.01M73.7 260.6h.01M70.4 262.7h.01M38.2 260.4h.01M104.6 257.2h.01M101.6 259.7h.01M55.9 258.5h.01M85.5 259.0h.01M45.9 261.0h.01M78.9 259.6h.01M48.3 257.5h.01M51.8 259.7h.01M97.8 259.6h.01M100.6 259.4h.01M76.0 259.3h.01M89.7 258.9h.01M78.6 262.3h.01M99.3 260.7h.01M74.8 257.8h.01M98.1 258.2h.01M59.0 258.7h.01M45.2 259.2h.01M103.5 259.9h.01M52.9 261.5h.01M50.9 259.4h.01M77.0 257.9h.01M79.7 265.2h.01M44.8 260.0h.01M71.3 261.1h.01M73.6 259.3h.01M68.0 262.6h.01M93.3 259.7h.01M94.0 259.1h.01M40.0 260.3h.01M102.2 260.7h.01M74.1 263.1h.01M44.2 256.0h.01M98.8 262.9h.01M91.5 260.6h.01M64.0 262.5h.01M71.6 258.5h.01M57.0 260.7h.01M74.5 260.9h.01M73.4 261.1h.01M43.4 262.2h.01M58.4 259.8h.01M73.3 259.4h.01M47.0 261.2h.01M100.9 259.5h.01M100.0 261.7h.01M84.0 260.0h.01M42.7 262.9h.01M40.5 259.8h.01M47.3 261.5h.01M101.3 261.3h.01M91.3 258.9h.01M38.7 263.0h.01M74.8 259.8h.01M100.1 260.7h.01M82.4 262.7h.01M79.9 260.2h.01M46.6 256.7h.01M75.7 260.8h.01M81.1 258.8h.01M38.8 260.7h.01M52.8 260.6h.01M41.7 261.0h.01M89.0 262.9h.01M94.1 260.2h.01M52.2 261.3h.01M95.7 259.0h.01M54.1 259.7h.01M53.1 262.3h.01M55.5 259.9h.01M104.4 257.3h.01M82.2 259.2h.01M77.5 261.8h.01M78.0 262.2h.01M102.9 259.2h.01M70.3 259.9h.01M59.9 260.4h.01M70.6 262.1h.01M45.8 260.4h.01M56.1 263.1h.01M45.7 257.8h.01M77.7 259.7h.01M58.1 260.3h.01M74.1 258.3h.01M42.5 261.3h.01M79.4 259.5h.01M76.3 259.6h.01M101.1 262.1h.01M73.1 258.8h.01M88.6 257.7h.01M63.2 261.1h.01M75.5 260.1h.01M78.7 258.1h.01M63.9 258.8h.01M68.1 262.3h.01M67.8 259.3h.01M80.2 261.3h.01M97.3 261.1h.01M73.9 262.6h.01M81.0 259.4h.01M38.7 258.8h.01M62.5 257.9h.01M100.6 260.0h.01M82.4 259.4h.01M91.6 259.0h.01M46.7 261.8h.01M68.6 259.0h.01M84.7 254.9h.01M46.1 258.8h.01M42.3 259.3h.01M53.4 259.6h.01M105.4 258.9h.01M62.6 260.0h.01M53.2 260.3h.01M103.9 261.2h.01M87.6 259.8h.01M103.9 260.9h.01M98.1 263.1h.01M75.2 262.2h.01M104.5 258.6h.01M38.6 261.0h.01M76.9 260.5h.01M53.1 263.8h.01M97.6 258.8h.01M86.2 263.0h.01M101.0 258.9h.01M55.7 259.6h.01M53.9 261.4h.01M59.4 261.2h.01M93.5 262.3h.01M72.3 260.4h.01M48.7 259.9h.01M88.2 259.2h.01M49.4 261.4h.01M44.4 259.3h.01M48.2 260.6h.01M59.2 261.2h.01M103.5 259.1h.01M88.8 261.5h.01M43.0 263.2h.01M60.1 262.1h.01M49.8 261.4h.01M104.0 262.9h.01M64.9 259.8h.01M51.8 258.5h.01M59.3 259.6h.01M91.6 261.4h.01M44.1 258.2h.01M40.2 262.1h.01M103.0 258.4h.01M51.0 258.7h.01M51.7 262.9h.01M39.0 256.4h.01M93.2 260.5h.01M78.3 260.9h.01M44.4 262.1h.01M57.3 257.5h.01M47.8 257.5h.01M40.6 260.1h.01M85.6 261.5h.01M49.1 261.5h.01M43.5 258.9h.01M99.5 260.0h.01M99.0 260.0h.01M81.6 258.3h.01M60.4 258.2h.01M66.4 260.7h.01M68.0 263.4h.01M87.7 256.2h.01M95.9 260.1h.01M53.0 260.9h.01M71.7 260.6h.01M99.8 257.5h.01M90.6 260.1h.01M70.5 260.8h.01M60.3 262.8h.01M74.3 257.6h.01M90.2 260.0h.01M67.8 258.3h.01M102.3 261.0h.01M104.6 258.2h.01M48.0 260.6h.01M59.7 258.2h.01M46.6 257.3h.01M49.9 258.6h.01M98.6 261.4h.01M75.3 260.2h.01M70.7 259.9h.01M56.1 261.0h.01M101.6 262.5h.01M71.7 256.8h.01M71.7 262.0h.01M77.3 261.0h.01M105.1 262.6h.01M41.2 261.3h.01M103.6 261.1h.01M80.8 262.8h.01M51.9 258.6h.01M50.1 260.7h.01M64.7 262.8h.01M103.6 261.3h.01M74.6 258.7h.01M47.7 261.5h.01M87.9 260.0h.01M63.5 259.6h.01M46.3 260.2h.01M96.8 260.0h.01M42.4 260.9h.01M73.7 259.3h.01M86.0 263.5h.01M48.3 259.0h.01M86.3 259.4h.01M69.2 260.7h.01M101.3 262.9h.01M74.6 260.6h.01M97.6 259.0h.01M95.5 260.5h.01M45.3 259.8h.01M41.6 259.0h.01M49.3 260.9h.01M100.0 259.5h.01M48.0 260.8h.01M82.5 260.1h.01M74.1 257.1h.01M53.3 258.1h.01M105.1 257.5h.01M54.9 259.0h.01M105.3 259.9h.01M52.7 258.4h.01M97.3 255.5h.01M97.7 258.4h.01M88.5 260.1h.01M94.0 259.3h.01M86.2 260.8h.01M44.9 260.7h.01M52.8 260.6h.01M84.9 257.4h.01M62.9 261.2h.01M53.4 259.9h.01M67.8 260.1h.01M94.3 263.1h.01M88.2 259.3h.01M59.3 262.3h.01M75.1 259.3h.01M95.0 260.1h.01M92.8 260.4h.01M53.8 259.6h.01M88.6 261.1h.01M101.0 258.1h.01M66.8 260.6h.01M58.4 262.2h.01M63.7 260.6h.01M86.1 258.8h.01M78.0 262.3h.01M96.5 260.6h.01M81.7 261.7h.01M105.1 258.3h.01M40.6 259.3h.01M89.1 260.8h.01M57.9 259.0h.01M39.2 258.2h.01M79.5 259.7h.01M81.6 261.4h.01M80.7 260.9h.01M43.1 262.9h.01M41.7 263.3h.01M101.9 257.8h.01M105.1 260.2h.01M73.7 258.1h.01M74.1 264.5h.01M67.4 258.8h.01M51.6 258.6h.01M92.6 259.9h.01M100.2 259.8h.01M74.1 259.8h.01M46.7 257.2h.01M83.4 259.6h.01M69.6 262.4h.01M96.8 263.6h.01M71.0 262.7h.01M65.1 261.1h.01M64.8 259.3h.01M47.5 261.2h.01M81.9 258.5h.01M88.7 260.1h.01M71.9 261.0h.01M75.7 261.4h.01M83.0 258.4h.01M62.1 258.2h.01M89.8 259.2h.01M46.5 259.7h.01M80.2 262.7h.01M93.1 256.9h.01M93.5 259.2h.01M58.0 259.6h.01M96.2 260.0h.01M75.1 262.2h.01M39.2 261.2h.01M91.7 261.0h.01M91.0 261.2h.01M104.6 260.8h.01M49.2 261.0h.01M96.9 258.2h.01M87.7 262.7h.01M86.3 262.0h.01M40.8 261.6h.01M69.3 259.8h.01M73.4 258.2h.01M42.4 259.5h.01M95.6 259.5h.01M71.9 260.2h.01M50.8 257.8h.01M88.9 261.4h.01M48.9 259.3h.01M80.4 264.6h.01M50.5 259.3h.01M43.0 259.5h.01M82.4 261.0h.01M83.8 260.9h.01M103.2 262.9h.01M47.6 261.5h.01M42.0 260.6h.01M87.3 260.3h.01M99.2 261.3h.01M41.2 260.4h.01M65.5 259.8h.01M93.0 261.3h.01M45.1 259.7h.01M82.1 259.6h.01M46.7 262.0h.01M56.0 265.1h.01M68.4 256.9h.01M75.1 255.0h.01M45.9 259.0h.01M77.4 258.1h.01M64.0 260.6h.01M74.9 259.7h.01M74.7 262.9h.01M54.2 258.8h.01M63.9 258.9h.01M42.2 259.4h.01M105.0 259.4h.01M48.3 260.6h.01M39.0 261.1h.01M76.0 259.8h.01M101.8 260.6h.01M57.2 258.0h.01M83.5 260.7h.01M53.4 259.2h.01M65.8 257.4h.01M77.9 258.2h.01M56.0 260.2h.01M45.2 259.3h.01M38.6 258.3h.01M69.4 259.3h.01M75.4 260.7h.01M77.5 261.4h.01M65.2 256.5h.01M69.5 260.3h.01M88.2 262.1h.01M41.6 261.0h.01M51.4 260.9h.01M48.7 261.9h.01M101.1 259.8h.01M42.8 261.7h.01M62.9 260.8h.01M98.3 258.2h.01M79.7 259.2h.01M94.4 258.9h.01M68.4 261.1h.01M91.8 261.2h.01M41.9 261.3h.01M84.1 262.5h.01M69.4 259.3h.01M77.8 258.8h.01M40.6 256.4h.01M76.8 262.7h.01M61.0 257.0h.01M69.4 257.0h.01M66.1 261.7h.01M53.3 257.3h.01M83.1 259.8h.01M92.2 261.8h.01M62.5 262.0h.01M96.5 259.3h.01M46.7 259.9h.01M95.9 260.6h.01M98.0 258.4h.01M103.5 260.5h.01M64.1 260.0h.01M100.0 261.2h.01M92.2 257.6h.01M94.4 259.8h.01M83.1 262.2h.01M96.8 261.8h.01M70.1 258.1h.01M50.9 261.4h.01M53.2 258.0h.01M45.7 255.4h.01M82.9 259.8h.01M48.9 260.3h.01M58.6 260.0h.01M63.2 259.5h.01M79.9 260.5h.01M94.6 254.7h.01M50.9 258.1h.01M75.3 259.5h.01M78.3 259.4h.01M83.0 261.1h.01M97.0 259.3h.01M102.7 258.0h.01M55.1 257.5h.01M82.1 258.9h.01M38.1 257.2h.01M51.7 260.1h.01M64.6 262.2h.01M74.7 260.1h.01M78.3 261.4h.01M98.6 258.8h.01" stroke="#000" stroke-width="0.65" stroke-linecap="square" fill="none" opacity="0.88"/>
<path d="M90.3 252.8h.01M85.8 252.1h.01M57.6 253.4h.01M57.3 252.1h.01M97.2 256.8h.01M64.9 251.2h.01M72.7 253.2h.01M62.1 255.6h.01M62.9 253.8h.01M68.6 254.5h.01M60.8 253.5h.01M97.4 250.1h.01M64.7 250.5h.01M96.8 254.7h.01M67.1 256.3h.01M63.6 253.4h.01M91.5 254.2h.01M58.3 250.3h.01M64.2 256.6h.01M99.9 252.1h.01M57.4 254.4h.01M64.9 256.2h.01M100.9 255.5h.01M93.8 255.4h.01M96.6 252.7h.01M91.1 250.1h.01M89.7 253.1h.01M104.2 255.5h.01M77.6 254.9h.01M84.3 254.3h.01M55.4 251.6h.01M67.9 254.9h.01M100.8 254.4h.01M92.9 254.5h.01M62.3 251.8h.01M84.1 255.3h.01M76.0 254.9h.01M71.7 252.2h.01M63.4 252.9h.01M84.0 250.8h.01M101.5 250.1h.01M91.6 252.4h.01M101.9 252.0h.01M56.3 254.8h.01M73.9 255.7h.01M88.3 253.1h.01M88.0 254.8h.01M71.4 251.4h.01M87.7 254.0h.01M57.4 251.1h.01M76.5 250.6h.01M81.2 252.8h.01M69.8 255.3h.01M91.9 250.5h.01M84.8 256.9h.01M85.3 256.9h.01M66.6 251.5h.01M71.4 251.6h.01M63.0 251.8h.01M80.1 255.7h.01" stroke="#222" stroke-width="0.55" stroke-linecap="square" fill="none" opacity="0.6"/>
<path d="M98.1 288.1h.01M98.5 272.1h.01M98.0 293.6h.01M99.1 286.2h.01M97.9 303.9h.01M103.5 278.2h.01M100.1 278.9h.01M100.3 295.5h.01M99.0 297.4h.01M99.9 301.2h.01M100.6 295.6h.01M99.5 283.8h.01M103.3 294.2h.01M97.2 291.1h.01M102.5 276.2h.01M104.8 313.2h.01M93.9 282.7h.01M98.2 295.4h.01M96.6 270.7h.01M98.4 295.3h.01M95.5 286.6h.01M94.3 315.3h.01M96.5 289.2h.01M96.3 270.8h.01M100.6 296.1h.01M96.9 306.1h.01M96.4 291.5h.01M97.6 287.6h.01M97.9 310.6h.01M100.9 293.9h.01M99.9 270.9h.01M96.6 298.0h.01M98.0 263.8h.01M101.0 299.1h.01M102.7 285.2h.01M96.7 281.7h.01M97.5 305.4h.01M99.6 274.5h.01M94.9 273.3h.01M94.7 301.7h.01M99.4 304.0h.01M99.2 299.8h.01M95.7 279.6h.01M98.5 290.1h.01M98.1 278.9h.01M94.7 290.6h.01M99.4 292.2h.01M99.0 302.7h.01M96.3 282.3h.01M97.7 293.9h.01M98.9 278.9h.01M97.4 301.2h.01M96.1 292.3h.01M97.3 297.9h.01M99.5 308.0h.01M97.3 297.9h.01M98.8 288.5h.01M95.7 298.1h.01M100.6 296.2h.01M97.8 305.7h.01M101.8 280.4h.01M95.9 295.3h.01M95.4 303.4h.01M100.4 293.7h.01M98.1 301.4h.01M95.5 314.9h.01M96.6 309.5h.01M93.6 290.2h.01M99.1 275.6h.01M93.7 295.0h.01M97.4 299.7h.01M97.5 290.6h.01M99.7 309.1h.01M99.0 288.9h.01M94.6 305.4h.01M95.7 269.1h.01M96.7 266.6h.01M94.9 313.3h.01M95.9 309.4h.01M101.6 273.9h.01M97.4 284.6h.01M99.6 302.2h.01M97.5 289.1h.01M97.1 286.0h.01M98.9 302.6h.01M100.2 288.7h.01M103.6 306.2h.01M97.6 284.8h.01M96.5 299.5h.01M95.4 295.5h.01M102.5 269.2h.01M101.2 288.8h.01M103.6 268.0h.01M97.7 278.8h.01M94.1 274.6h.01M96.0 305.4h.01M99.6 296.3h.01M98.8 280.5h.01M97.0 277.8h.01M97.3 280.9h.01M102.2 302.8h.01M97.9 301.5h.01M94.2 295.7h.01M101.9 278.3h.01M94.7 297.9h.01M96.6 287.7h.01M96.7 310.2h.01M102.2 285.0h.01M98.7 282.5h.01M97.4 294.7h.01M98.2 282.2h.01M100.4 272.3h.01M98.7 274.2h.01M98.0 295.8h.01M97.6 290.7h.01M100.2 303.6h.01M96.2 290.0h.01M99.4 310.3h.01M98.9 299.1h.01M99.3 287.9h.01M95.0 285.6h.01M100.5 294.1h.01M97.6 289.7h.01M100.6 289.0h.01M99.1 297.7h.01M95.2 294.1h.01M96.2 308.8h.01M101.2 287.5h.01M101.1 295.7h.01M100.1 280.1h.01M100.3 296.0h.01M98.4 304.9h.01M96.0 311.0h.01M97.8 287.8h.01M101.7 312.6h.01M102.1 274.6h.01M100.2 311.3h.01M102.4 301.6h.01M100.0 278.9h.01M101.7 279.4h.01M95.7 283.2h.01M97.3 285.0h.01M96.7 293.5h.01M102.1 303.4h.01M96.0 296.3h.01M100.6 288.3h.01M94.3 288.0h.01M98.4 262.5h.01M104.6 274.1h.01M98.8 299.3h.01M99.2 295.0h.01M97.7 287.7h.01M95.0 294.9h.01M97.9 287.7h.01M97.0 305.6h.01M97.8 280.1h.01M98.6 307.5h.01M100.6 306.2h.01M100.3 267.7h.01M94.4 305.9h.01M100.3 300.4h.01M106.1 273.4h.01M99.8 306.5h.01M94.2 303.0h.01M95.9 286.0h.01M100.6 281.5h.01M98.8 269.9h.01M101.9 289.9h.01M98.1 296.2h.01M100.0 272.1h.01M98.0 266.9h.01M99.9 294.9h.01M97.0 295.6h.01M99.0 288.5h.01M99.8 285.4h.01M96.8 273.9h.01M98.3 304.4h.01M98.2 309.3h.01M97.3 309.3h.01M97.7 298.9h.01M97.2 281.7h.01M101.2 287.5h.01M97.6 314.2h.01M100.6 284.2h.01M97.7 279.5h.01M100.8 291.6h.01M98.3 292.3h.01M93.5 286.8h.01M97.2 306.1h.01M95.4 299.2h.01M99.5 308.3h.01M97.6 289.2h.01M99.9 284.6h.01M95.7 293.5h.01M96.4 279.3h.01M95.1 285.0h.01M96.6 291.7h.01M101.5 290.3h.01M94.9 315.7h.01M96.4 315.8h.01M96.5 295.2h.01M95.6 286.9h.01M101.4 285.9h.01M99.7 272.5h.01M97.4 299.0h.01M96.1 287.5h.01M98.1 273.2h.01M99.1 315.8h.01M101.7 288.8h.01M101.5 289.1h.01M101.7 293.7h.01M99.7 303.7h.01M99.1 292.4h.01M97.8 288.5h.01M98.6 306.7h.01M100.1 287.1h.01M103.1 292.6h.01M97.4 284.8h.01M103.9 279.7h.01M103.7 281.8h.01M101.4 306.1h.01M96.2 302.0h.01M97.5 297.3h.01M100.1 269.9h.01M102.0 293.0h.01M102.1 294.5h.01M96.3 307.5h.01M100.8 292.6h.01M98.8 314.9h.01M97.2 298.4h.01M96.7 293.7h.01M100.3 305.9h.01M96.0 287.6h.01M99.7 307.4h.01M94.4 297.4h.01M97.1 285.2h.01M99.2 292.4h.01M99.4 271.1h.01M99.7 302.3h.01M93.5 303.6h.01M98.8 294.1h.01M98.7 311.8h.01M100.1 273.4h.01M99.1 287.9h.01M96.5 296.6h.01M95.0 281.3h.01M99.1 295.1h.01M94.9 300.8h.01M94.6 275.8h.01M97.1 278.0h.01M100.2 294.4h.01M99.6 309.5h.01M96.9 287.6h.01M93.7 290.3h.01M97.5 286.9h.01M97.6 281.0h.01M96.7 296.8h.01M100.5 275.7h.01M99.5 276.4h.01M100.6 301.1h.01M99.3 295.0h.01M98.0 291.9h.01M97.3 294.6h.01M101.1 294.7h.01M100.5 290.4h.01M100.9 285.4h.01M95.2 270.2h.01M97.9 292.7h.01M94.4 307.3h.01M101.5 288.6h.01M95.3 299.3h.01M97.5 290.1h.01M105.0 273.9h.01M98.4 292.3h.01M97.3 299.2h.01M98.8 263.9h.01M98.3 301.2h.01M95.3 302.2h.01M98.0 280.5h.01M98.4 303.3h.01M94.2 304.5h.01M99.9 296.5h.01M99.8 278.3h.01M93.9 308.9h.01M95.3 278.0h.01M98.8 287.5h.01M97.3 307.9h.01M98.9 283.9h.01M98.3 286.1h.01M95.8 304.6h.01M97.1 275.4h.01M101.0 274.6h.01M95.0 303.3h.01M97.3 300.3h.01M98.1 302.6h.01M99.8 272.1h.01M98.1 306.6h.01M104.6 270.1h.01M102.9 296.2h.01M103.4 280.1h.01M96.3 288.4h.01M99.6 284.6h.01M95.5 308.0h.01M97.2 301.2h.01M99.1 287.0h.01M95.7 281.4h.01M97.8 267.8h.01M104.0 294.6h.01M98.0 291.5h.01M98.8 314.4h.01M100.8 279.3h.01M99.1 288.1h.01M98.6 282.4h.01M94.8 285.7h.01M97.8 277.9h.01M95.7 313.5h.01M97.0 279.5h.01M97.4 281.4h.01M95.9 292.0h.01M96.1 304.1h.01M100.4 298.4h.01M96.2 302.0h.01M99.6 282.5h.01M98.9 296.5h.01M102.2 276.4h.01M96.4 297.0h.01M100.8 299.7h.01M98.2 286.1h.01M96.7 294.2h.01M98.9 309.3h.01M97.0 301.2h.01M100.0 295.4h.01M98.2 292.2h.01M101.1 303.5h.01M96.6 292.5h.01M101.1 309.3h.01M103.4 289.1h.01M98.3 304.8h.01M94.8 297.7h.01M97.6 299.9h.01M104.7 296.8h.01M94.3 306.6h.01M98.4 298.6h.01M101.0 292.2h.01M99.2 275.6h.01M98.4 308.0h.01M95.9 289.7h.01M97.7 284.8h.01M102.4 281.5h.01M96.0 295.2h.01M96.8 284.4h.01M96.2 293.9h.01M94.8 282.3h.01M94.5 278.2h.01M95.8 285.1h.01M99.1 310.6h.01M104.0 279.8h.01M95.2 292.9h.01M97.1 289.7h.01M99.4 290.8h.01M99.2 307.2h.01M99.4 296.6h.01M101.2 294.5h.01M97.2 277.8h.01M98.5 296.9h.01M98.3 275.3h.01M98.3 277.9h.01M103.1 303.1h.01M94.1 296.2h.01M97.0 303.6h.01M104.5 302.8h.01M98.5 288.1h.01M99.6 301.3h.01M101.8 294.9h.01M101.1 273.8h.01M97.0 303.5h.01M97.6 310.9h.01M96.3 293.5h.01M101.3 278.4h.01M100.5 279.7h.01M99.3 309.9h.01M95.2 291.9h.01M95.9 292.1h.01M97.0 286.6h.01M96.9 293.6h.01M96.6 290.4h.01M98.3 289.6h.01M99.0 280.9h.01M100.8 288.5h.01M101.0 308.4h.01M95.4 293.5h.01M96.0 286.6h.01M97.9 297.8h.01M98.2 301.8h.01M99.9 304.2h.01M93.8 297.9h.01M95.2 281.7h.01M99.1 285.9h.01M97.9 294.2h.01M103.7 276.5h.01M100.4 284.7h.01M97.4 306.3h.01M101.6 287.7h.01M97.5 294.3h.01M104.2 272.1h.01M97.6 275.7h.01M99.8 270.3h.01M102.5 299.0h.01M97.3 285.0h.01M96.3 305.7h.01M98.0 298.7h.01M100.1 304.6h.01M103.8 294.1h.01M95.7 297.6h.01M98.0 304.2h.01M93.7 279.1h.01M97.3 268.4h.01M101.0 294.0h.01M102.6 309.5h.01M97.0 298.7h.01M97.3 283.5h.01M95.7 303.4h.01M95.3 279.4h.01M95.0 270.7h.01M102.5 288.0h.01M94.5 299.3h.01M94.4 313.7h.01M100.1 272.4h.01M100.7 281.9h.01M95.7 264.5h.01M97.6 300.1h.01M100.5 277.8h.01M102.3 287.5h.01M97.9 299.1h.01M100.0 285.6h.01M100.1 306.8h.01M97.1 274.1h.01M103.5 299.2h.01M96.7 280.9h.01M101.4 284.3h.01M98.2 285.9h.01M96.1 314.0h.01M95.9 272.1h.01M97.7 288.9h.01M98.6 288.8h.01M98.1 303.9h.01M96.5 292.0h.01M96.4 295.3h.01M96.5 303.1h.01M102.5 308.5h.01M100.2 293.8h.01M100.6 283.1h.01M100.7 288.0h.01M94.0 290.0h.01M94.9 291.4h.01M102.2 265.8h.01M102.4 293.8h.01M98.1 275.4h.01M93.7 304.7h.01M100.1 305.2h.01M98.7 278.3h.01M98.9 274.9h.01M96.6 283.5h.01M98.7 271.9h.01M100.6 291.8h.01M97.7 315.8h.01M99.2 285.2h.01M97.6 280.5h.01M97.6 304.9h.01M98.8 272.4h.01M94.3 306.1h.01M98.8 283.4h.01M100.6 279.2h.01M93.7 271.1h.01M98.8 307.3h.01M97.9 289.6h.01M94.8 303.0h.01M94.3 297.2h.01M98.8 286.1h.01M97.5 280.8h.01M101.2 299.8h.01M100.5 303.2h.01M99.8 305.2h.01M98.9 306.7h.01M94.1 279.3h.01M102.4 311.7h.01M97.0 296.2h.01M93.8 300.3h.01M94.6 309.3h.01M95.7 315.9h.01M103.5 281.4h.01M101.2 297.6h.01M94.8 289.2h.01M99.7 309.2h.01M99.5 297.8h.01M95.8 274.1h.01M101.7 282.5h.01M97.7 276.2h.01M99.9 264.6h.01M105.7 292.2h.01M102.6 296.0h.01M103.0 302.4h.01M96.4 295.1h.01M99.4 283.2h.01M100.6 284.0h.01M94.7 286.5h.01M98.2 278.9h.01M95.6 291.2h.01M97.2 297.8h.01M97.8 303.3h.01M97.3 284.7h.01M97.1 287.4h.01M101.7 274.3h.01M96.2 290.4h.01M99.4 292.4h.01M93.9 296.0h.01M98.6 287.4h.01M99.3 294.7h.01M98.2 287.9h.01M96.2 287.2h.01M98.5 304.2h.01M98.1 303.7h.01M98.5 304.7h.01M94.4 282.3h.01M97.6 280.8h.01M102.2 295.1h.01M97.1 300.9h.01M93.7 279.0h.01M102.0 296.8h.01M96.0 265.4h.01M98.1 287.5h.01M98.6 291.8h.01M98.5 276.3h.01M105.2 277.3h.01M98.0 286.2h.01M97.0 286.4h.01M96.5 295.4h.01M97.7 296.4h.01M96.6 290.5h.01M96.8 309.8h.01M101.1 277.1h.01M101.2 262.5h.01M98.1 301.0h.01M105.4 290.9h.01M100.0 297.2h.01M99.0 287.0h.01M99.5 284.4h.01M98.2 284.7h.01M93.7 291.9h.01M103.1 296.8h.01M100.4 278.4h.01M95.7 296.6h.01M98.8 268.5h.01M99.7 277.4h.01M98.7 292.3h.01M97.1 290.8h.01M96.7 286.8h.01M98.1 289.2h.01M97.1 282.8h.01M101.7 291.9h.01M97.7 295.7h.01M97.4 305.2h.01M97.0 289.0h.01M102.7 278.3h.01M102.8 298.9h.01M99.3 285.1h.01M96.1 296.9h.01M101.3 284.9h.01M99.2 282.7h.01M93.6 278.2h.01M96.6 301.3h.01M102.0 302.0h.01M96.1 297.0h.01M96.8 303.1h.01M101.1 305.3h.01M99.3 300.1h.01M97.4 282.6h.01M102.4 264.6h.01M95.2 313.9h.01M95.1 279.1h.01M102.1 280.2h.01M96.5 293.8h.01M103.3 293.1h.01M100.5 290.1h.01M99.3 309.4h.01M99.5 292.9h.01M100.5 297.3h.01M96.0 295.3h.01M95.9 270.2h.01M100.1 276.7h.01M98.2 267.0h.01M97.6 279.9h.01M98.1 305.2h.01M102.5 293.3h.01M100.7 302.0h.01M98.6 298.4h.01M100.2 283.9h.01M103.2 286.0h.01M94.8 283.6h.01M94.4 271.4h.01M99.5 308.2h.01M97.7 300.9h.01M101.2 285.9h.01M98.9 299.8h.01M96.9 304.6h.01M101.0 280.6h.01M99.4 304.1h.01M96.9 293.9h.01M96.5 309.1h.01M95.9 285.4h.01M101.9 300.0h.01M98.2 293.0h.01M103.2 286.8h.01M100.7 287.3h.01M98.8 264.9h.01M97.4 289.4h.01M97.5 305.4h.01M94.0 298.9h.01M98.9 301.1h.01M101.3 294.0h.01M99.8 298.9h.01M104.3 295.1h.01M98.6 308.5h.01M97.2 290.1h.01M98.3 311.7h.01M97.3 274.3h.01M95.5 305.1h.01M96.2 279.0h.01M97.5 268.8h.01M98.0 277.1h.01M99.2 298.9h.01M96.8 309.2h.01M100.7 296.4h.01M100.5 305.9h.01M100.9 297.1h.01M97.9 265.5h.01M101.1 279.6h.01M97.0 300.0h.01M97.6 287.4h.01M96.6 283.9h.01M99.8 309.9h.01M97.1 295.0h.01M101.5 311.9h.01M93.6 307.7h.01M97.8 291.3h.01M95.6 307.9h.01M98.1 299.5h.01M100.9 292.0h.01M96.1 279.3h.01M100.4 291.3h.01" stroke="#000" stroke-width="0.65" stroke-linecap="square" fill="none" opacity="0.88"/>
<path d="M53.2 263 L58 260.5 L58.5 301 L55 303.5 L53.4 300Z" fill="#0d0d0d" opacity="0.85"/>
<path d="M56 263.6 C60 260.4 66 259.6 72 259.6 C76 259.6 80 260.4 82 262.2 C90 261 98 260.8 105 261.5 L105.2 275 L104 281.5 L94.5 281.5 L93.6 278.6 L80.5 279 L57 279.2Z" fill="#101010" opacity="0.93"/>
<path d="M93.2 279 L100.5 280 C100.6 290 99.5 302 96.5 314 L91.5 313.6 C93.6 306 94.3 292 93.2 279Z" fill="#0d0d0d" opacity="0.9"/>
<path d="M81.8 274.3h.01M97.6 277.9h.01M83.7 265.4h.01M92.4 267.3h.01M84.1 264.7h.01M82.0 270.1h.01M84.2 262.5h.01M83.3 275.4h.01M96.5 268.5h.01M100.3 262.9h.01M91.0 279.7h.01M82.3 264.8h.01M92.5 268.7h.01M82.6 277.9h.01M100.0 273.1h.01M91.0 272.6h.01M93.0 272.8h.01M88.7 277.5h.01M93.5 266.5h.01M95.0 276.8h.01M93.0 268.2h.01M94.1 275.1h.01M85.4 278.8h.01M90.8 270.0h.01M93.5 276.4h.01M85.1 265.5h.01M92.7 262.3h.01M91.4 264.4h.01M85.8 268.9h.01M102.5 273.6h.01M87.7 274.1h.01M93.2 262.0h.01M91.6 275.3h.01M100.4 280.3h.01M81.4 271.8h.01M90.1 270.5h.01M100.7 270.3h.01M94.0 276.4h.01M101.9 273.1h.01M93.7 263.9h.01M90.0 265.6h.01M99.5 274.8h.01M84.3 273.0h.01M102.0 278.1h.01M90.0 269.0h.01M93.7 269.9h.01M104.4 278.2h.01M102.4 281.0h.01M83.5 280.0h.01M89.7 267.0h.01M95.4 269.6h.01M86.0 280.5h.01M85.4 263.6h.01M90.4 277.7h.01M100.3 270.6h.01M90.7 264.7h.01M100.1 276.4h.01M86.2 274.7h.01M102.4 268.8h.01M86.6 276.1h.01M96.0 269.5h.01M81.1 268.2h.01M97.9 265.6h.01M92.6 276.6h.01M89.3 264.4h.01M97.2 275.0h.01M95.6 279.2h.01M89.9 271.7h.01M91.9 278.3h.01M88.9 266.6h.01M89.8 277.7h.01M98.8 265.6h.01M100.6 280.8h.01M89.1 277.0h.01M97.6 273.7h.01M86.6 262.0h.01M101.8 268.3h.01M100.8 278.2h.01M101.6 275.9h.01M98.4 277.6h.01M103.6 279.5h.01M102.1 268.1h.01M103.1 263.7h.01M85.4 278.5h.01M94.1 280.1h.01M88.9 263.3h.01M84.6 278.8h.01M100.4 270.1h.01M96.7 262.7h.01M103.5 267.4h.01M85.8 271.2h.01M92.5 271.3h.01M98.2 265.5h.01M100.1 268.2h.01M90.6 279.0h.01M98.7 275.8h.01M100.0 270.0h.01M89.3 271.9h.01M101.4 265.3h.01M97.8 271.0h.01M103.7 275.5h.01M103.1 269.9h.01M92.1 266.7h.01M86.0 267.9h.01M86.1 273.9h.01M94.6 276.0h.01M99.0 280.4h.01M93.7 273.7h.01M93.7 271.1h.01M89.2 267.9h.01M89.0 271.7h.01M91.7 272.4h.01M97.1 280.8h.01M95.0 280.8h.01M88.6 273.6h.01M95.0 270.6h.01M92.0 266.5h.01M104.6 263.4h.01M100.4 271.1h.01M89.3 267.8h.01M103.7 268.4h.01M94.9 269.9h.01M96.9 272.6h.01M93.8 264.0h.01M81.6 274.4h.01M81.0 271.9h.01M87.7 276.1h.01M88.8 262.9h.01M84.8 268.3h.01M96.5 275.4h.01M101.0 280.2h.01M94.4 262.9h.01M97.0 268.7h.01M95.5 265.3h.01M90.5 266.6h.01M97.3 280.0h.01M89.8 271.6h.01M96.3 276.5h.01M89.6 267.1h.01M96.7 267.9h.01M92.9 274.0h.01M94.3 280.5h.01M89.4 266.1h.01M90.8 279.1h.01M101.5 263.1h.01M85.2 266.5h.01M99.7 275.1h.01M85.0 277.0h.01M101.8 277.5h.01M89.4 277.6h.01" stroke="#ddd" stroke-width="0.55" stroke-linecap="square" fill="none" opacity="0.55"/>
<path d="M95.6 310.8h.01M94.8 293.6h.01M95.8 307.3h.01M98.6 298.0h.01M97.2 290.4h.01M97.5 282.5h.01M98.3 311.6h.01M96.7 295.8h.01M97.5 293.1h.01M99.6 287.8h.01M96.9 303.1h.01M98.5 290.8h.01M94.7 303.1h.01M94.8 307.4h.01M94.1 309.2h.01M98.9 297.2h.01M99.3 305.9h.01M98.0 289.3h.01M94.5 284.7h.01M94.6 302.6h.01M98.2 311.3h.01M96.3 292.6h.01M99.2 306.3h.01M99.9 281.3h.01M99.7 294.2h.01M98.8 287.7h.01M97.2 305.1h.01M98.3 303.2h.01M94.5 310.3h.01M94.3 307.2h.01M97.4 300.9h.01M95.3 306.2h.01M98.6 289.0h.01M99.6 294.3h.01M99.2 288.4h.01M96.2 287.8h.01M94.2 285.5h.01M94.9 297.5h.01M96.9 284.4h.01M99.5 301.3h.01M97.1 289.8h.01M96.5 310.1h.01M96.5 297.1h.01M99.5 293.8h.01M99.1 283.2h.01M98.3 284.9h.01M95.6 283.7h.01M99.3 309.6h.01M98.8 297.0h.01M94.7 297.6h.01M99.4 304.1h.01M94.0 312.6h.01M99.7 299.8h.01M94.1 303.8h.01M97.7 281.1h.01M96.7 281.6h.01M94.4 302.7h.01M98.6 291.4h.01M94.9 289.8h.01M95.4 298.8h.01M95.6 310.2h.01M94.1 288.4h.01M97.7 295.3h.01M94.5 293.4h.01M95.7 306.6h.01M95.4 301.5h.01M98.0 294.3h.01M94.3 298.1h.01M94.6 288.7h.01M99.5 286.6h.01" stroke="#ddd" stroke-width="0.55" stroke-linecap="square" fill="none" opacity="0.5"/>
<path d="M57.8 269.1h.01M53.6 264.2h.01M57.3 297.1h.01M54.7 276.1h.01M55.0 287.1h.01M54.9 280.8h.01M56.4 273.5h.01M54.1 287.8h.01M56.4 263.1h.01M55.4 295.2h.01M56.2 288.7h.01M57.9 270.7h.01M55.3 268.6h.01M57.5 285.3h.01M57.4 288.0h.01M55.0 290.0h.01M54.7 282.2h.01M56.3 292.5h.01M54.6 291.7h.01M55.9 286.8h.01M53.9 283.0h.01M53.9 286.9h.01M57.1 277.6h.01M55.5 286.7h.01M56.0 300.2h.01M57.3 289.1h.01M55.1 265.1h.01M56.5 271.5h.01M56.7 287.8h.01M57.4 265.3h.01M55.7 275.9h.01M55.0 272.8h.01M57.2 280.3h.01M56.0 267.5h.01M56.0 287.1h.01M54.1 275.9h.01M54.7 284.0h.01M53.9 300.4h.01M55.3 298.2h.01M53.7 291.5h.01M57.5 279.7h.01M55.2 286.7h.01M54.9 272.4h.01M57.6 287.5h.01M55.7 280.5h.01M57.1 291.1h.01M54.8 274.9h.01M55.3 265.1h.01M55.4 267.4h.01M56.5 275.6h.01" stroke="#ddd" stroke-width="0.55" stroke-linecap="square" fill="none" opacity="0.5"/>
<path d="M57.6 273.8 C57 267.4 61 262.2 67 261 C72 260.2 77.8 260.8 80.6 264 C81.6 266 80.8 268.4 79.5 270.4 C78.3 272 77.5 273 77.4 274.6 L58 274.8Z" fill="#dedede" stroke="#0a0a0a" stroke-width="0.8"/>
<path d="M60.1 274 C60.0 268.6 63.2 264.6 68.4 263.70000000000005 C73.2 263.2 77.1 264.1 78.10000000000001 266.8" fill="none" stroke="#9a9a9a" stroke-width="0.3"/>
<path d="M61.6 274 C61.6 269.2 64.4 265.6 68.8 264.8 C73.4 264.4 76.6 265.2 77.0 267.6" fill="none" stroke="#9a9a9a" stroke-width="0.3"/>
<path d="M63.1 274 C63.2 269.8 65.6 266.6 69.2 265.90000000000003 C73.6 265.6 76.1 266.3 75.9 268.4" fill="none" stroke="#9a9a9a" stroke-width="0.3"/>
<path d="M64.6 274 C64.8 270.4 66.8 267.6 69.6 267.0 C73.8 266.8 75.6 267.4 74.8 269.2" fill="none" stroke="#9a9a9a" stroke-width="0.3"/>
<ellipse cx="92.3" cy="266" rx="8.4" ry="2.6" transform="rotate(-5 92.3 266)" fill="#e6e6e6" stroke="#000" stroke-width="0.5"/>
<path d="M57.6 275.7 H80.2 C80.8 276.8 80.4 278 79.4 278.8 H58.6 C57.6 278 57.2 276.8 57.6 275.7Z" fill="#f4f4f4" stroke="#222" stroke-width="0.4"/>
<path d="M57 284.5 C57.4 281.5 59.5 279.8 63 279.6 L90.5 279.6 C92 279.5 93 278.8 93.6 277.6 C94.2 284 94.6 296 93.6 302 C93 306.5 92 310 90.6 312.2 C87.5 308.5 83 306.2 78.5 305.6 C72 304.8 63 304.4 56.6 301.6 C56.3 296 56.5 290 57 284.5Z" fill="#cbcbcb" stroke="#0a0a0a" stroke-width="0.9"/>
<path d="M59.3 281.5 C58.699999999999996 289 58.9 296 60.5 302.59999999999997" fill="none" stroke="#9c9c9c" stroke-width="0.35"/>
<path d="M90.7 281.5 C91.7 290 91.19999999999999 298 88.6 308.2" fill="none" stroke="#9c9c9c" stroke-width="0.35"/>
<path d="M61.6 282.0 C61.0 289 61.2 296 63.0 302.79999999999995" fill="none" stroke="#9c9c9c" stroke-width="0.35"/>
<path d="M88.4 282.0 C89.4 290 88.8 298 86.2 307.4" fill="none" stroke="#9c9c9c" stroke-width="0.35"/>
<path d="M63.9 282.5 C63.3 289 63.5 296 65.5 303.0" fill="none" stroke="#9c9c9c" stroke-width="0.35"/>
<path d="M86.1 282.5 C87.1 290 86.39999999999999 298 83.8 306.6" fill="none" stroke="#9c9c9c" stroke-width="0.35"/>
<path d="M66.2 283.0 C65.6 289 65.8 296 68.0 303.2" fill="none" stroke="#9c9c9c" stroke-width="0.35"/>
<path d="M83.8 283.0 C84.8 290 84.0 298 81.4 305.8" fill="none" stroke="#9c9c9c" stroke-width="0.35"/>
<path d="M68.5 283.5 C67.9 289 68.1 296 70.5 303.4" fill="none" stroke="#9c9c9c" stroke-width="0.35"/>
<path d="M81.5 283.5 C82.5 290 81.6 298 79.0 305.0" fill="none" stroke="#9c9c9c" stroke-width="0.35"/>
<path d="M70.8 284.0 C70.2 289 70.4 296 73.0 303.59999999999997" fill="none" stroke="#9c9c9c" stroke-width="0.35"/>
<path d="M79.2 284.0 C80.2 290 79.19999999999999 298 76.6 304.2" fill="none" stroke="#9c9c9c" stroke-width="0.35"/>
<ellipse cx="71.5" cy="291" rx="5.5" ry="9" fill="#aaa" opacity="0.45"/>
<ellipse cx="71.5" cy="290.5" rx="2" ry="5" fill="#d8d8d8" opacity="0.9"/>
<path d="M68 286 C68.5 282.5 74.5 282.5 75 286" fill="none" stroke="#777" stroke-width="0.5"/>
<path d="M53 301.4 C56.5 300.6 58.5 301.4 61 302.2 C66 301 74 301.4 79.6 304.4 C84.5 305.6 89 308.6 92.2 313.6 L91.2 314.2 C88 310 84 307.6 79 307.2 C72 308.4 61.5 307.4 57 304.8 C55.4 303.8 54 302.8 53 301.4Z" fill="#0a0a0a"/>
<ellipse cx="67.4" cy="304.1" rx="6.6" ry="1.25" transform="rotate(3 67.4 304.1)" fill="#f0f0f0"/>
<path d="M68.4 309.0h.01M65.8 309.1h.01M88.0 311.1h.01M76.1 309.9h.01M90.4 312.4h.01M63.0 313.1h.01M57.0 316.0h.01M82.9 308.9h.01M72.0 315.2h.01M84.1 314.1h.01M77.3 308.8h.01M79.8 312.2h.01M62.3 307.5h.01M75.4 315.3h.01M68.5 312.7h.01M60.6 314.9h.01M88.1 309.7h.01M82.2 313.7h.01M72.1 314.9h.01M58.6 309.6h.01M61.1 314.4h.01M82.8 309.1h.01M80.1 311.6h.01M76.9 310.7h.01M76.8 312.0h.01M68.2 310.3h.01M62.7 312.7h.01M85.7 309.1h.01M77.6 310.5h.01M63.3 307.6h.01M58.3 313.7h.01M61.7 309.5h.01M74.9 308.8h.01M77.3 311.3h.01M64.8 313.1h.01M79.4 315.6h.01M68.7 314.0h.01M78.8 312.1h.01M58.3 309.8h.01M72.0 307.4h.01M60.5 314.4h.01M60.9 312.0h.01M65.3 311.7h.01M70.7 309.4h.01M73.0 309.5h.01" stroke="#222" stroke-width="0.55" stroke-linecap="square" fill="none" opacity="0.6"/>
</g>
<path d="M36 302.6 H53" stroke="#333" stroke-width="0.5" stroke-dasharray="2.2 0.6"/>
<rect x="54.5" y="249.2" width="50.5" height="25.80000000000001" fill="none" stroke="#111" stroke-width="1.35"/>
<rect x="54.5" y="278" width="51.5" height="38.60000000000002" fill="none" stroke="#111" stroke-width="1.35"/>
<rect x="36.2" y="247.6" width="17" height="7.2" fill="#fff"/>
<text x="37.2" y="254" font-size="7.8" font-weight="bold" fill="#000" stroke="#000" stroke-width="0.3" text-anchor="start" >12.8</text>
<rect x="36.2" y="310.2" width="17" height="7.4" fill="#fff"/>
<text x="37.2" y="316.7" font-size="7.8" font-weight="bold" fill="#000" stroke="#000" stroke-width="0.3" text-anchor="start" >84.2</text>
<text x="40.5" y="244" font-size="9" font-weight="bold" fill="#000" stroke="#000" stroke-width="0.34" text-anchor="start" >Akt1</text>
<text x="61" y="240.4" font-size="8.8" font-weight="bold" fill="#000" stroke="#000" stroke-width="0.33" text-anchor="start" >+/+</text>
<text x="97.2" y="240.4" font-size="8.8" font-weight="bold" fill="#000" stroke="#000" stroke-width="0.33" text-anchor="start" >+/-</text>
<text x="76.3" y="244" font-size="9" font-weight="bold" fill="#000" stroke="#000" stroke-width="0.34" text-anchor="start" >Akt2</text>
<rect x="128.4" y="246.5" width="73.6" height="72.0" fill="#fff" stroke="#b0b0b0" stroke-width="0.8"/>
<line x1="139.4" y1="246.5" x2="139.4" y2="318.5" stroke="#ececec" stroke-width="0.6"/>
<line x1="144.4" y1="246.5" x2="144.4" y2="318.5" stroke="#ececec" stroke-width="0.6"/>
<line x1="161.4" y1="246.5" x2="161.4" y2="318.5" stroke="#ececec" stroke-width="0.6"/>
<line x1="178.4" y1="246.5" x2="178.4" y2="318.5" stroke="#ececec" stroke-width="0.6"/>
<line x1="194.9" y1="246.5" x2="194.9" y2="318.5" stroke="#ececec" stroke-width="0.6"/>
<line x1="128.4" y1="253.0" x2="202" y2="253.0" stroke="#ececec" stroke-width="0.6"/>
<line x1="128.4" y1="270.0" x2="202" y2="270.0" stroke="#ececec" stroke-width="0.6"/>
<line x1="128.4" y1="289.5" x2="202" y2="289.5" stroke="#ececec" stroke-width="0.6"/>
<line x1="128.4" y1="302.0" x2="202" y2="302.0" stroke="#ececec" stroke-width="0.6"/>
<text x="136.4" y="327.0" font-size="5" font-weight="normal" fill="#484848" text-anchor="middle">0</text>
<text x="144.3" y="327.0" font-size="5" font-weight="normal" fill="#484848" text-anchor="middle">10<tspan dy="-1.9" font-size="3.6">2</tspan></text>
<text x="161.0" y="327.0" font-size="5" font-weight="normal" fill="#484848" text-anchor="middle">10<tspan dy="-1.9" font-size="3.6">3</tspan></text>
<text x="178.10000000000002" y="327.0" font-size="5" font-weight="normal" fill="#484848" text-anchor="middle">10<tspan dy="-1.9" font-size="3.6">4</tspan></text>
<text x="195.10000000000002" y="327.0" font-size="5" font-weight="normal" fill="#484848" text-anchor="middle">10<tspan dy="-1.9" font-size="3.6">5</tspan></text>
<text x="126.60000000000001" y="254.7" font-size="5" font-weight="normal" fill="#484848" text-anchor="end">10<tspan dy="-1.9" font-size="3.6">5</tspan></text>
<text x="126.60000000000001" y="271.7" font-size="5" font-weight="normal" fill="#484848" text-anchor="end">10<tspan dy="-1.9" font-size="3.6">4</tspan></text>
<text x="126.60000000000001" y="291.3" font-size="5" font-weight="normal" fill="#484848" text-anchor="end">10<tspan dy="-1.9" font-size="3.6">3</tspan></text>
<text x="125.80000000000001" y="304.1" font-size="5" font-weight="normal" fill="#484848" text-anchor="end">0</text>
<line x1="126.9" y1="253.0" x2="128.4" y2="253.0" stroke="#888" stroke-width="0.5"/>
<line x1="126.9" y1="270.0" x2="128.4" y2="270.0" stroke="#888" stroke-width="0.5"/>
<line x1="126.9" y1="289.5" x2="128.4" y2="289.5" stroke="#888" stroke-width="0.5"/>
<line x1="126.9" y1="302.0" x2="128.4" y2="302.0" stroke="#888" stroke-width="0.5"/>
<line x1="136.9" y1="318.5" x2="136.9" y2="320.0" stroke="#888" stroke-width="0.5"/>
<line x1="144.4" y1="318.5" x2="144.4" y2="320.0" stroke="#888" stroke-width="0.5"/>
<line x1="161.4" y1="318.5" x2="161.4" y2="320.0" stroke="#888" stroke-width="0.5"/>
<line x1="178.4" y1="318.5" x2="178.4" y2="320.0" stroke="#888" stroke-width="0.5"/>
<line x1="194.9" y1="318.5" x2="194.9" y2="320.0" stroke="#888" stroke-width="0.5"/>
<clipPath id="c6"><rect x="128.8" y="246.9" width="72.8" height="71.2"/></clipPath>
<g clip-path="url(#c6)">
<path d="M195.8 256.3h.01M185.7 257.2h.01M157.1 256.9h.01M194.7 254.8h.01M174.7 257.0h.01M189.3 254.7h.01M179.0 258.7h.01M167.9 255.7h.01M167.3 258.6h.01M167.7 254.5h.01M194.7 257.5h.01M165.8 255.1h.01M162.6 256.5h.01M171.9 258.9h.01M160.0 258.4h.01M158.4 258.9h.01M157.5 256.6h.01M169.0 256.9h.01M159.1 258.0h.01M173.4 255.7h.01M172.2 259.5h.01M195.8 257.3h.01M149.4 254.9h.01M190.9 256.1h.01M196.4 259.2h.01M156.3 255.5h.01M198.2 258.9h.01M192.5 256.8h.01M161.9 256.4h.01M172.3 257.3h.01M198.1 256.6h.01M164.6 255.6h.01M159.5 256.0h.01M173.2 257.5h.01M177.3 255.6h.01M169.5 258.0h.01M173.6 254.5h.01M193.3 257.2h.01M177.9 257.1h.01M157.1 255.9h.01M164.6 258.4h.01M194.4 258.7h.01M180.8 257.1h.01M187.2 257.7h.01M177.4 259.5h.01M186.3 260.3h.01M196.7 259.3h.01M195.0 256.8h.01M195.7 257.6h.01M175.6 258.0h.01M180.6 257.6h.01M187.2 257.8h.01M196.8 254.0h.01M192.3 257.5h.01M193.6 257.5h.01M181.8 258.2h.01M189.2 257.3h.01M182.5 256.4h.01M150.3 256.8h.01M174.3 257.4h.01M155.2 256.3h.01M189.1 255.9h.01M165.0 257.7h.01M153.1 257.0h.01M173.8 254.5h.01M150.3 257.0h.01M157.9 257.0h.01M189.6 258.4h.01M181.9 257.1h.01M187.0 258.3h.01M176.5 258.0h.01M150.2 257.8h.01M171.6 257.1h.01M165.8 258.1h.01M191.8 257.5h.01M155.5 257.3h.01M170.2 254.2h.01M185.0 258.2h.01M162.3 258.1h.01M190.2 258.2h.01M160.1 257.1h.01M196.4 255.8h.01M196.3 258.1h.01M178.2 259.1h.01M168.2 254.2h.01M172.8 256.7h.01M176.9 256.7h.01M186.6 257.0h.01M154.2 257.1h.01M177.1 256.9h.01M161.6 256.3h.01M186.0 255.3h.01M189.6 257.6h.01M160.4 257.0h.01M173.0 258.2h.01M159.3 256.4h.01M174.9 256.8h.01M189.0 257.5h.01M171.5 257.3h.01M165.7 256.5h.01M154.8 257.8h.01M179.0 255.8h.01M151.5 255.8h.01M183.9 257.5h.01M160.7 258.2h.01M174.4 256.9h.01M172.3 256.8h.01M150.9 257.4h.01M194.2 258.8h.01M155.6 256.8h.01M158.6 256.9h.01M165.9 257.3h.01M163.0 255.9h.01M176.6 259.2h.01M198.5 256.8h.01M186.7 257.5h.01M185.0 257.5h.01M189.3 255.9h.01M153.9 256.6h.01M177.0 255.0h.01M179.4 255.7h.01M172.5 257.3h.01M179.1 257.7h.01M176.6 256.0h.01M168.3 258.0h.01M149.3 258.8h.01M192.5 257.8h.01M185.9 257.2h.01M170.5 256.5h.01M195.1 258.4h.01M181.0 255.0h.01M161.1 259.4h.01M153.7 256.8h.01M188.4 254.7h.01M168.6 256.6h.01M162.3 256.2h.01M195.6 258.9h.01M176.3 254.5h.01M184.2 256.2h.01M194.9 258.0h.01M185.9 257.7h.01M169.4 256.7h.01M194.4 259.2h.01M192.8 255.9h.01M162.1 256.9h.01M171.7 256.4h.01M149.6 256.2h.01M169.3 257.3h.01M182.2 255.8h.01M195.2 254.6h.01M164.2 256.3h.01M161.6 258.2h.01M190.8 257.5h.01M181.1 255.2h.01M163.5 256.6h.01M153.6 259.2h.01M198.1 257.5h.01M186.6 257.7h.01M194.1 258.7h.01M174.2 259.6h.01M155.2 256.1h.01M181.1 256.7h.01M180.1 258.5h.01M191.7 254.5h.01M182.4 256.7h.01M190.4 254.4h.01M173.5 260.1h.01M158.8 255.8h.01M159.5 255.8h.01M169.9 255.9h.01M173.7 257.4h.01M178.4 258.3h.01M186.3 256.8h.01M159.4 256.4h.01M172.9 257.1h.01M185.5 256.0h.01M160.4 256.2h.01M158.7 259.4h.01M190.6 256.7h.01M172.3 256.9h.01M175.8 257.9h.01M173.0 257.9h.01M172.4 258.1h.01M193.4 256.4h.01M163.5 257.0h.01M177.9 256.2h.01M186.0 257.2h.01M185.8 256.6h.01M156.6 258.1h.01M191.3 256.8h.01M157.1 258.6h.01M159.9 256.9h.01M194.3 257.5h.01M170.2 255.0h.01M160.5 255.3h.01M185.5 255.1h.01M184.2 258.3h.01M163.4 257.6h.01M175.4 256.1h.01M149.1 255.5h.01M164.2 256.7h.01M163.1 258.3h.01M158.5 257.3h.01M192.7 258.5h.01M159.7 258.9h.01M193.4 256.5h.01M192.8 257.1h.01M158.6 254.1h.01M180.3 256.5h.01M162.6 257.6h.01M181.0 257.4h.01M190.9 257.5h.01M189.4 257.9h.01M149.2 257.2h.01M175.4 257.7h.01M177.6 256.9h.01M170.8 256.8h.01M185.3 255.3h.01M154.3 259.3h.01M154.4 256.7h.01M149.5 257.9h.01M167.8 254.9h.01M195.0 255.9h.01M151.0 255.8h.01M173.0 256.0h.01M166.1 258.0h.01M191.0 256.6h.01M161.4 257.4h.01M190.4 255.8h.01M192.4 256.9h.01" stroke="#000" stroke-width="0.6" stroke-linecap="square" fill="none" opacity="0.8"/>
<path d="M148.7 277.0h.01M132.6 271.3h.01M132.1 304.4h.01M143.5 271.3h.01M142.3 302.8h.01M148.9 262.4h.01M138.7 290.8h.01M138.4 283.7h.01M138.7 276.6h.01M140.9 275.7h.01M135.6 277.0h.01M144.8 261.3h.01M139.0 265.9h.01M147.6 252.5h.01M136.6 309.8h.01M143.5 266.1h.01M144.0 282.1h.01M131.8 258.2h.01M130.8 269.1h.01M137.8 310.2h.01M146.9 285.0h.01M142.7 289.2h.01M145.4 274.2h.01M142.3 265.0h.01M134.3 268.0h.01M137.7 269.8h.01M141.4 254.4h.01M136.0 288.3h.01M145.1 299.3h.01M138.2 289.4h.01M130.5 307.5h.01M142.7 299.6h.01M132.0 276.8h.01M135.7 302.5h.01M144.4 261.5h.01M148.4 264.3h.01M132.5 285.6h.01M138.3 309.3h.01M130.9 306.4h.01M143.6 271.0h.01M132.9 294.4h.01M130.6 269.6h.01M131.6 272.9h.01M148.9 302.7h.01M140.5 290.7h.01M142.0 299.1h.01M145.8 309.8h.01M148.0 272.6h.01M148.0 267.1h.01M132.2 291.1h.01M130.9 304.6h.01M148.6 300.1h.01M134.9 283.7h.01M131.0 278.8h.01M145.6 263.8h.01M133.0 273.3h.01M136.7 272.0h.01M136.2 256.3h.01M142.2 281.5h.01M141.6 271.5h.01" stroke="#333" stroke-width="0.55" stroke-linecap="square" fill="none" opacity="0.6"/>
<path d="M144.7 265.3h.01M148.6 261.2h.01M144.2 273.1h.01M149.7 271.3h.01M147.3 264.1h.01M147.9 279.5h.01M144.5 265.8h.01M145.5 271.1h.01M146.3 269.4h.01M148.7 270.4h.01M148.8 269.0h.01M147.7 275.1h.01M143.1 263.1h.01M146.8 267.2h.01M146.1 271.2h.01M146.1 261.0h.01M145.7 269.9h.01M149.0 266.8h.01M148.5 273.9h.01M146.3 272.7h.01M146.1 260.0h.01M147.0 267.2h.01M148.3 281.5h.01M146.6 264.2h.01M146.9 271.2h.01M147.9 256.9h.01M145.1 276.4h.01M145.1 268.0h.01M146.7 267.8h.01M148.4 275.4h.01M143.8 261.3h.01M147.3 260.9h.01M147.0 260.4h.01M147.5 258.6h.01M142.3 260.5h.01M148.3 276.4h.01M146.5 270.3h.01M147.3 262.8h.01M147.7 271.7h.01M147.7 255.7h.01M145.6 276.2h.01M145.2 275.3h.01M149.0 269.6h.01M149.1 266.2h.01M145.9 257.4h.01M143.6 270.4h.01M145.9 258.1h.01M147.5 261.4h.01M147.4 276.8h.01M147.7 258.9h.01M149.8 268.3h.01M148.2 265.0h.01M145.2 265.1h.01M142.9 264.5h.01M146.3 272.3h.01M140.2 275.3h.01M149.1 269.1h.01M147.6 276.9h.01M147.7 258.0h.01M145.5 265.0h.01" stroke="#111" stroke-width="0.55" stroke-linecap="square" fill="none" opacity="0.7"/>
<path d="M150.0 270.0C149.8 268.2 150.2 265.2 151.5 263.5C152.8 261.8 155.2 260.3 158.0 259.5C160.8 258.7 164.7 258.6 168.0 258.5C171.3 258.4 174.7 259.1 178.0 259.0C181.3 258.9 184.9 257.8 188.0 258.0C191.1 258.2 194.8 258.7 196.5 260.0C198.2 261.3 197.8 263.9 198.0 266.0C198.2 268.1 198.8 271.1 197.5 272.5C196.2 273.9 193.2 273.9 190.0 274.2C186.8 274.5 182.2 274.2 178.0 274.2C173.8 274.2 169.2 274.2 165.0 274.2C160.8 274.2 155.5 274.7 153.0 274.0C150.5 273.3 150.2 271.8 150.0 270.0Z" fill="#8e8e8e" opacity="0.5"/>
<path d="M150.0 270.0C149.8 268.2 150.2 265.2 151.5 263.5C152.8 261.8 155.2 260.3 158.0 259.5C160.8 258.7 164.7 258.6 168.0 258.5C171.3 258.4 174.7 259.1 178.0 259.0C181.3 258.9 184.9 257.8 188.0 258.0C191.1 258.2 194.8 258.7 196.5 260.0C198.2 261.3 197.8 263.9 198.0 266.0C198.2 268.1 198.8 271.1 197.5 272.5C196.2 273.9 193.2 273.9 190.0 274.2C186.8 274.5 182.2 274.2 178.0 274.2C173.8 274.2 169.2 274.2 165.0 274.2C160.8 274.2 155.5 274.7 153.0 274.0C150.5 273.3 150.2 271.8 150.0 270.0Z" fill="none" stroke="#333" stroke-width="0.5"/>
<path d="M153.6 269.9C153.4 268.3 153.3 264.9 154.5 263.4C155.8 261.9 158.4 261.3 160.9 260.7C163.4 260.1 166.6 260.2 169.3 260.0C171.9 259.9 174.0 259.9 176.8 259.8C179.6 259.8 183.4 259.7 186.0 259.8C188.7 259.9 191.4 259.4 192.7 260.4C193.9 261.5 193.5 264.2 193.6 266.1C193.6 267.9 193.9 270.5 192.8 271.6C191.8 272.7 189.7 272.3 187.1 272.6C184.4 273.0 180.5 273.5 177.1 273.7C173.7 273.8 170.2 273.7 166.6 273.5C163.1 273.3 157.9 273.1 155.8 272.5C153.6 271.9 153.8 271.4 153.6 269.9Z" fill="none" stroke="#444" stroke-width="0.4"/>
<path d="M157.0 269.6C156.8 268.4 156.7 265.4 157.7 264.0C158.7 262.6 161.0 261.6 163.0 261.2C164.9 260.9 167.1 262.0 169.3 261.9C171.5 261.8 174.0 261.0 176.2 260.9C178.4 260.8 180.5 261.1 182.6 261.2C184.7 261.4 187.7 260.8 188.9 261.7C190.1 262.5 189.6 264.9 189.6 266.3C189.6 267.7 189.8 269.3 188.9 270.2C187.9 271.1 186.0 271.5 184.0 271.8C181.9 272.0 179.4 271.7 176.7 271.7C174.0 271.6 170.7 271.3 167.8 271.2C164.8 271.2 160.8 271.5 159.0 271.3C157.2 271.0 157.2 270.9 157.0 269.6Z" fill="none" stroke="#555" stroke-width="0.4"/>
<path d="M170.9 263.7C171.2 264.5 171.3 265.5 171.0 266.4C170.6 267.3 169.7 268.3 168.8 269.0C167.9 269.8 166.6 270.3 165.4 270.9C164.2 271.4 162.9 272.0 161.7 272.2C160.4 272.4 159.1 272.3 158.0 272.1C157.0 271.9 156.2 271.3 155.4 270.9C154.6 270.4 153.7 269.9 153.3 269.2C152.9 268.5 152.9 267.5 153.1 266.6C153.4 265.7 154.0 264.7 154.9 263.9C155.8 263.1 157.1 262.2 158.4 261.8C159.6 261.3 161.1 261.4 162.3 261.3C163.5 261.2 164.6 261.2 165.7 261.3C166.9 261.3 168.2 261.4 169.1 261.8C170.0 262.2 170.6 263.0 170.9 263.7Z" fill="none" stroke="#333" stroke-width="0.4" opacity="1"/>
<path d="M168.6 264.5C168.6 265.1 168.6 265.8 168.3 266.4C168.0 267.1 167.5 267.7 166.9 268.3C166.3 268.9 165.5 269.4 164.7 270.0C163.8 270.5 162.7 271.2 161.7 271.4C160.7 271.7 159.4 271.6 158.5 271.4C157.7 271.2 157.1 270.6 156.6 270.1C156.1 269.6 155.7 269.1 155.6 268.5C155.5 267.9 155.6 267.2 155.9 266.6C156.1 265.9 156.3 265.2 156.9 264.6C157.4 264.0 158.2 263.2 159.1 262.8C160.0 262.3 161.2 262.2 162.3 262.0C163.3 261.9 164.4 261.7 165.3 261.9C166.2 262.0 167.2 262.2 167.8 262.7C168.3 263.1 168.5 263.8 168.6 264.5Z" fill="none" stroke="#333" stroke-width="0.4" opacity="1"/>
<path d="M166.3 265.2C166.5 265.6 166.7 266.0 166.7 266.4C166.6 266.9 166.4 267.5 165.9 267.9C165.5 268.4 164.7 268.8 164.0 269.1C163.3 269.4 162.5 269.7 161.8 269.9C161.1 270.0 160.3 269.9 159.6 269.8C159.0 269.7 158.5 269.4 158.1 269.1C157.7 268.8 157.3 268.4 157.2 268.0C157.1 267.6 157.4 267.0 157.6 266.6C157.8 266.1 158.1 265.7 158.4 265.2C158.8 264.7 159.3 264.1 159.9 263.8C160.5 263.4 161.4 263.1 162.2 263.0C163.0 262.9 163.8 263.0 164.4 263.1C165.0 263.3 165.5 263.6 165.9 263.9C166.2 264.3 166.2 264.7 166.3 265.2Z" fill="none" stroke="#333" stroke-width="0.4" opacity="1"/>
<path d="M165.0 265.6C165.1 265.8 165.3 266.2 165.2 266.5C165.1 266.8 164.8 267.1 164.4 267.4C164.1 267.7 163.7 267.9 163.2 268.1C162.8 268.3 162.3 268.3 161.9 268.4C161.5 268.4 161.1 268.3 160.7 268.3C160.3 268.2 159.9 268.3 159.5 268.1C159.2 268.0 158.9 267.8 158.8 267.5C158.7 267.2 158.8 266.9 158.9 266.5C159.1 266.2 159.3 265.9 159.6 265.6C159.9 265.4 160.4 265.1 160.8 265.0C161.2 264.8 161.7 264.7 162.1 264.6C162.5 264.5 163.0 264.4 163.4 264.5C163.8 264.6 164.1 264.8 164.3 265.0C164.6 265.1 164.8 265.3 165.0 265.6Z" fill="none" stroke="#333" stroke-width="0.4" opacity="1"/>
<path d="M169 273 C170 268 174 265.5 180 266.5 C186 267 192 268 195 272" fill="none" stroke="#333" stroke-width="0.45"/>
<ellipse cx="176.6" cy="270.4" rx="4.6" ry="2.6" fill="#f4f4f4" opacity="0.92"/>
<ellipse cx="188.2" cy="271.2" rx="4.6" ry="2.2" fill="#f4f4f4" opacity="0.9"/>
<ellipse cx="182.5" cy="261.8" rx="9" ry="2.8" transform="rotate(-6 182.5 261.8)" fill="#333" opacity="0.45"/>
<ellipse cx="182" cy="261.6" rx="5" ry="1.2" transform="rotate(-8 182 261.6)" fill="#050505" opacity="0.95"/>
<path d="M190.7 261.4h.01M195.7 272.4h.01M153.4 266.3h.01M184.7 264.6h.01M180.6 264.8h.01M149.3 268.3h.01M163.2 262.4h.01M179.4 266.0h.01M170.3 267.9h.01M194.0 264.6h.01M173.9 275.0h.01M189.8 263.3h.01M185.3 265.0h.01M178.7 273.0h.01M189.3 258.1h.01M174.5 270.4h.01M188.6 269.5h.01M183.6 263.1h.01M184.0 263.6h.01M155.8 267.3h.01M167.4 269.5h.01M178.7 262.6h.01M191.6 260.2h.01M165.4 263.8h.01M175.1 264.3h.01M175.1 261.3h.01M177.3 260.0h.01M168.3 269.1h.01M168.5 266.0h.01M174.8 272.4h.01M186.6 275.5h.01M163.9 265.3h.01M181.0 269.2h.01M170.0 267.5h.01M163.0 276.8h.01M196.7 263.8h.01M195.5 264.6h.01M168.8 267.5h.01M156.1 268.4h.01M198.4 266.0h.01M193.4 258.8h.01M149.2 262.9h.01M160.2 272.7h.01M167.1 267.3h.01M187.6 258.9h.01M165.6 262.2h.01M173.9 274.6h.01M165.4 260.2h.01M177.4 265.1h.01M178.8 267.1h.01M183.2 263.4h.01M181.7 270.9h.01M185.6 262.3h.01M178.1 263.5h.01M184.9 258.3h.01M175.5 264.8h.01M169.9 272.3h.01M184.1 261.5h.01M170.0 261.4h.01M166.1 264.2h.01M184.6 274.7h.01M164.4 264.7h.01M172.4 269.9h.01M167.9 265.7h.01M163.6 267.3h.01M165.9 268.8h.01M168.4 273.1h.01M188.9 264.5h.01M163.8 271.5h.01M192.2 264.0h.01M171.9 264.3h.01M170.1 270.6h.01M168.1 262.4h.01M176.2 271.5h.01M185.9 268.3h.01M152.8 262.0h.01M184.8 273.6h.01M162.1 258.9h.01M191.5 268.2h.01M190.9 272.1h.01M171.6 263.1h.01M168.4 268.0h.01M177.9 262.0h.01M183.3 263.2h.01M183.9 262.7h.01M165.7 263.9h.01M172.4 264.9h.01M167.5 269.2h.01M154.8 261.6h.01M188.8 272.0h.01M168.3 267.9h.01M169.1 269.8h.01M159.8 266.4h.01M182.5 258.3h.01M156.6 270.5h.01M173.0 265.3h.01M165.4 261.9h.01M171.9 265.3h.01M166.6 265.7h.01M157.4 267.3h.01M176.9 267.6h.01M154.9 266.2h.01M150.6 264.7h.01M168.2 270.2h.01M167.3 264.5h.01M198.2 263.2h.01M189.5 265.0h.01M159.0 265.9h.01M184.6 268.1h.01M187.7 267.6h.01M161.7 265.7h.01M175.3 268.8h.01M174.2 267.4h.01M175.0 267.6h.01M190.7 261.6h.01M163.7 266.1h.01M170.4 262.3h.01M190.2 258.6h.01M177.7 271.4h.01M149.8 275.7h.01M176.4 267.3h.01M181.6 276.6h.01M159.4 261.0h.01M154.2 266.5h.01M160.6 268.4h.01M161.5 259.5h.01M194.6 263.7h.01M179.8 263.6h.01M184.9 275.5h.01M190.2 268.0h.01M176.8 271.6h.01M166.1 275.2h.01M196.9 271.0h.01M189.7 264.7h.01M182.6 260.1h.01M178.6 271.4h.01M184.4 268.8h.01M183.9 267.3h.01M188.5 262.5h.01M186.3 262.3h.01" stroke="#111" stroke-width="0.55" stroke-linecap="square" fill="none" opacity="0.6"/>
<path d="M149 273.4 C148 270.6 149 267.4 151 266.2" fill="none" stroke="#000" stroke-width="1.2"/>
<path d="M197.0 273.4h.01M198.3 268.7h.01M197.8 273.8h.01M197.0 269.6h.01M195.6 261.4h.01M196.5 266.7h.01M196.6 268.0h.01M198.5 269.1h.01M196.0 273.8h.01M195.4 273.5h.01M198.3 270.9h.01M198.4 275.9h.01M198.3 273.6h.01M195.5 267.7h.01M196.5 267.3h.01M198.8 266.2h.01M198.3 273.4h.01M197.0 267.8h.01M198.9 269.5h.01M197.3 263.4h.01M196.9 265.0h.01M197.2 259.2h.01M194.9 265.6h.01M196.5 270.7h.01M198.7 268.3h.01M197.7 259.4h.01M196.3 270.3h.01M197.2 267.0h.01M195.2 266.7h.01M197.8 269.4h.01M195.9 268.2h.01M196.6 271.6h.01M198.2 267.6h.01M197.1 271.5h.01M198.9 264.2h.01M197.0 267.3h.01M197.6 272.1h.01M199.8 268.7h.01M197.6 271.0h.01M198.7 262.6h.01M196.7 269.3h.01M198.6 266.8h.01M197.4 260.9h.01M195.0 276.7h.01M196.7 269.9h.01M197.5 269.3h.01M194.9 271.5h.01M197.4 263.4h.01M196.8 276.5h.01M198.0 264.1h.01M197.5 271.9h.01M198.0 262.7h.01M196.7 261.3h.01M198.0 262.1h.01M199.2 269.1h.01M195.9 264.2h.01M196.6 259.0h.01M197.9 264.6h.01M197.5 263.3h.01M197.5 261.6h.01" stroke="#000" stroke-width="0.6" stroke-linecap="square" fill="none" opacity="0.8"/>
<path d="M191.5 275.8 C194.5 274.2 198 274.6 199.2 276.8" fill="none" stroke="#000" stroke-width="1"/>
<path d="M150.6 280.5C152.1 278.6 156.4 279.6 160.0 279.4C163.6 279.2 168.2 279.2 172.0 279.2C175.8 279.2 179.8 279.2 183.0 279.4C186.2 279.6 190.1 278.9 191.0 280.5C191.9 282.1 189.6 286.1 188.5 289.0C187.4 291.9 185.8 295.0 184.5 298.0C183.2 301.0 181.9 304.8 180.5 307.0C179.1 309.2 178.1 310.4 176.0 311.0C173.9 311.6 170.8 311.0 168.0 310.4C165.2 309.8 161.5 308.8 159.0 307.4C156.5 306.0 154.3 304.7 153.0 302.0C151.7 299.3 151.4 294.6 151.0 291.0C150.6 287.4 149.1 282.4 150.6 280.5Z" fill="#909090" opacity="0.5"/>
<path d="M150.6 280.5C152.1 278.6 156.4 279.6 160.0 279.4C163.6 279.2 168.2 279.2 172.0 279.2C175.8 279.2 179.8 279.2 183.0 279.4C186.2 279.6 190.1 278.9 191.0 280.5C191.9 282.1 189.6 286.1 188.5 289.0C187.4 291.9 185.8 295.0 184.5 298.0C183.2 301.0 181.9 304.8 180.5 307.0C179.1 309.2 178.1 310.4 176.0 311.0C173.9 311.6 170.8 311.0 168.0 310.4C165.2 309.8 161.5 308.8 159.0 307.4C156.5 306.0 154.3 304.7 153.0 302.0C151.7 299.3 151.4 294.6 151.0 291.0C150.6 287.4 149.1 282.4 150.6 280.5Z" fill="none" stroke="#222" stroke-width="0.6"/>
<path d="M152.9 281.5C154.1 279.7 157.5 280.6 160.5 280.6C163.4 280.6 167.2 281.5 170.7 281.5C174.1 281.6 178.5 280.8 181.3 281.0C184.1 281.1 186.8 280.9 187.5 282.2C188.2 283.5 186.5 286.5 185.7 288.8C184.9 291.2 183.9 293.8 182.6 296.5C181.4 299.2 179.4 303.2 178.0 305.2C176.6 307.2 176.1 308.1 174.4 308.5C172.7 309.0 170.3 308.3 167.9 307.8C165.5 307.3 162.3 306.8 160.1 305.7C157.9 304.5 155.9 303.3 154.8 301.0C153.6 298.6 153.6 294.9 153.3 291.7C153.0 288.4 151.7 283.4 152.9 281.5Z" fill="none" stroke="#333" stroke-width="0.45" opacity="0.9"/>
<path d="M154.5 283.4C155.5 282.0 158.5 282.4 161.2 282.3C163.8 282.1 167.7 282.7 170.5 282.7C173.3 282.8 175.7 282.2 177.9 282.4C180.1 282.7 183.0 283.1 183.7 284.3C184.5 285.5 183.1 287.7 182.4 289.7C181.7 291.7 180.5 294.1 179.6 296.2C178.6 298.3 177.5 300.6 176.6 302.2C175.6 303.8 175.5 305.2 174.0 305.8C172.6 306.4 170.1 306.4 167.9 305.8C165.6 305.3 162.5 303.7 160.5 302.5C158.6 301.3 157.3 300.6 156.4 298.7C155.5 296.8 155.2 293.7 154.9 291.1C154.6 288.6 153.5 284.9 154.5 283.4Z" fill="none" stroke="#444" stroke-width="0.45" opacity="0.9"/>
<path d="M157.7 285.5C158.7 284.2 160.9 284.7 163.0 284.7C165.1 284.6 168.2 285.1 170.3 285.1C172.4 285.1 173.7 284.8 175.6 284.9C177.4 285.0 180.7 284.9 181.3 285.8C182.0 286.6 180.2 288.6 179.3 290.1C178.5 291.7 177.2 293.5 176.4 295.2C175.5 296.8 174.7 298.8 174.0 300.1C173.4 301.4 173.5 302.5 172.4 303.0C171.3 303.5 168.9 303.2 167.2 303.0C165.4 302.7 163.4 302.4 161.9 301.5C160.4 300.6 159.1 299.0 158.3 297.4C157.5 295.8 157.2 294.0 157.1 292.1C157.0 290.1 156.8 286.7 157.7 285.5Z" fill="none" stroke="#333" stroke-width="0.5" opacity="0.9"/>
<path d="M160.0 286.5C160.7 285.6 162.7 285.8 164.2 285.8C165.8 285.8 167.7 286.2 169.2 286.3C170.7 286.4 172.1 286.5 173.4 286.6C174.7 286.7 176.4 286.3 176.9 287.0C177.4 287.6 176.8 289.2 176.5 290.6C176.2 291.9 175.7 293.9 175.0 295.2C174.3 296.5 173.0 297.4 172.2 298.2C171.4 299.0 170.9 299.9 170.0 300.2C169.1 300.4 167.8 300.1 166.6 299.8C165.3 299.6 163.7 299.2 162.7 298.7C161.6 298.3 160.6 298.2 160.2 297.0C159.8 295.8 160.1 293.1 160.1 291.4C160.1 289.6 159.4 287.4 160.0 286.5Z" fill="none" stroke="#444" stroke-width="0.45" opacity="0.9"/>
<path d="M161.8 288.0C162.0 287.5 163.0 288.7 163.9 288.7C164.9 288.7 166.4 288.1 167.6 288.0C168.8 287.8 170.1 287.8 171.1 287.8C172.1 287.8 173.0 287.7 173.5 288.2C173.9 288.6 173.9 289.9 173.7 290.7C173.5 291.6 172.5 292.4 172.1 293.4C171.7 294.5 171.8 296.2 171.3 297.1C170.8 297.9 170.0 298.2 169.4 298.3C168.7 298.5 168.1 298.5 167.3 298.1C166.4 297.7 165.2 296.5 164.3 296.0C163.4 295.6 162.2 296.2 161.9 295.5C161.6 294.7 162.5 292.8 162.5 291.6C162.5 290.3 161.5 288.5 161.8 288.0Z" fill="none" stroke="#444" stroke-width="0.45" opacity="0.9"/>
<ellipse cx="163.6" cy="290" rx="2" ry="5" fill="#f2f2f2" opacity="0.92"/>
<path d="M160 286.4 C160.5 282.6 166.5 282.6 167.4 286.4" fill="none" stroke="#222" stroke-width="0.7"/>
<ellipse cx="163.7" cy="304.6" rx="10.2" ry="2.7" transform="rotate(11 163.7 304.6)" fill="#000" opacity="0.96"/>
<ellipse cx="163" cy="304.4" rx="6.2" ry="1" transform="rotate(11 163 304.4)" fill="#f4f4f4"/>
<path d="M152 302.4 C160 309.6 172 311.8 186 311.6" fill="none" stroke="#222" stroke-width="0.6"/>
<path d="M166.7 307.9h.01M176.9 280.8h.01M174.4 296.9h.01M169.7 300.2h.01M163.8 292.8h.01M166.2 298.6h.01M179.8 299.5h.01M169.5 287.7h.01M191.5 282.7h.01M165.1 295.9h.01M177.1 288.3h.01M174.8 296.8h.01M182.3 291.4h.01M159.3 303.6h.01M169.5 307.9h.01M185.2 295.0h.01M169.5 310.1h.01M174.2 289.6h.01M168.0 309.2h.01M169.4 285.4h.01M178.5 298.0h.01M166.6 302.5h.01M169.0 283.3h.01M159.1 291.8h.01M177.1 294.9h.01M162.8 291.4h.01M179.3 289.1h.01M169.2 299.6h.01M162.8 280.7h.01M182.8 299.2h.01M166.4 280.6h.01M174.8 288.6h.01M171.8 284.3h.01M179.5 290.1h.01M168.8 290.6h.01M168.0 301.1h.01M179.0 290.3h.01M164.9 298.4h.01M156.6 291.1h.01M181.9 295.2h.01M185.1 299.2h.01M162.4 281.4h.01M173.0 288.7h.01M176.0 293.9h.01M179.3 305.9h.01M167.3 286.9h.01M168.9 285.0h.01M170.3 301.2h.01M169.2 295.9h.01M172.5 288.7h.01M151.9 284.1h.01M181.8 309.0h.01M181.8 294.5h.01M171.4 307.4h.01M181.6 293.3h.01M165.0 294.1h.01M173.7 292.7h.01M181.7 289.8h.01M183.0 309.1h.01M182.8 287.2h.01M156.4 300.8h.01M165.8 294.2h.01M165.1 287.7h.01M175.1 290.7h.01M162.7 290.8h.01M182.7 296.1h.01M191.2 294.6h.01M175.6 299.5h.01M179.8 288.7h.01M167.7 281.8h.01M171.1 291.3h.01M178.3 310.4h.01M166.8 298.9h.01M171.1 294.1h.01M183.4 292.4h.01M181.8 286.3h.01M187.2 290.9h.01M160.8 289.4h.01M178.3 302.3h.01M154.7 293.6h.01M164.6 290.9h.01M178.4 293.3h.01M178.5 301.5h.01M186.2 292.7h.01M157.4 303.8h.01M176.3 310.0h.01M187.1 299.5h.01M187.9 289.5h.01M174.3 300.2h.01M176.9 287.3h.01M184.5 289.9h.01M188.4 302.6h.01M172.8 280.6h.01M184.6 294.6h.01M183.7 299.3h.01M164.9 304.2h.01M164.8 296.3h.01M160.3 295.1h.01M183.3 296.0h.01M173.9 301.3h.01M168.5 299.7h.01M162.8 304.1h.01M182.1 297.5h.01M171.6 281.0h.01M170.9 300.9h.01M171.6 285.5h.01M183.6 305.0h.01M175.5 305.6h.01M186.4 286.2h.01M181.1 288.2h.01M171.0 305.0h.01M165.5 302.5h.01M173.9 300.1h.01M169.8 291.2h.01M174.6 297.9h.01M171.6 289.1h.01M170.8 311.5h.01M161.8 292.6h.01M167.7 303.6h.01M175.7 285.6h.01M178.5 298.4h.01M170.2 284.2h.01M181.0 291.3h.01M171.5 285.3h.01M170.5 308.0h.01M170.7 299.8h.01M163.0 297.0h.01M165.6 299.1h.01M178.3 297.6h.01M175.7 297.2h.01M158.9 290.1h.01M179.1 288.3h.01M180.8 296.1h.01M180.7 311.4h.01M173.9 290.8h.01M174.3 299.3h.01M165.9 287.2h.01M172.1 301.0h.01M162.8 293.9h.01M176.0 288.3h.01M183.8 285.1h.01M151.4 308.6h.01M163.0 306.6h.01M185.8 293.0h.01M170.4 303.4h.01M190.8 286.5h.01M167.5 308.6h.01M182.2 300.0h.01M165.6 290.6h.01M188.3 294.8h.01M161.8 285.3h.01M176.1 297.0h.01M187.2 297.1h.01M181.2 295.4h.01M163.3 294.1h.01M171.7 289.6h.01M162.5 293.0h.01M174.0 296.0h.01M168.6 300.2h.01M178.8 283.3h.01M159.5 286.3h.01M153.8 291.8h.01M157.1 288.9h.01M186.6 294.7h.01M184.5 288.1h.01M169.2 283.7h.01M178.0 292.5h.01M172.7 299.3h.01M177.2 300.9h.01M174.3 306.3h.01M171.9 287.3h.01M179.6 285.3h.01M163.5 294.2h.01M171.2 294.6h.01M171.5 302.1h.01M183.4 293.0h.01M161.2 301.7h.01M172.3 298.5h.01M177.6 309.1h.01M158.3 290.7h.01M172.2 282.4h.01M170.9 288.7h.01M178.8 302.8h.01M178.2 288.6h.01M173.5 289.7h.01M187.8 305.8h.01M174.5 295.9h.01M159.3 287.0h.01M181.7 281.2h.01M165.5 289.1h.01M181.8 290.8h.01M168.9 295.3h.01M159.1 287.7h.01M163.4 293.1h.01M189.0 297.5h.01M191.9 298.0h.01M157.8 281.9h.01M164.1 281.1h.01M162.1 288.2h.01M158.2 305.5h.01M164.6 285.6h.01M159.3 283.7h.01M181.3 293.6h.01M182.7 292.2h.01M157.6 299.8h.01M177.9 286.4h.01M169.2 304.3h.01M162.9 295.1h.01M173.5 295.3h.01M183.3 290.5h.01M187.3 287.5h.01M179.3 297.6h.01M168.9 298.2h.01M188.8 303.4h.01M167.7 294.3h.01M157.5 292.7h.01M180.1 285.8h.01M174.7 296.4h.01M162.6 288.1h.01M182.3 293.8h.01M186.8 297.7h.01M171.3 287.8h.01M172.9 299.7h.01M182.1 284.3h.01M172.4 302.4h.01M173.9 295.9h.01M183.2 280.6h.01M170.0 301.6h.01M181.8 291.0h.01M167.6 308.9h.01M178.2 298.4h.01M170.7 286.2h.01M153.1 298.8h.01M178.2 299.4h.01M168.0 289.6h.01M166.6 295.9h.01M163.4 284.1h.01M182.6 291.1h.01M176.2 286.5h.01M170.9 285.1h.01M170.0 298.7h.01M171.7 297.2h.01M156.7 284.4h.01M167.3 286.5h.01M165.8 294.5h.01M152.5 308.5h.01M187.3 288.1h.01M171.4 286.3h.01M175.6 296.4h.01M185.1 295.3h.01M173.4 287.3h.01M191.6 288.6h.01M186.3 306.0h.01M178.1 307.8h.01M164.2 305.2h.01M185.7 298.5h.01M169.3 297.3h.01M163.2 307.7h.01M179.7 283.1h.01M155.2 299.6h.01M164.3 294.9h.01M180.0 293.9h.01M191.3 289.6h.01M184.4 310.8h.01M191.0 297.5h.01M188.8 287.2h.01M183.5 290.3h.01M178.9 301.8h.01M183.4 300.3h.01M165.6 288.8h.01M171.8 287.2h.01M164.5 292.1h.01M175.2 289.9h.01M169.8 303.9h.01M183.1 284.7h.01M159.0 297.1h.01M183.7 290.4h.01M179.3 304.3h.01M179.5 299.0h.01M167.5 285.7h.01M174.3 294.5h.01M164.8 285.3h.01M164.3 283.5h.01M181.1 291.1h.01M159.8 294.4h.01M167.4 304.7h.01M152.4 283.8h.01M163.1 296.2h.01M173.2 293.8h.01M176.6 294.4h.01M190.0 281.5h.01M174.4 287.0h.01M169.3 290.6h.01M161.0 291.3h.01M171.5 289.9h.01M187.1 288.7h.01M178.8 294.0h.01M182.1 293.7h.01M163.3 310.9h.01M172.3 289.8h.01M166.7 289.3h.01M175.6 290.0h.01M172.1 285.0h.01M178.6 299.8h.01M177.1 293.5h.01M185.4 285.5h.01M171.6 295.6h.01M171.2 283.1h.01M176.9 304.9h.01M184.2 282.0h.01M180.9 293.8h.01M186.9 286.7h.01M183.9 300.7h.01M161.1 290.4h.01M172.2 300.2h.01M171.3 300.4h.01M180.5 292.7h.01M176.0 295.7h.01M163.1 301.2h.01M175.6 293.2h.01M176.5 288.0h.01M158.2 283.3h.01M183.9 301.8h.01M184.2 290.1h.01M162.0 282.2h.01M170.5 297.2h.01M173.2 292.2h.01M185.3 289.5h.01M168.2 292.4h.01M162.5 291.8h.01" stroke="#000" stroke-width="0.55" stroke-linecap="square" fill="none" opacity="0.55"/>
<path d="M192.0 289.0h.01M191.8 306.4h.01M188.5 302.6h.01M200.6 291.0h.01M191.0 299.5h.01M188.3 292.3h.01M196.7 304.3h.01M194.4 287.2h.01M189.3 283.8h.01M194.8 314.1h.01M197.5 307.6h.01M200.5 303.3h.01M192.1 309.8h.01M193.4 284.3h.01M188.0 298.4h.01M192.0 282.0h.01M189.6 305.2h.01M197.2 300.5h.01M188.1 302.7h.01M192.4 296.3h.01M191.8 283.9h.01M194.1 294.4h.01M197.5 289.0h.01M193.9 296.1h.01M189.0 288.8h.01M197.8 296.9h.01M187.7 292.3h.01M193.3 293.8h.01M192.8 292.5h.01M189.0 292.4h.01M196.3 282.9h.01M194.4 297.9h.01M194.2 285.8h.01M189.9 287.2h.01M191.7 302.9h.01M190.2 285.9h.01M191.1 301.9h.01M188.3 305.1h.01M193.0 293.7h.01M186.7 291.7h.01M194.8 307.9h.01M188.1 304.7h.01M195.9 303.1h.01M197.6 307.3h.01M191.7 292.2h.01M197.6 291.0h.01M189.3 286.8h.01M191.0 281.3h.01M193.1 293.5h.01M191.9 279.8h.01M194.9 284.6h.01M191.7 311.9h.01M196.8 283.7h.01M187.6 290.3h.01M189.8 300.4h.01M197.8 299.2h.01M194.3 283.3h.01M192.1 286.7h.01M187.9 298.0h.01M193.6 291.5h.01M195.1 297.3h.01M193.6 286.8h.01M189.7 290.9h.01M191.5 282.1h.01M192.3 306.4h.01M199.2 279.2h.01M186.8 289.2h.01M198.6 285.0h.01M187.9 280.3h.01M196.9 302.4h.01M192.7 305.9h.01M195.8 297.6h.01M185.7 290.9h.01M187.8 279.1h.01M191.4 296.6h.01M190.9 308.4h.01M191.2 290.9h.01M194.3 309.4h.01M197.0 288.6h.01M184.5 290.3h.01M185.9 287.6h.01M192.4 296.2h.01M200.7 308.3h.01M188.7 295.8h.01M195.0 296.0h.01M188.6 287.2h.01M188.6 308.2h.01M194.7 292.4h.01M192.3 311.8h.01M195.7 301.5h.01M192.2 293.4h.01M190.8 290.3h.01M186.2 293.1h.01M200.9 307.1h.01M192.9 282.5h.01M198.1 302.4h.01M187.6 295.8h.01M191.8 298.3h.01M190.6 297.2h.01M190.0 292.7h.01M191.6 284.9h.01M199.3 299.1h.01M184.2 310.6h.01M197.0 303.5h.01M195.2 285.6h.01M190.6 298.3h.01M186.9 305.0h.01M185.5 294.4h.01M192.0 300.5h.01M189.0 295.8h.01M191.8 299.0h.01M193.8 293.4h.01M194.7 298.9h.01M191.6 291.4h.01M189.3 305.3h.01M193.0 308.8h.01M187.8 290.0h.01M195.7 295.6h.01M192.0 306.0h.01M191.6 302.9h.01M187.9 293.3h.01M190.7 300.9h.01M188.0 286.2h.01M195.7 300.1h.01M188.9 279.7h.01M198.4 283.1h.01M188.5 284.2h.01M192.4 307.3h.01M190.6 300.4h.01M196.3 291.1h.01M191.5 292.6h.01M194.5 285.3h.01M194.7 286.6h.01M186.9 291.6h.01M185.8 279.4h.01M192.5 280.5h.01M189.9 300.0h.01M185.8 298.8h.01M196.3 294.7h.01M192.4 288.0h.01M194.1 283.2h.01M195.2 287.6h.01M190.6 305.6h.01M185.4 282.6h.01M194.2 304.7h.01M188.9 283.0h.01M197.2 301.6h.01M197.4 286.4h.01M194.4 301.6h.01M196.5 286.8h.01M195.8 297.5h.01M190.8 290.1h.01M188.4 293.7h.01M191.3 285.4h.01M194.7 304.4h.01M195.1 305.8h.01M186.9 306.3h.01M195.0 305.4h.01M192.6 298.9h.01M196.4 303.6h.01M187.5 291.2h.01M192.3 289.1h.01M192.8 299.7h.01M193.5 288.6h.01M190.8 285.7h.01M195.1 291.7h.01M190.9 293.3h.01M197.4 305.6h.01M193.5 286.8h.01M195.3 292.7h.01M192.1 301.0h.01M192.9 307.8h.01M200.2 294.5h.01M191.7 288.3h.01M192.5 298.6h.01M198.0 286.8h.01M194.6 302.6h.01M187.6 295.5h.01M190.0 293.0h.01M190.6 308.1h.01M199.6 302.5h.01M196.6 299.0h.01M194.8 288.0h.01M190.3 292.1h.01M197.2 302.9h.01M196.3 286.3h.01M196.1 288.1h.01M195.8 309.0h.01M192.2 303.8h.01M198.3 311.4h.01M192.0 303.8h.01M195.3 283.7h.01M188.3 286.2h.01M194.0 281.3h.01M195.2 287.7h.01M193.6 292.9h.01M194.9 280.8h.01M194.7 288.5h.01M198.8 303.1h.01M190.2 297.6h.01M196.1 280.8h.01M194.3 307.0h.01M192.0 291.0h.01M187.7 290.9h.01M196.3 314.7h.01M189.4 303.0h.01M191.3 303.7h.01M196.9 291.6h.01M190.0 294.7h.01M190.3 298.0h.01M197.2 307.9h.01M197.7 282.9h.01M196.0 289.8h.01M199.0 283.1h.01M191.1 281.9h.01M193.4 295.3h.01M192.0 289.9h.01M199.3 280.2h.01M195.1 292.9h.01M191.7 294.7h.01M192.4 287.8h.01M195.1 297.8h.01M197.3 311.9h.01M198.5 284.8h.01M191.7 281.9h.01M193.8 299.9h.01M194.5 295.4h.01M192.0 306.7h.01M197.6 299.1h.01M189.6 293.1h.01M196.6 298.3h.01M192.2 284.0h.01M196.3 309.6h.01M196.8 299.3h.01M191.3 298.5h.01M196.2 295.9h.01M188.8 287.3h.01M195.8 291.2h.01M191.8 302.7h.01M195.0 300.0h.01M189.0 293.0h.01M191.2 311.4h.01M187.9 289.0h.01M189.3 311.9h.01M186.2 292.2h.01M193.7 284.1h.01M189.3 286.3h.01M195.0 302.3h.01M196.5 290.2h.01M197.2 305.3h.01M187.6 295.6h.01M196.4 302.6h.01M188.1 297.6h.01M188.0 295.2h.01M195.0 292.6h.01M196.5 296.3h.01M193.8 295.0h.01M195.6 293.3h.01M193.9 303.4h.01M194.6 292.8h.01" stroke="#000" stroke-width="0.6" stroke-linecap="square" fill="none" opacity="0.78"/>
<path d="M169.9 312.2h.01M161.3 310.7h.01M184.4 313.5h.01M188.6 313.6h.01M167.4 309.1h.01M152.8 313.3h.01M188.6 313.6h.01M179.8 311.3h.01M154.2 311.6h.01M157.1 310.4h.01M187.2 312.7h.01M193.1 314.9h.01M185.2 315.5h.01M159.0 313.9h.01M181.1 312.4h.01M157.6 312.0h.01M193.6 313.7h.01M194.8 314.2h.01M155.0 311.2h.01M190.9 313.8h.01M174.5 311.6h.01M170.1 310.9h.01M168.3 311.8h.01M179.2 309.2h.01M159.8 313.0h.01M178.4 311.9h.01M175.9 310.8h.01M197.9 310.4h.01M176.5 310.4h.01M179.7 310.4h.01M171.5 308.4h.01M167.6 311.6h.01M180.3 314.2h.01M154.3 310.6h.01M163.2 311.7h.01M193.7 315.4h.01M185.3 315.5h.01M175.0 312.9h.01M158.2 313.8h.01M164.2 312.4h.01" stroke="#222" stroke-width="0.55" stroke-linecap="square" fill="none" opacity="0.6"/>
</g>
<path d="M129 302.6 H150" stroke="#666" stroke-width="0.45" stroke-dasharray="2.2 0.6"/>
<rect x="147.5" y="250" width="51.80000000000001" height="25.100000000000023" fill="none" stroke="#111" stroke-width="1.35"/>
<rect x="149.4" y="277.7" width="51.19999999999999" height="38.69999999999999" fill="none" stroke="#111" stroke-width="1.35"/>
<rect x="129.1" y="247.8" width="17" height="7.2" fill="#fff"/>
<text x="129.8" y="254.3" font-size="7.8" font-weight="bold" fill="#000" stroke="#000" stroke-width="0.3" text-anchor="start" >24.8</text>
<rect x="129.1" y="310.4" width="17" height="7.2" fill="#fff"/>
<text x="129.8" y="316.7" font-size="7.8" font-weight="bold" fill="#000" stroke="#000" stroke-width="0.3" text-anchor="start" >73.2</text>
<text x="138.2" y="244" font-size="9" font-weight="bold" fill="#000" stroke="#000" stroke-width="0.34" text-anchor="start" >Akt1</text>
<text x="157.8" y="239.9" font-size="9.5" font-weight="bold" fill="#000" stroke="#000" stroke-width="0.36" text-anchor="start" >-/-</text>
<text x="189" y="239.9" font-size="9.5" font-weight="bold" fill="#000" stroke="#000" stroke-width="0.36" text-anchor="start" >-/-</text>
<text x="169.3" y="244" font-size="9" font-weight="bold" fill="#000" stroke="#000" stroke-width="0.34" text-anchor="start" >Akt2</text>
<text x="203" y="257.4" font-size="11.2" font-weight="bold" fill="#000" stroke="#000" stroke-width="0.43" text-anchor="start" >LPS</text>
<line x1="82.2" y1="312.1" x2="96.0" y2="341.7" stroke="#4d4d4d" stroke-width="1.0"/>
<path d="M100.9 352.1L91.9 343.6L100.2 339.7Z" fill="#4d4d4d"/>
<line x1="164.0" y1="311.1" x2="148.9" y2="341.8" stroke="#000" stroke-width="1.2"/>
<path d="M143.8 352.1L144.8 339.8L153.0 343.8Z" fill="#000"/>
<rect x="87.3" y="353.8" width="71.60000000000001" height="72.39999999999998" fill="#fff" stroke="#aaa" stroke-width="0.8"/>
<line x1="97.8" y1="353.8" x2="97.8" y2="426.2" stroke="#e8e8e8" stroke-width="0.6"/>
<line x1="102.8" y1="353.8" x2="102.8" y2="426.2" stroke="#e8e8e8" stroke-width="0.6"/>
<line x1="119.8" y1="353.8" x2="119.8" y2="426.2" stroke="#e8e8e8" stroke-width="0.6"/>
<line x1="136.8" y1="353.8" x2="136.8" y2="426.2" stroke="#e8e8e8" stroke-width="0.6"/>
<line x1="153.3" y1="353.8" x2="153.3" y2="426.2" stroke="#e8e8e8" stroke-width="0.6"/>
<line x1="87.3" y1="412.59999999999997" x2="158.9" y2="412.59999999999997" stroke="#e8e8e8" stroke-width="0.6"/>
<line x1="87.3" y1="399.0" x2="158.9" y2="399.0" stroke="#e8e8e8" stroke-width="0.6"/>
<line x1="87.3" y1="385.4" x2="158.9" y2="385.4" stroke="#e8e8e8" stroke-width="0.6"/>
<line x1="87.3" y1="371.8" x2="158.9" y2="371.8" stroke="#e8e8e8" stroke-width="0.6"/>
<text x="84.3" y="428.3" font-size="5.2" font-weight="normal" fill="#333" text-anchor="end">0</text>
<line x1="85.8" y1="426.2" x2="87.3" y2="426.2" stroke="#777" stroke-width="0.5"/>
<text x="84.3" y="414.7" font-size="5.2" font-weight="normal" fill="#333" text-anchor="end">20</text>
<line x1="85.8" y1="412.59999999999997" x2="87.3" y2="412.59999999999997" stroke="#777" stroke-width="0.5"/>
<text x="84.3" y="401.1" font-size="5.2" font-weight="normal" fill="#333" text-anchor="end">40</text>
<line x1="85.8" y1="399.0" x2="87.3" y2="399.0" stroke="#777" stroke-width="0.5"/>
<text x="84.3" y="387.5" font-size="5.2" font-weight="normal" fill="#333" text-anchor="end">60</text>
<line x1="85.8" y1="385.4" x2="87.3" y2="385.4" stroke="#777" stroke-width="0.5"/>
<text x="84.3" y="373.9" font-size="5.2" font-weight="normal" fill="#333" text-anchor="end">80</text>
<line x1="85.8" y1="371.8" x2="87.3" y2="371.8" stroke="#777" stroke-width="0.5"/>
<text x="84.3" y="360.3" font-size="5.2" font-weight="normal" fill="#333" text-anchor="end">100</text>
<line x1="85.8" y1="358.2" x2="87.3" y2="358.2" stroke="#777" stroke-width="0.5"/>
<text x="94.89999999999999" y="435.3" font-size="5" font-weight="normal" fill="#484848" text-anchor="middle">0</text>
<text x="102.89999999999999" y="435.3" font-size="5" font-weight="normal" fill="#484848" text-anchor="middle">10<tspan dy="-1.9" font-size="3.6">2</tspan></text>
<text x="120.5" y="435.3" font-size="5" font-weight="normal" fill="#484848" text-anchor="middle">10<tspan dy="-1.9" font-size="3.6">3</tspan></text>
<text x="137.7" y="435.3" font-size="5" font-weight="normal" fill="#484848" text-anchor="middle">10<tspan dy="-1.9" font-size="3.6">4</tspan></text>
<text x="153.3" y="435.3" font-size="5" font-weight="normal" fill="#484848" text-anchor="middle">10<tspan dy="-1.9" font-size="3.6">5</tspan></text>
<path d="M88.0 425.8C90.0 425.8 97.1 425.7 100.0 425.6C102.9 425.5 104.2 425.4 105.5 425.0C106.8 424.6 107.2 423.9 108.0 423.0C108.8 422.1 109.8 421.5 110.5 419.3C111.2 417.1 111.9 413.1 112.5 410.0C113.1 406.9 113.3 405.8 114.0 400.7C114.7 395.6 116.0 385.9 116.8 379.7C117.6 373.5 118.5 366.9 119.1 363.5C119.7 360.1 120.0 359.9 120.5 359.5C121.0 359.1 121.5 360.5 122.0 361.0C122.5 361.5 122.8 361.2 123.3 362.5C123.8 363.8 124.7 366.4 125.2 369.0C125.7 371.6 126.0 374.8 126.4 378.0C126.8 381.2 127.1 385.3 127.5 388.0C127.9 390.7 128.5 391.4 129.0 394.0C129.5 396.6 129.8 401.2 130.3 403.5C130.8 405.8 131.4 406.3 132.0 408.0C132.6 409.7 133.1 412.1 133.8 413.8C134.5 415.5 135.2 417.0 136.0 418.0C136.8 419.0 137.8 420.0 138.5 420.0C139.2 420.0 139.7 419.3 140.3 418.0C140.9 416.7 141.5 412.3 142.0 412.0C142.5 411.7 142.9 414.4 143.3 416.0C143.7 417.6 143.8 420.1 144.6 421.5C145.3 422.9 146.3 423.9 147.8 424.6C149.3 425.3 151.9 425.6 153.7 425.8C155.5 426.0 157.7 426.0 158.5 426.0L158.5 426.2L88.0 426.2Z" fill="#ccc" stroke="none"/>
<path d="M88.0 425.8C90.0 425.8 97.1 425.7 100.0 425.6C102.9 425.5 104.2 425.4 105.5 425.0C106.8 424.6 107.2 423.9 108.0 423.0C108.8 422.1 109.8 421.5 110.5 419.3C111.2 417.1 111.9 413.1 112.5 410.0C113.1 406.9 113.3 405.8 114.0 400.7C114.7 395.6 116.0 385.9 116.8 379.7C117.6 373.5 118.5 366.9 119.1 363.5C119.7 360.1 120.0 359.9 120.5 359.5C121.0 359.1 121.5 360.5 122.0 361.0C122.5 361.5 122.8 361.2 123.3 362.5C123.8 363.8 124.7 366.4 125.2 369.0C125.7 371.6 126.0 374.8 126.4 378.0C126.8 381.2 127.1 385.3 127.5 388.0C127.9 390.7 128.5 391.4 129.0 394.0C129.5 396.6 129.8 401.2 130.3 403.5C130.8 405.8 131.4 406.3 132.0 408.0C132.6 409.7 133.1 412.1 133.8 413.8C134.5 415.5 135.2 417.0 136.0 418.0C136.8 419.0 137.8 420.0 138.5 420.0C139.2 420.0 139.7 419.3 140.3 418.0C140.9 416.7 141.5 412.3 142.0 412.0C142.5 411.7 142.9 414.4 143.3 416.0C143.7 417.6 143.8 420.1 144.6 421.5C145.3 422.9 146.3 423.9 147.8 424.6C149.3 425.3 151.9 425.6 153.7 425.8C155.5 426.0 157.7 426.0 158.5 426.0" fill="none" stroke="#555" stroke-width="0.9" stroke-linejoin="round"/>
<path d="M88.0 425.7L100.0 425.5L105.0 424.8L107.5 422.5L110.0 418.0L112.0 409.0L113.6 400.0L116.4 379.0L118.6 363.0L120.3 358.4L121.6 360.8L123.0 360.2L124.2 363.0L125.4 368.0L126.6 376.0L127.8 386.5L129.2 392.0L130.6 402.5L132.2 406.5L134.0 413.0L136.3 417.5L138.5 419.4L140.2 417.2L142.0 410.3L143.4 414.5L144.8 421.0L148.0 424.4L153.7 425.6L158.5 425.9" fill="none" stroke="#000" stroke-width="1.3" stroke-linejoin="round"/>
<text x="109" y="447.6" font-size="11.2" font-weight="bold" fill="#000" stroke="#000" stroke-width="0.43" text-anchor="start" >CFSE</text>
<rect x="305" y="241.7" width="9.6" height="9.6" fill="#cfcfcf" stroke="#555" stroke-width="1"/>
<rect x="304.5" y="261" width="10.6" height="9.6" fill="#000"/>
<text x="319" y="249.3" font-size="8.8" font-weight="bold" fill="#000" stroke="#000" stroke-width="0.33" text-anchor="start" >Akt1</text>
<text x="339.3" y="245.70000000000002" font-size="8.6" font-weight="bold" fill="#000" stroke="#000" stroke-width="0.33" text-anchor="start" >+/+</text>
<text x="375.4" y="245.70000000000002" font-size="8.6" font-weight="bold" fill="#000" stroke="#000" stroke-width="0.33" text-anchor="start" >+/-</text>
<text x="355" y="249.3" font-size="8.8" font-weight="bold" fill="#000" stroke="#000" stroke-width="0.33" text-anchor="start" >Akt2</text>
<text x="319" y="268.9" font-size="8.8" font-weight="bold" fill="#000" stroke="#000" stroke-width="0.33" text-anchor="start" >Akt1</text>
<text x="338.6" y="264.79999999999995" font-size="9.3" font-weight="bold" fill="#000" stroke="#000" stroke-width="0.35" text-anchor="start" >-/-</text>
<text x="370.8" y="264.79999999999995" font-size="9.3" font-weight="bold" fill="#000" stroke="#000" stroke-width="0.35" text-anchor="start" >-/-</text>
<text x="350.5" y="268.9" font-size="8.8" font-weight="bold" fill="#000" stroke="#000" stroke-width="0.33" text-anchor="start" >Akt2</text>
<line x1="297" y1="370.9" x2="423.5" y2="370.9" stroke="#d6d6d6" stroke-width="0.6"/>
<line x1="297" y1="345.8" x2="423.5" y2="345.8" stroke="#d6d6d6" stroke-width="0.6"/>
<line x1="297" y1="320.6" x2="423.5" y2="320.6" stroke="#d6d6d6" stroke-width="0.6"/>
<line x1="297" y1="295.4" x2="423.5" y2="295.4" stroke="#d6d6d6" stroke-width="0.6"/>
<line x1="297" y1="270.2" x2="423.5" y2="270.2" stroke="#d6d6d6" stroke-width="0.6"/>
<rect x="304.5" y="375.2" width="9.699999999999989" height="20.9" fill="#7a7a7a" stroke="#383838" stroke-width="0.8"/>
<line x1="309.3" y1="367.3" x2="309.3" y2="383" stroke="#2a2a2a" stroke-width="0.8"/>
<rect x="314.2" y="392.4" width="8.5" height="3.7" fill="#000" stroke="#000" stroke-width="0.8"/>
<rect x="336.1" y="384.6" width="9.599999999999966" height="11.5" fill="#7a7a7a" stroke="#383838" stroke-width="0.8"/>
<line x1="341" y1="381.2" x2="341" y2="388" stroke="#2a2a2a" stroke-width="0.8"/>
<rect x="345.7" y="393.6" width="8.5" height="2.5" fill="#000" stroke="#000" stroke-width="0.8"/>
<rect x="367.3" y="324.3" width="9.399999999999977" height="71.8" fill="#7a7a7a" stroke="#383838" stroke-width="0.8"/>
<line x1="372.1" y1="313.7" x2="372.1" y2="334.8" stroke="#2a2a2a" stroke-width="0.8"/>
<rect x="376.7" y="386.8" width="9.0" height="9.3" fill="#000" stroke="#000" stroke-width="0.8"/>
<line x1="381.2" y1="385.6" x2="381.2" y2="388" stroke="#000" stroke-width="0.8"/>
<rect x="399.1" y="311.3" width="9.099999999999966" height="84.8" fill="#7a7a7a" stroke="#383838" stroke-width="0.8"/>
<line x1="403.6" y1="291.2" x2="403.6" y2="331.3" stroke="#2a2a2a" stroke-width="0.8"/>
<rect x="408.2" y="393" width="9.199999999999989" height="3.1" fill="#000" stroke="#000" stroke-width="0.8"/>
<line x1="412.8" y1="392" x2="412.8" y2="394" stroke="#000" stroke-width="0.8"/>
<line x1="297" y1="269.9" x2="297" y2="396.5" stroke="#777" stroke-width="0.9"/>
<line x1="296.6" y1="396.1" x2="424.5" y2="396.1" stroke="#3a3a3a" stroke-width="1.1"/>
<line x1="294.4" y1="396.1" x2="297" y2="396.1" stroke="#666" stroke-width="0.7"/>
<line x1="295.2" y1="383.5" x2="297" y2="383.5" stroke="#666" stroke-width="0.7"/>
<line x1="294.4" y1="370.9" x2="297" y2="370.9" stroke="#666" stroke-width="0.7"/>
<line x1="295.2" y1="358.3" x2="297" y2="358.3" stroke="#666" stroke-width="0.7"/>
<line x1="294.4" y1="345.8" x2="297" y2="345.8" stroke="#666" stroke-width="0.7"/>
<line x1="295.2" y1="333.2" x2="297" y2="333.2" stroke="#666" stroke-width="0.7"/>
<line x1="294.4" y1="320.6" x2="297" y2="320.6" stroke="#666" stroke-width="0.7"/>
<line x1="295.2" y1="308.0" x2="297" y2="308.0" stroke="#666" stroke-width="0.7"/>
<line x1="294.4" y1="295.4" x2="297" y2="295.4" stroke="#666" stroke-width="0.7"/>
<line x1="295.2" y1="282.8" x2="297" y2="282.8" stroke="#666" stroke-width="0.7"/>
<line x1="294.4" y1="270.2" x2="297" y2="270.2" stroke="#666" stroke-width="0.7"/>
<text x="292.7" y="398.7" font-size="7" font-weight="bold" fill="#000" stroke="#000" stroke-width="0.27" text-anchor="end" >0</text>
<text x="292.7" y="373.5" font-size="7" font-weight="bold" fill="#000" stroke="#000" stroke-width="0.27" text-anchor="end" >1</text>
<text x="292.7" y="348.4" font-size="7" font-weight="bold" fill="#000" stroke="#000" stroke-width="0.27" text-anchor="end" >2</text>
<text x="292.7" y="323.2" font-size="7" font-weight="bold" fill="#000" stroke="#000" stroke-width="0.27" text-anchor="end" >3</text>
<text x="292.7" y="298.0" font-size="7" font-weight="bold" fill="#000" stroke="#000" stroke-width="0.27" text-anchor="end" >4</text>
<text x="292.7" y="272.9" font-size="7" font-weight="bold" fill="#000" stroke="#000" stroke-width="0.27" text-anchor="end" >5</text>
<line x1="329.2" y1="396.1" x2="329.2" y2="398.3" stroke="#666" stroke-width="0.7"/>
<line x1="360.6" y1="396.1" x2="360.6" y2="398.3" stroke="#666" stroke-width="0.7"/>
<line x1="392" y1="396.1" x2="392" y2="398.3" stroke="#666" stroke-width="0.7"/>
<line x1="424.1" y1="396.1" x2="424.1" y2="398.3" stroke="#666" stroke-width="0.7"/>
<text x="313.7" y="409.9" font-size="9.3" font-weight="bold" fill="#000" stroke="#000" stroke-width="0.35" text-anchor="middle" >0</text>
<text x="344.8" y="409.9" font-size="9.3" font-weight="bold" fill="#000" stroke="#000" stroke-width="0.35" text-anchor="middle" >5</text>
<text x="376.1" y="409.9" font-size="9.3" font-weight="bold" fill="#000" stroke="#000" stroke-width="0.35" text-anchor="middle" >25</text>
<text x="408.9" y="409.9" font-size="9.3" font-weight="bold" fill="#000" stroke="#000" stroke-width="0.35" text-anchor="middle" >50</text>
<text x="321.4" y="425.2" font-size="10.5" font-weight="bold" fill="#000" stroke="#000" stroke-width="0.4" text-anchor="start" >anti-IgM (<tspan font-weight="normal" stroke-width="0.15">μ</tspan>g/mL)</text>
<text transform="translate(274.8 391.2) rotate(-90)" font-size="11.8" font-weight="bold" stroke="#000" stroke-width="0.3"># viable cells (x10<tspan dy="-4.4" font-size="10">-4</tspan><tspan dy="4.4">)</tspan></text>
<path d="M306.3 339.2V332.2H321.2V339.2" fill="none" stroke="#000" stroke-width="1"/>
<text x="304.8" y="335.2" font-size="17.5" font-weight="normal" fill="#000" textLength="20.4" lengthAdjust="spacing">***</text>
<path d="M340 339.2V332.2H354.7V339.2" fill="none" stroke="#000" stroke-width="1"/>
<text x="338.4" y="335.2" font-size="17.5" font-weight="normal" fill="#000" textLength="20.4" lengthAdjust="spacing">***</text>
<path d="M369.5 297.3V290.3H384.2V297.3" fill="none" stroke="#000" stroke-width="1"/>
<text x="367.7" y="293.6" font-size="17.5" font-weight="normal" fill="#000" textLength="20.4" lengthAdjust="spacing">***</text>
<path d="M402.7 276.6V269.6H417.6V276.6" fill="none" stroke="#000" stroke-width="1"/>
<text x="401.4" y="272.6" font-size="17.5" font-weight="normal" fill="#000" textLength="20.4" lengthAdjust="spacing">***</text>
<line x1="455.6" y1="375.1" x2="515.5" y2="375.1" stroke="#d6d6d6" stroke-width="0.6"/>
<line x1="455.6" y1="354.1" x2="515.5" y2="354.1" stroke="#d6d6d6" stroke-width="0.6"/>
<line x1="455.6" y1="333.1" x2="515.5" y2="333.1" stroke="#d6d6d6" stroke-width="0.6"/>
<line x1="455.6" y1="312.1" x2="515.5" y2="312.1" stroke="#d6d6d6" stroke-width="0.6"/>
<line x1="455.6" y1="291.1" x2="515.5" y2="291.1" stroke="#d6d6d6" stroke-width="0.6"/>
<line x1="455.6" y1="270.1" x2="515.5" y2="270.1" stroke="#d6d6d6" stroke-width="0.6"/>
<rect x="462" y="387.5" width="8.600000000000023" height="8.6" fill="#7a7a7a" stroke="#383838" stroke-width="0.8"/>
<line x1="466.2" y1="383.8" x2="466.2" y2="391" stroke="#2a2a2a" stroke-width="0.8"/>
<rect x="470.6" y="394.3" width="8.399999999999977" height="1.8" fill="#000" stroke="#000" stroke-width="0.8"/>
<rect x="491.4" y="288.5" width="8.400000000000034" height="107.6" fill="#7a7a7a" stroke="#383838" stroke-width="0.8"/>
<line x1="495.6" y1="287" x2="495.6" y2="290" stroke="#2a2a2a" stroke-width="0.8"/>
<rect x="499.8" y="365.7" width="8.5" height="30.4" fill="#000" stroke="#000" stroke-width="0.8"/>
<line x1="455.6" y1="269.8" x2="455.6" y2="396.5" stroke="#777" stroke-width="0.9"/>
<line x1="455.20000000000005" y1="396.1" x2="514.5" y2="396.1" stroke="#3a3a3a" stroke-width="1.1"/>
<line x1="453.0" y1="396.1" x2="455.6" y2="396.1" stroke="#666" stroke-width="0.7"/>
<line x1="453.8" y1="385.6" x2="455.6" y2="385.6" stroke="#666" stroke-width="0.7"/>
<line x1="453.0" y1="375.1" x2="455.6" y2="375.1" stroke="#666" stroke-width="0.7"/>
<line x1="453.8" y1="364.6" x2="455.6" y2="364.6" stroke="#666" stroke-width="0.7"/>
<line x1="453.0" y1="354.1" x2="455.6" y2="354.1" stroke="#666" stroke-width="0.7"/>
<line x1="453.8" y1="343.6" x2="455.6" y2="343.6" stroke="#666" stroke-width="0.7"/>
<line x1="453.0" y1="333.1" x2="455.6" y2="333.1" stroke="#666" stroke-width="0.7"/>
<line x1="453.8" y1="322.6" x2="455.6" y2="322.6" stroke="#666" stroke-width="0.7"/>
<line x1="453.0" y1="312.1" x2="455.6" y2="312.1" stroke="#666" stroke-width="0.7"/>
<line x1="453.8" y1="301.6" x2="455.6" y2="301.6" stroke="#666" stroke-width="0.7"/>
<line x1="453.0" y1="291.1" x2="455.6" y2="291.1" stroke="#666" stroke-width="0.7"/>
<line x1="453.8" y1="280.6" x2="455.6" y2="280.6" stroke="#666" stroke-width="0.7"/>
<line x1="453.0" y1="270.1" x2="455.6" y2="270.1" stroke="#666" stroke-width="0.7"/>
<text x="451.0" y="398.7" font-size="7" font-weight="bold" fill="#000" stroke="#000" stroke-width="0.27" text-anchor="end" >0</text>
<text x="451.0" y="377.7" font-size="7" font-weight="bold" fill="#000" stroke="#000" stroke-width="0.27" text-anchor="end" >2</text>
<text x="451.0" y="356.7" font-size="7" font-weight="bold" fill="#000" stroke="#000" stroke-width="0.27" text-anchor="end" >4</text>
<text x="451.0" y="335.7" font-size="7" font-weight="bold" fill="#000" stroke="#000" stroke-width="0.27" text-anchor="end" >6</text>
<text x="451.0" y="314.7" font-size="7" font-weight="bold" fill="#000" stroke="#000" stroke-width="0.27" text-anchor="end" >8</text>
<text x="451.0" y="293.7" font-size="7" font-weight="bold" fill="#000" stroke="#000" stroke-width="0.27" text-anchor="end" >10</text>
<text x="451.0" y="272.7" font-size="7" font-weight="bold" fill="#000" stroke="#000" stroke-width="0.27" text-anchor="end" >12</text>
<line x1="484.9" y1="396.1" x2="484.9" y2="398.3" stroke="#666" stroke-width="0.7"/>
<line x1="514.1" y1="396.1" x2="514.1" y2="398.3" stroke="#666" stroke-width="0.7"/>
<text x="471" y="409.9" font-size="9.3" font-weight="bold" fill="#000" stroke="#000" stroke-width="0.35" text-anchor="middle" >0</text>
<text x="500.4" y="409.9" font-size="9.3" font-weight="bold" fill="#000" stroke="#000" stroke-width="0.35" text-anchor="middle" >1.0</text>
<text x="458.4" y="424.9" font-size="10.5" font-weight="bold" fill="#000" stroke="#000" stroke-width="0.4" text-anchor="start" >LPS (<tspan font-weight="normal" stroke-width="0.15">μ</tspan>g/mL)</text>
<path d="M493.1 276.5V269.5H508.1V276.5" fill="none" stroke="#000" stroke-width="1"/>
<text x="491.8" y="272.6" font-size="17.5" font-weight="normal" fill="#000" textLength="20.4" lengthAdjust="spacing">***</text>
</svg>
</body></html>
